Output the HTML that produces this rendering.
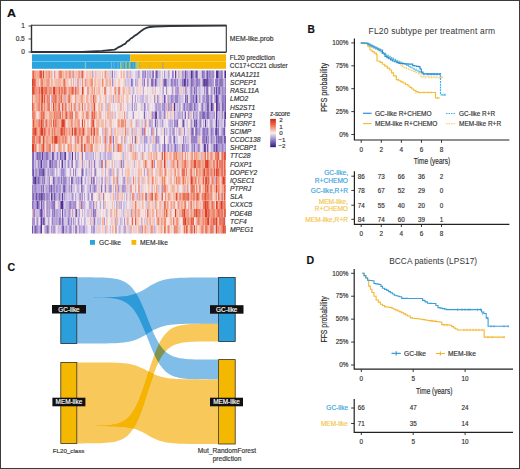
<!DOCTYPE html>
<html><head><meta charset="utf-8"><style>
html,body{margin:0;padding:0;background:#fff;}
#f{position:relative;width:520px;height:469px;overflow:hidden;background:#fff;}
svg text{font-family:"Liberation Sans", sans-serif;stroke:currentColor;stroke-width:0.16px;} svg text.n{stroke:none;}
#bd{position:absolute;left:0;top:0;width:520px;height:469px;box-sizing:border-box;border:1px solid #3a3a3a;}
</style></head><body><div id="f">
<svg width="520" height="469" viewBox="0 0 520 469" style="position:absolute;left:0;top:0">
<g><path fill="#523092" d="M156.16 70.40h1.11v8.15h-1.11zM190.53 70.40h2.22v8.15h-2.22zM201.61 70.40h1.11v8.15h-1.11zM207.15 70.40h1.11v8.15h-1.11zM209.37 70.40h1.11v8.15h-1.11zM216.02 70.40h2.22v8.15h-2.22zM221.57 70.40h1.11v8.15h-1.11zM224.89 70.40h1.11v8.15h-1.11zM183.87 78.56h1.11v8.15h-1.11zM187.20 78.56h1.11v8.15h-1.11zM190.53 78.56h1.11v8.15h-1.11zM203.83 78.56h1.11v8.15h-1.11zM207.15 78.56h1.11v8.15h-1.11zM219.35 78.56h1.11v8.15h-1.11zM221.57 78.56h1.11v8.15h-1.11zM190.53 86.71h1.11v8.15h-1.11zM219.35 86.71h1.11v8.15h-1.11zM187.20 94.87h1.11v8.15h-1.11zM196.07 94.87h1.11v8.15h-1.11zM199.39 94.87h1.11v8.15h-1.11zM210.48 94.87h1.11v8.15h-1.11zM216.02 94.87h1.11v8.15h-1.11zM168.35 103.02h1.11v8.15h-1.11zM173.90 103.02h1.11v8.15h-1.11zM179.44 103.02h1.11v8.15h-1.11zM201.61 103.02h1.11v8.15h-1.11zM207.15 103.02h1.11v8.15h-1.11zM210.48 103.02h2.22v8.15h-2.22zM216.02 103.02h1.11v8.15h-1.11zM221.57 103.02h1.11v8.15h-1.11zM199.39 111.18h1.11v8.15h-1.11zM216.02 111.18h1.11v8.15h-1.11zM221.57 111.18h1.11v8.15h-1.11zM224.89 111.18h1.11v8.15h-1.11zM182.77 119.33h1.11v8.15h-1.11zM216.02 119.33h1.11v8.15h-1.11zM210.48 127.48h1.11v8.15h-1.11zM223.78 127.48h1.11v8.15h-1.11zM210.48 135.64h1.11v8.15h-1.11zM218.24 135.64h1.11v8.15h-1.11zM220.46 135.64h1.11v8.15h-1.11zM203.83 143.80h1.11v8.15h-1.11zM207.15 143.80h1.11v8.15h-1.11zM59.71 151.95h1.11v8.15h-1.11zM71.91 151.95h1.11v8.15h-1.11zM75.23 151.95h1.11v8.15h-1.11zM40.87 160.11h1.11v8.15h-1.11zM49.74 160.11h1.11v8.15h-1.11zM88.54 160.11h1.11v8.15h-1.11zM43.09 168.26h1.11v8.15h-1.11zM34.22 176.41h2.22v8.15h-2.22zM48.63 176.41h1.11v8.15h-1.11zM80.78 176.41h1.11v8.15h-1.11zM56.39 184.57h1.11v8.15h-1.11zM38.65 192.72h1.11v8.15h-1.11zM46.41 192.72h1.11v8.15h-1.11zM50.85 192.72h1.11v8.15h-1.11zM54.17 192.72h1.11v8.15h-1.11zM46.41 200.88h1.11v8.15h-1.11zM60.82 200.88h2.22v8.15h-2.22zM46.41 209.03h1.11v8.15h-1.11zM36.43 217.19h1.11v8.15h-1.11zM40.87 217.19h1.11v8.15h-1.11zM40.87 225.34h1.11v8.15h-1.11zM47.52 225.34h1.11v8.15h-1.11z"/><path fill="#60409d" d="M168.35 70.40h1.11v8.15h-1.11zM175.01 70.40h1.11v8.15h-1.11zM196.07 70.40h1.11v8.15h-1.11zM147.29 78.56h1.11v8.15h-1.11zM151.73 78.56h1.11v8.15h-1.11zM202.72 78.56h1.11v8.15h-1.11zM206.05 78.56h1.11v8.15h-1.11zM216.02 86.71h1.11v8.15h-1.11zM218.24 86.71h1.11v8.15h-1.11zM157.27 94.87h1.11v8.15h-1.11zM170.57 94.87h1.11v8.15h-1.11zM217.13 94.87h1.11v8.15h-1.11zM221.57 94.87h1.11v8.15h-1.11zM170.57 103.02h1.11v8.15h-1.11zM189.42 103.02h1.11v8.15h-1.11zM208.26 103.02h1.11v8.15h-1.11zM217.13 103.02h1.11v8.15h-1.11zM155.05 111.18h2.22v8.15h-2.22zM188.31 111.18h1.11v8.15h-1.11zM207.15 111.18h1.11v8.15h-1.11zM177.22 119.33h1.11v8.15h-1.11zM190.53 119.33h1.11v8.15h-1.11zM196.07 119.33h1.11v8.15h-1.11zM204.94 119.33h1.11v8.15h-1.11zM223.78 119.33h1.11v8.15h-1.11zM169.46 127.48h1.11v8.15h-1.11zM216.02 127.48h1.11v8.15h-1.11zM223.78 135.64h1.11v8.15h-1.11zM181.66 143.80h1.11v8.15h-1.11zM216.02 143.80h1.11v8.15h-1.11zM221.57 143.80h1.11v8.15h-1.11zM41.98 151.95h1.11v8.15h-1.11zM64.15 151.95h2.22v8.15h-2.22zM77.45 151.95h1.11v8.15h-1.11zM37.54 160.11h1.11v8.15h-1.11zM61.93 160.11h1.11v8.15h-1.11zM120.69 160.11h1.11v8.15h-1.11zM33.11 168.26h1.11v8.15h-1.11zM38.65 168.26h1.11v8.15h-1.11zM47.52 168.26h1.11v8.15h-1.11zM75.23 168.26h1.11v8.15h-1.11zM33.11 176.41h1.11v8.15h-1.11zM35.33 184.57h1.11v8.15h-1.11zM48.63 184.57h1.11v8.15h-1.11zM64.15 184.57h1.11v8.15h-1.11zM89.65 184.57h1.11v8.15h-1.11zM100.73 184.57h1.11v8.15h-1.11zM40.87 192.72h1.11v8.15h-1.11zM58.61 192.72h1.11v8.15h-1.11zM61.93 192.72h1.11v8.15h-1.11zM36.43 200.88h2.22v8.15h-2.22zM40.87 209.03h1.11v8.15h-1.11zM78.56 209.03h1.11v8.15h-1.11zM43.09 217.19h1.11v8.15h-1.11zM46.41 225.34h1.11v8.15h-1.11zM75.23 225.34h1.11v8.15h-1.11z"/><path fill="#6f51a8" d="M138.42 70.40h1.11v8.15h-1.11zM149.51 70.40h1.11v8.15h-1.11zM184.98 70.40h1.11v8.15h-1.11zM150.62 78.56h1.11v8.15h-1.11zM155.05 78.56h1.11v8.15h-1.11zM165.03 78.56h1.11v8.15h-1.11zM170.57 78.56h1.11v8.15h-1.11zM184.98 78.56h1.11v8.15h-1.11zM191.63 78.56h1.11v8.15h-1.11zM204.94 78.56h1.11v8.15h-1.11zM210.48 78.56h1.11v8.15h-1.11zM220.46 78.56h1.11v8.15h-1.11zM207.15 86.71h1.11v8.15h-1.11zM213.81 86.71h1.11v8.15h-1.11zM221.57 86.71h1.11v8.15h-1.11zM163.92 94.87h1.11v8.15h-1.11zM190.53 94.87h1.11v8.15h-1.11zM192.74 94.87h1.11v8.15h-1.11zM208.26 94.87h1.11v8.15h-1.11zM159.49 103.02h1.11v8.15h-1.11zM190.53 103.02h1.11v8.15h-1.11zM219.35 103.02h1.11v8.15h-1.11zM222.67 103.02h1.11v8.15h-1.11zM159.49 111.18h1.11v8.15h-1.11zM201.61 111.18h1.11v8.15h-1.11zM208.26 111.18h1.11v8.15h-1.11zM155.05 119.33h1.11v8.15h-1.11zM193.85 119.33h1.11v8.15h-1.11zM199.39 119.33h1.11v8.15h-1.11zM190.53 127.48h1.11v8.15h-1.11zM199.39 127.48h1.11v8.15h-1.11zM135.10 135.64h1.11v8.15h-1.11zM206.05 135.64h1.11v8.15h-1.11zM221.57 135.64h1.11v8.15h-1.11zM198.29 143.80h1.11v8.15h-1.11zM204.94 143.80h1.11v8.15h-1.11zM213.81 143.80h1.11v8.15h-1.11zM33.11 151.95h1.11v8.15h-1.11zM38.65 151.95h1.11v8.15h-1.11zM51.95 151.95h1.11v8.15h-1.11zM58.61 160.11h1.11v8.15h-1.11zM67.47 160.11h1.11v8.15h-1.11zM35.33 168.26h1.11v8.15h-1.11zM44.19 176.41h1.11v8.15h-1.11zM53.06 176.41h1.11v8.15h-1.11zM68.58 176.41h1.11v8.15h-1.11zM70.80 176.41h1.11v8.15h-1.11zM90.75 176.41h1.11v8.15h-1.11zM117.36 176.41h1.11v8.15h-1.11zM43.09 184.57h1.11v8.15h-1.11zM50.85 184.57h1.11v8.15h-1.11zM105.17 184.57h1.11v8.15h-1.11zM33.11 192.72h1.11v8.15h-1.11zM35.33 192.72h2.22v8.15h-2.22zM48.63 192.72h1.11v8.15h-1.11zM40.87 200.88h1.11v8.15h-1.11zM54.17 200.88h1.11v8.15h-1.11zM69.69 200.88h1.11v8.15h-1.11zM39.76 209.03h1.11v8.15h-1.11zM54.17 209.03h1.11v8.15h-1.11zM61.93 209.03h1.11v8.15h-1.11zM75.23 209.03h2.22v8.15h-2.22zM58.61 217.19h1.11v8.15h-1.11zM32.00 225.34h1.11v8.15h-1.11zM36.43 225.34h1.11v8.15h-1.11zM63.04 225.34h1.11v8.15h-1.11z"/><path fill="#7d61b3" d="M111.82 70.40h1.11v8.15h-1.11zM147.29 70.40h1.11v8.15h-1.11zM152.83 70.40h1.11v8.15h-1.11zM197.18 70.40h1.11v8.15h-1.11zM212.70 70.40h1.11v8.15h-1.11zM218.24 70.40h1.11v8.15h-1.11zM220.46 70.40h1.11v8.15h-1.11zM163.92 78.56h1.11v8.15h-1.11zM171.68 78.56h1.11v8.15h-1.11zM177.22 78.56h1.11v8.15h-1.11zM197.18 78.56h1.11v8.15h-1.11zM199.39 78.56h1.11v8.15h-1.11zM208.26 78.56h1.11v8.15h-1.11zM217.13 78.56h1.11v8.15h-1.11zM193.85 86.71h1.11v8.15h-1.11zM210.48 86.71h1.11v8.15h-1.11zM184.98 94.87h1.11v8.15h-1.11zM207.15 94.87h1.11v8.15h-1.11zM224.89 94.87h1.11v8.15h-1.11zM193.85 103.02h1.11v8.15h-1.11zM212.70 103.02h1.11v8.15h-1.11zM224.89 103.02h1.11v8.15h-1.11zM143.97 111.18h1.11v8.15h-1.11zM181.66 111.18h1.11v8.15h-1.11zM184.98 111.18h1.11v8.15h-1.11zM192.74 111.18h1.11v8.15h-1.11zM202.72 111.18h2.22v8.15h-2.22zM223.78 111.18h1.11v8.15h-1.11zM200.50 119.33h1.11v8.15h-1.11zM218.24 119.33h1.11v8.15h-1.11zM156.16 127.48h1.11v8.15h-1.11zM191.63 127.48h2.22v8.15h-2.22zM196.07 127.48h1.11v8.15h-1.11zM207.15 127.48h1.11v8.15h-1.11zM214.91 127.48h1.11v8.15h-1.11zM222.67 127.48h1.11v8.15h-1.11zM156.16 135.64h1.11v8.15h-1.11zM163.92 135.64h1.11v8.15h-1.11zM169.46 135.64h1.11v8.15h-1.11zM173.90 135.64h1.11v8.15h-1.11zM182.77 135.64h1.11v8.15h-1.11zM202.72 135.64h1.11v8.15h-1.11zM208.26 135.64h1.11v8.15h-1.11zM216.02 135.64h1.11v8.15h-1.11zM219.35 135.64h1.11v8.15h-1.11zM224.89 135.64h1.11v8.15h-1.11zM163.92 143.80h1.11v8.15h-1.11zM170.57 143.80h1.11v8.15h-1.11zM191.63 143.80h1.11v8.15h-1.11zM193.85 143.80h1.11v8.15h-1.11zM217.13 143.80h1.11v8.15h-1.11zM36.43 151.95h2.22v8.15h-2.22zM39.76 151.95h1.11v8.15h-1.11zM53.06 151.95h1.11v8.15h-1.11zM46.41 160.11h1.11v8.15h-1.11zM48.63 160.11h1.11v8.15h-1.11zM56.39 160.11h1.11v8.15h-1.11zM94.08 160.11h1.11v8.15h-1.11zM105.17 160.11h1.11v8.15h-1.11zM39.76 168.26h1.11v8.15h-1.11zM41.98 168.26h1.11v8.15h-1.11zM56.39 168.26h1.11v8.15h-1.11zM81.89 168.26h1.11v8.15h-1.11zM95.19 168.26h1.11v8.15h-1.11zM37.54 176.41h2.22v8.15h-2.22zM58.61 176.41h1.11v8.15h-1.11zM60.82 176.41h1.11v8.15h-1.11zM65.26 176.41h1.11v8.15h-1.11zM63.04 184.57h1.11v8.15h-1.11zM68.58 184.57h1.11v8.15h-1.11zM70.80 184.57h1.11v8.15h-1.11zM80.78 184.57h1.11v8.15h-1.11zM39.76 192.72h1.11v8.15h-1.11zM41.98 192.72h1.11v8.15h-1.11zM44.19 192.72h1.11v8.15h-1.11zM79.67 192.72h1.11v8.15h-1.11zM98.51 192.72h1.11v8.15h-1.11zM38.65 200.88h1.11v8.15h-1.11zM59.71 200.88h1.11v8.15h-1.11zM75.23 200.88h1.11v8.15h-1.11zM80.78 200.88h1.11v8.15h-1.11zM48.63 209.03h1.11v8.15h-1.11zM56.39 209.03h1.11v8.15h-1.11zM44.19 217.19h1.11v8.15h-1.11zM59.71 217.19h1.11v8.15h-1.11zM61.93 217.19h1.11v8.15h-1.11zM94.08 217.19h1.11v8.15h-1.11zM34.22 225.34h2.22v8.15h-2.22zM39.76 225.34h1.11v8.15h-1.11zM69.69 225.34h1.11v8.15h-1.11zM76.34 225.34h1.11v8.15h-1.11z"/><path fill="#8b71bf" d="M145.07 70.40h1.11v8.15h-1.11zM151.73 70.40h1.11v8.15h-1.11zM157.27 70.40h1.11v8.15h-1.11zM178.33 70.40h1.11v8.15h-1.11zM192.74 70.40h1.11v8.15h-1.11zM211.59 70.40h1.11v8.15h-1.11zM223.78 70.40h1.11v8.15h-1.11zM130.66 78.56h2.22v8.15h-2.22zM143.97 78.56h1.11v8.15h-1.11zM166.14 78.56h1.11v8.15h-1.11zM181.66 78.56h2.22v8.15h-2.22zM192.74 78.56h1.11v8.15h-1.11zM196.07 78.56h1.11v8.15h-1.11zM198.29 78.56h1.11v8.15h-1.11zM209.37 78.56h1.11v8.15h-1.11zM212.70 78.56h1.11v8.15h-1.11zM216.02 78.56h1.11v8.15h-1.11zM166.14 86.71h1.11v8.15h-1.11zM171.68 86.71h1.11v8.15h-1.11zM177.22 86.71h1.11v8.15h-1.11zM196.07 86.71h1.11v8.15h-1.11zM206.05 86.71h1.11v8.15h-1.11zM131.77 94.87h1.11v8.15h-1.11zM206.05 94.87h1.11v8.15h-1.11zM211.59 94.87h1.11v8.15h-1.11zM218.24 94.87h1.11v8.15h-1.11zM131.77 103.02h1.11v8.15h-1.11zM183.87 103.02h1.11v8.15h-1.11zM191.63 103.02h1.11v8.15h-1.11zM218.24 103.02h1.11v8.15h-1.11zM151.73 111.18h1.11v8.15h-1.11zM179.44 111.18h1.11v8.15h-1.11zM157.27 119.33h1.11v8.15h-1.11zM161.70 119.33h1.11v8.15h-1.11zM210.48 119.33h1.11v8.15h-1.11zM141.75 127.48h1.11v8.15h-1.11zM202.72 127.48h2.22v8.15h-2.22zM211.59 127.48h1.11v8.15h-1.11zM217.13 127.48h2.22v8.15h-2.22zM112.93 135.64h1.11v8.15h-1.11zM131.77 135.64h1.11v8.15h-1.11zM201.61 135.64h1.11v8.15h-1.11zM203.83 135.64h1.11v8.15h-1.11zM175.01 143.80h1.11v8.15h-1.11zM219.35 143.80h1.11v8.15h-1.11zM32.00 151.95h1.11v8.15h-1.11zM45.30 151.95h3.33v8.15h-3.33zM68.58 151.95h1.11v8.15h-1.11zM81.89 151.95h1.11v8.15h-1.11zM99.62 151.95h1.11v8.15h-1.11zM32.00 160.11h2.22v8.15h-2.22zM35.33 160.11h1.11v8.15h-1.11zM39.76 160.11h1.11v8.15h-1.11zM51.95 160.11h1.11v8.15h-1.11zM55.28 160.11h1.11v8.15h-1.11zM71.91 160.11h1.11v8.15h-1.11zM76.34 160.11h1.11v8.15h-1.11zM100.73 160.11h1.11v8.15h-1.11zM32.00 168.26h1.11v8.15h-1.11zM36.43 168.26h1.11v8.15h-1.11zM40.87 168.26h1.11v8.15h-1.11zM44.19 168.26h1.11v8.15h-1.11zM117.36 168.26h1.11v8.15h-1.11zM36.43 176.41h1.11v8.15h-1.11zM54.17 176.41h1.11v8.15h-1.11zM57.50 176.41h1.11v8.15h-1.11zM71.91 176.41h1.11v8.15h-1.11zM92.97 176.41h1.11v8.15h-1.11zM40.87 184.57h1.11v8.15h-1.11zM46.41 184.57h1.11v8.15h-1.11zM54.17 184.57h1.11v8.15h-1.11zM59.71 184.57h1.11v8.15h-1.11zM94.08 184.57h1.11v8.15h-1.11zM109.60 184.57h1.11v8.15h-1.11zM37.54 192.72h1.11v8.15h-1.11zM43.09 192.72h1.11v8.15h-1.11zM75.23 192.72h1.11v8.15h-1.11zM90.75 192.72h1.11v8.15h-1.11zM129.55 192.72h1.11v8.15h-1.11zM146.18 192.72h1.11v8.15h-1.11zM32.00 200.88h1.11v8.15h-1.11zM48.63 200.88h1.11v8.15h-1.11zM53.06 200.88h1.11v8.15h-1.11zM68.58 200.88h1.11v8.15h-1.11zM99.62 200.88h1.11v8.15h-1.11zM116.25 200.88h1.11v8.15h-1.11zM59.71 209.03h1.11v8.15h-1.11zM92.97 209.03h1.11v8.15h-1.11zM130.66 209.03h1.11v8.15h-1.11zM56.39 217.19h1.11v8.15h-1.11zM67.47 217.19h2.22v8.15h-2.22zM70.80 217.19h1.11v8.15h-1.11zM61.93 225.34h1.11v8.15h-1.11z"/><path fill="#9982ca" d="M159.49 70.40h1.11v8.15h-1.11zM171.68 70.40h2.22v8.15h-2.22zM187.20 70.40h1.11v8.15h-1.11zM194.96 70.40h1.11v8.15h-1.11zM202.72 70.40h2.22v8.15h-2.22zM206.05 70.40h1.11v8.15h-1.11zM208.26 70.40h1.11v8.15h-1.11zM210.48 70.40h1.11v8.15h-1.11zM219.35 70.40h1.11v8.15h-1.11zM111.82 78.56h1.11v8.15h-1.11zM156.16 78.56h1.11v8.15h-1.11zM162.81 78.56h1.11v8.15h-1.11zM173.90 78.56h2.22v8.15h-2.22zM211.59 78.56h1.11v8.15h-1.11zM214.91 78.56h1.11v8.15h-1.11zM224.89 78.56h1.11v8.15h-1.11zM178.33 86.71h1.11v8.15h-1.11zM203.83 86.71h1.11v8.15h-1.11zM222.67 86.71h1.11v8.15h-1.11zM224.89 86.71h1.11v8.15h-1.11zM168.35 94.87h1.11v8.15h-1.11zM175.01 94.87h3.33v8.15h-3.33zM179.44 94.87h1.11v8.15h-1.11zM191.63 94.87h1.11v8.15h-1.11zM202.72 94.87h1.11v8.15h-1.11zM222.67 94.87h2.22v8.15h-2.22zM127.34 103.02h1.11v8.15h-1.11zM143.97 103.02h1.11v8.15h-1.11zM156.16 103.02h1.11v8.15h-1.11zM163.92 103.02h1.11v8.15h-1.11zM188.31 103.02h1.11v8.15h-1.11zM223.78 103.02h1.11v8.15h-1.11zM163.92 111.18h1.11v8.15h-1.11zM190.53 111.18h1.11v8.15h-1.11zM200.50 111.18h1.11v8.15h-1.11zM209.37 111.18h1.11v8.15h-1.11zM213.81 111.18h1.11v8.15h-1.11zM219.35 111.18h1.11v8.15h-1.11zM159.49 119.33h1.11v8.15h-1.11zM168.35 119.33h1.11v8.15h-1.11zM171.68 119.33h1.11v8.15h-1.11zM173.90 119.33h1.11v8.15h-1.11zM176.11 119.33h1.11v8.15h-1.11zM181.66 119.33h1.11v8.15h-1.11zM194.96 119.33h1.11v8.15h-1.11zM211.59 119.33h1.11v8.15h-1.11zM163.92 127.48h1.11v8.15h-1.11zM172.79 127.48h1.11v8.15h-1.11zM179.44 127.48h1.11v8.15h-1.11zM183.87 127.48h1.11v8.15h-1.11zM194.96 127.48h1.11v8.15h-1.11zM197.18 127.48h1.11v8.15h-1.11zM201.61 127.48h1.11v8.15h-1.11zM206.05 127.48h1.11v8.15h-1.11zM212.70 127.48h1.11v8.15h-1.11zM221.57 127.48h1.11v8.15h-1.11zM146.18 135.64h1.11v8.15h-1.11zM170.57 135.64h1.11v8.15h-1.11zM190.53 135.64h6.65v8.15h-6.65zM211.59 135.64h1.11v8.15h-1.11zM217.13 135.64h1.11v8.15h-1.11zM148.40 143.80h1.11v8.15h-1.11zM159.49 143.80h1.11v8.15h-1.11zM167.25 143.80h2.22v8.15h-2.22zM177.22 143.80h1.11v8.15h-1.11zM179.44 143.80h1.11v8.15h-1.11zM182.77 143.80h1.11v8.15h-1.11zM186.09 143.80h1.11v8.15h-1.11zM188.31 143.80h1.11v8.15h-1.11zM199.39 143.80h1.11v8.15h-1.11zM210.48 143.80h1.11v8.15h-1.11zM212.70 143.80h1.11v8.15h-1.11zM218.24 143.80h1.11v8.15h-1.11zM222.67 143.80h1.11v8.15h-1.11zM35.33 151.95h1.11v8.15h-1.11zM44.19 151.95h1.11v8.15h-1.11zM56.39 151.95h2.22v8.15h-2.22zM60.82 151.95h1.11v8.15h-1.11zM107.38 151.95h1.11v8.15h-1.11zM45.30 160.11h1.11v8.15h-1.11zM54.17 160.11h1.11v8.15h-1.11zM65.26 160.11h1.11v8.15h-1.11zM68.58 160.11h1.11v8.15h-1.11zM60.82 168.26h1.11v8.15h-1.11zM63.04 168.26h1.11v8.15h-1.11zM69.69 168.26h1.11v8.15h-1.11zM73.02 168.26h1.11v8.15h-1.11zM41.98 176.41h1.11v8.15h-1.11zM63.04 176.41h2.22v8.15h-2.22zM94.08 176.41h1.11v8.15h-1.11zM96.30 176.41h1.11v8.15h-1.11zM32.00 184.57h1.11v8.15h-1.11zM37.54 184.57h1.11v8.15h-1.11zM49.74 184.57h1.11v8.15h-1.11zM53.06 184.57h1.11v8.15h-1.11zM58.61 184.57h1.11v8.15h-1.11zM65.26 184.57h1.11v8.15h-1.11zM95.19 184.57h1.11v8.15h-1.11zM108.49 184.57h1.11v8.15h-1.11zM110.71 184.57h1.11v8.15h-1.11zM115.14 184.57h1.11v8.15h-1.11zM32.00 192.72h1.11v8.15h-1.11zM47.52 192.72h1.11v8.15h-1.11zM51.95 192.72h1.11v8.15h-1.11zM55.28 192.72h1.11v8.15h-1.11zM64.15 192.72h1.11v8.15h-1.11zM91.86 192.72h1.11v8.15h-1.11zM102.95 192.72h1.11v8.15h-1.11zM126.23 192.72h1.11v8.15h-1.11zM33.11 200.88h1.11v8.15h-1.11zM35.33 200.88h1.11v8.15h-1.11zM43.09 200.88h1.11v8.15h-1.11zM51.95 200.88h1.11v8.15h-1.11zM66.37 200.88h1.11v8.15h-1.11zM92.97 200.88h1.11v8.15h-1.11zM96.30 200.88h1.11v8.15h-1.11zM120.69 200.88h1.11v8.15h-1.11zM33.11 209.03h2.22v8.15h-2.22zM41.98 209.03h1.11v8.15h-1.11zM51.95 209.03h1.11v8.15h-1.11zM65.26 209.03h1.11v8.15h-1.11zM67.47 209.03h1.11v8.15h-1.11zM94.08 209.03h2.22v8.15h-2.22zM51.95 217.19h1.11v8.15h-1.11zM97.41 217.19h1.11v8.15h-1.11zM37.54 225.34h1.11v8.15h-1.11zM54.17 225.34h1.11v8.15h-1.11zM68.58 225.34h1.11v8.15h-1.11z"/><path fill="#a892d3" d="M127.34 70.40h1.11v8.15h-1.11zM129.55 70.40h1.11v8.15h-1.11zM141.75 70.40h2.22v8.15h-2.22zM155.05 70.40h1.11v8.15h-1.11zM163.92 70.40h1.11v8.15h-1.11zM181.66 70.40h2.22v8.15h-2.22zM186.09 70.40h1.11v8.15h-1.11zM135.10 78.56h1.11v8.15h-1.11zM137.31 78.56h1.11v8.15h-1.11zM141.75 78.56h1.11v8.15h-1.11zM152.83 78.56h1.11v8.15h-1.11zM188.31 78.56h1.11v8.15h-1.11zM201.61 78.56h1.11v8.15h-1.11zM218.24 78.56h1.11v8.15h-1.11zM222.67 78.56h1.11v8.15h-1.11zM162.81 86.71h1.11v8.15h-1.11zM176.11 86.71h1.11v8.15h-1.11zM184.98 86.71h1.11v8.15h-1.11zM191.63 86.71h1.11v8.15h-1.11zM199.39 86.71h1.11v8.15h-1.11zM211.59 86.71h1.11v8.15h-1.11zM217.13 86.71h1.11v8.15h-1.11zM223.78 86.71h1.11v8.15h-1.11zM135.10 94.87h1.11v8.15h-1.11zM137.31 94.87h1.11v8.15h-1.11zM153.94 94.87h1.11v8.15h-1.11zM165.03 94.87h1.11v8.15h-1.11zM167.25 94.87h1.11v8.15h-1.11zM171.68 94.87h2.22v8.15h-2.22zM186.09 94.87h1.11v8.15h-1.11zM189.42 94.87h1.11v8.15h-1.11zM194.96 94.87h1.11v8.15h-1.11zM201.61 94.87h1.11v8.15h-1.11zM203.83 94.87h1.11v8.15h-1.11zM214.91 94.87h1.11v8.15h-1.11zM107.38 103.02h1.11v8.15h-1.11zM119.58 103.02h1.11v8.15h-1.11zM136.21 103.02h1.11v8.15h-1.11zM147.29 103.02h1.11v8.15h-1.11zM161.70 103.02h2.22v8.15h-2.22zM177.22 103.02h1.11v8.15h-1.11zM182.77 103.02h1.11v8.15h-1.11zM186.09 103.02h2.22v8.15h-2.22zM194.96 103.02h1.11v8.15h-1.11zM200.50 103.02h1.11v8.15h-1.11zM132.88 111.18h1.11v8.15h-1.11zM158.38 111.18h1.11v8.15h-1.11zM160.59 111.18h1.11v8.15h-1.11zM173.90 111.18h1.11v8.15h-1.11zM196.07 111.18h1.11v8.15h-1.11zM204.94 111.18h2.22v8.15h-2.22zM210.48 111.18h1.11v8.15h-1.11zM217.13 111.18h1.11v8.15h-1.11zM136.21 119.33h1.11v8.15h-1.11zM145.07 119.33h1.11v8.15h-1.11zM151.73 119.33h1.11v8.15h-1.11zM175.01 119.33h1.11v8.15h-1.11zM202.72 119.33h1.11v8.15h-1.11zM209.37 119.33h1.11v8.15h-1.11zM221.57 119.33h1.11v8.15h-1.11zM127.34 127.48h1.11v8.15h-1.11zM150.62 127.48h2.22v8.15h-2.22zM171.68 127.48h1.11v8.15h-1.11zM178.33 127.48h1.11v8.15h-1.11zM198.29 127.48h1.11v8.15h-1.11zM204.94 127.48h1.11v8.15h-1.11zM220.46 127.48h1.11v8.15h-1.11zM143.97 135.64h1.11v8.15h-1.11zM149.51 135.64h1.11v8.15h-1.11zM157.27 135.64h2.22v8.15h-2.22zM172.79 135.64h1.11v8.15h-1.11zM204.94 135.64h1.11v8.15h-1.11zM207.15 135.64h1.11v8.15h-1.11zM112.93 143.80h1.11v8.15h-1.11zM129.55 143.80h1.11v8.15h-1.11zM165.03 143.80h1.11v8.15h-1.11zM173.90 143.80h1.11v8.15h-1.11zM183.87 143.80h1.11v8.15h-1.11zM197.18 143.80h1.11v8.15h-1.11zM214.91 143.80h1.11v8.15h-1.11zM220.46 143.80h1.11v8.15h-1.11zM224.89 143.80h1.11v8.15h-1.11zM43.09 151.95h1.11v8.15h-1.11zM48.63 151.95h1.11v8.15h-1.11zM61.93 151.95h1.11v8.15h-1.11zM69.69 151.95h1.11v8.15h-1.11zM85.21 151.95h1.11v8.15h-1.11zM87.43 151.95h1.11v8.15h-1.11zM105.17 151.95h1.11v8.15h-1.11zM109.60 151.95h1.11v8.15h-1.11zM200.50 151.95h1.11v8.15h-1.11zM38.65 160.11h1.11v8.15h-1.11zM43.09 160.11h2.22v8.15h-2.22zM50.85 160.11h1.11v8.15h-1.11zM60.82 160.11h1.11v8.15h-1.11zM70.80 160.11h1.11v8.15h-1.11zM75.23 160.11h1.11v8.15h-1.11zM81.89 160.11h1.11v8.15h-1.11zM90.75 160.11h1.11v8.15h-1.11zM98.51 160.11h1.11v8.15h-1.11zM122.90 160.11h1.11v8.15h-1.11zM153.94 160.11h1.11v8.15h-1.11zM49.74 168.26h1.11v8.15h-1.11zM51.95 168.26h1.11v8.15h-1.11zM61.93 168.26h1.11v8.15h-1.11zM64.15 168.26h1.11v8.15h-1.11zM80.78 168.26h1.11v8.15h-1.11zM88.54 168.26h1.11v8.15h-1.11zM90.75 168.26h1.11v8.15h-1.11zM94.08 168.26h1.11v8.15h-1.11zM105.17 168.26h1.11v8.15h-1.11zM108.49 168.26h1.11v8.15h-1.11zM39.76 176.41h1.11v8.15h-1.11zM43.09 176.41h1.11v8.15h-1.11zM56.39 176.41h1.11v8.15h-1.11zM66.37 176.41h1.11v8.15h-1.11zM77.45 176.41h2.22v8.15h-2.22zM85.21 176.41h1.11v8.15h-1.11zM98.51 176.41h1.11v8.15h-1.11zM101.84 176.41h1.11v8.15h-1.11zM105.17 176.41h1.11v8.15h-1.11zM124.01 176.41h1.11v8.15h-1.11zM33.11 184.57h2.22v8.15h-2.22zM36.43 184.57h1.11v8.15h-1.11zM45.30 184.57h1.11v8.15h-1.11zM57.50 184.57h1.11v8.15h-1.11zM77.45 184.57h1.11v8.15h-1.11zM81.89 184.57h1.11v8.15h-1.11zM87.43 184.57h1.11v8.15h-1.11zM117.36 184.57h2.22v8.15h-2.22zM121.79 184.57h2.22v8.15h-2.22zM129.55 184.57h1.11v8.15h-1.11zM158.38 184.57h1.11v8.15h-1.11zM34.22 192.72h1.11v8.15h-1.11zM56.39 192.72h1.11v8.15h-1.11zM59.71 192.72h1.11v8.15h-1.11zM71.91 192.72h1.11v8.15h-1.11zM78.56 192.72h1.11v8.15h-1.11zM81.89 192.72h1.11v8.15h-1.11zM84.10 192.72h1.11v8.15h-1.11zM87.43 192.72h2.22v8.15h-2.22zM34.22 200.88h1.11v8.15h-1.11zM47.52 200.88h1.11v8.15h-1.11zM50.85 200.88h1.11v8.15h-1.11zM63.04 200.88h1.11v8.15h-1.11zM70.80 200.88h1.11v8.15h-1.11zM73.02 200.88h2.22v8.15h-2.22zM78.56 200.88h1.11v8.15h-1.11zM36.43 209.03h1.11v8.15h-1.11zM38.65 209.03h1.11v8.15h-1.11zM44.19 209.03h1.11v8.15h-1.11zM53.06 209.03h1.11v8.15h-1.11zM57.50 209.03h1.11v8.15h-1.11zM64.15 209.03h1.11v8.15h-1.11zM68.58 209.03h2.22v8.15h-2.22zM87.43 209.03h1.11v8.15h-1.11zM90.75 209.03h1.11v8.15h-1.11zM106.27 209.03h1.11v8.15h-1.11zM32.00 217.19h3.33v8.15h-3.33zM37.54 217.19h1.11v8.15h-1.11zM39.76 217.19h1.11v8.15h-1.11zM41.98 217.19h1.11v8.15h-1.11zM55.28 217.19h1.11v8.15h-1.11zM63.04 217.19h1.11v8.15h-1.11zM73.02 217.19h1.11v8.15h-1.11zM75.23 217.19h1.11v8.15h-1.11zM77.45 217.19h2.22v8.15h-2.22zM99.62 217.19h1.11v8.15h-1.11zM104.06 217.19h1.11v8.15h-1.11zM115.14 217.19h1.11v8.15h-1.11zM119.58 217.19h1.11v8.15h-1.11zM124.01 217.19h1.11v8.15h-1.11zM140.64 217.19h1.11v8.15h-1.11zM50.85 225.34h1.11v8.15h-1.11zM53.06 225.34h1.11v8.15h-1.11zM57.50 225.34h1.11v8.15h-1.11zM65.26 225.34h2.22v8.15h-2.22zM70.80 225.34h1.11v8.15h-1.11zM78.56 225.34h2.22v8.15h-2.22zM82.99 225.34h2.22v8.15h-2.22zM90.75 225.34h1.11v8.15h-1.11zM92.97 225.34h2.22v8.15h-2.22zM109.60 225.34h1.11v8.15h-1.11zM118.47 225.34h1.11v8.15h-1.11z"/><path fill="#b6a2d8" d="M91.86 70.40h1.11v8.15h-1.11zM126.23 70.40h1.11v8.15h-1.11zM137.31 70.40h1.11v8.15h-1.11zM143.97 70.40h1.11v8.15h-1.11zM199.39 70.40h1.11v8.15h-1.11zM128.45 78.56h1.11v8.15h-1.11zM148.40 78.56h1.11v8.15h-1.11zM172.79 78.56h1.11v8.15h-1.11zM176.11 78.56h1.11v8.15h-1.11zM186.09 78.56h1.11v8.15h-1.11zM193.85 78.56h2.22v8.15h-2.22zM142.86 86.71h1.11v8.15h-1.11zM159.49 86.71h1.11v8.15h-1.11zM175.01 86.71h1.11v8.15h-1.11zM186.09 86.71h1.11v8.15h-1.11zM189.42 86.71h1.11v8.15h-1.11zM194.96 86.71h1.11v8.15h-1.11zM198.29 86.71h1.11v8.15h-1.11zM220.46 86.71h1.11v8.15h-1.11zM64.15 94.87h1.11v8.15h-1.11zM108.49 94.87h1.11v8.15h-1.11zM112.93 94.87h1.11v8.15h-1.11zM139.53 94.87h1.11v8.15h-1.11zM141.75 94.87h1.11v8.15h-1.11zM178.33 94.87h1.11v8.15h-1.11zM193.85 94.87h1.11v8.15h-1.11zM197.18 94.87h1.11v8.15h-1.11zM213.81 94.87h1.11v8.15h-1.11zM220.46 94.87h1.11v8.15h-1.11zM133.99 103.02h1.11v8.15h-1.11zM145.07 103.02h1.11v8.15h-1.11zM155.05 103.02h1.11v8.15h-1.11zM157.27 103.02h2.22v8.15h-2.22zM169.46 103.02h1.11v8.15h-1.11zM196.07 103.02h2.22v8.15h-2.22zM202.72 103.02h1.11v8.15h-1.11zM204.94 103.02h2.22v8.15h-2.22zM126.23 111.18h1.11v8.15h-1.11zM148.40 111.18h1.11v8.15h-1.11zM152.83 111.18h2.22v8.15h-2.22zM177.22 111.18h2.22v8.15h-2.22zM197.18 111.18h1.11v8.15h-1.11zM211.59 111.18h2.22v8.15h-2.22zM138.42 119.33h1.11v8.15h-1.11zM148.40 119.33h3.33v8.15h-3.33zM169.46 119.33h2.22v8.15h-2.22zM183.87 119.33h1.11v8.15h-1.11zM197.18 119.33h1.11v8.15h-1.11zM217.13 119.33h1.11v8.15h-1.11zM220.46 119.33h1.11v8.15h-1.11zM224.89 119.33h1.11v8.15h-1.11zM131.77 127.48h1.11v8.15h-1.11zM142.86 127.48h1.11v8.15h-1.11zM166.14 127.48h1.11v8.15h-1.11zM173.90 127.48h1.11v8.15h-1.11zM208.26 127.48h1.11v8.15h-1.11zM120.69 135.64h1.11v8.15h-1.11zM139.53 135.64h1.11v8.15h-1.11zM145.07 135.64h1.11v8.15h-1.11zM155.05 135.64h1.11v8.15h-1.11zM168.35 135.64h1.11v8.15h-1.11zM184.98 135.64h1.11v8.15h-1.11zM188.31 135.64h1.11v8.15h-1.11zM197.18 135.64h1.11v8.15h-1.11zM199.39 135.64h1.11v8.15h-1.11zM212.70 135.64h2.22v8.15h-2.22zM222.67 135.64h1.11v8.15h-1.11zM138.42 143.80h1.11v8.15h-1.11zM143.97 143.80h1.11v8.15h-1.11zM155.05 143.80h1.11v8.15h-1.11zM158.38 143.80h1.11v8.15h-1.11zM161.70 143.80h2.22v8.15h-2.22zM176.11 143.80h1.11v8.15h-1.11zM187.20 143.80h1.11v8.15h-1.11zM190.53 143.80h1.11v8.15h-1.11zM192.74 143.80h1.11v8.15h-1.11zM202.72 143.80h1.11v8.15h-1.11zM208.26 143.80h1.11v8.15h-1.11zM223.78 143.80h1.11v8.15h-1.11zM40.87 151.95h1.11v8.15h-1.11zM49.74 151.95h1.11v8.15h-1.11zM63.04 151.95h1.11v8.15h-1.11zM86.32 151.95h1.11v8.15h-1.11zM89.65 151.95h1.11v8.15h-1.11zM92.97 151.95h1.11v8.15h-1.11zM95.19 151.95h1.11v8.15h-1.11zM108.49 151.95h1.11v8.15h-1.11zM110.71 151.95h1.11v8.15h-1.11zM53.06 160.11h1.11v8.15h-1.11zM64.15 160.11h1.11v8.15h-1.11zM77.45 160.11h1.11v8.15h-1.11zM86.32 160.11h1.11v8.15h-1.11zM37.54 168.26h1.11v8.15h-1.11zM45.30 168.26h1.11v8.15h-1.11zM50.85 168.26h1.11v8.15h-1.11zM53.06 168.26h1.11v8.15h-1.11zM65.26 168.26h1.11v8.15h-1.11zM82.99 168.26h1.11v8.15h-1.11zM85.21 168.26h2.22v8.15h-2.22zM109.60 168.26h2.22v8.15h-2.22zM121.79 168.26h1.11v8.15h-1.11zM143.97 168.26h1.11v8.15h-1.11zM55.28 176.41h1.11v8.15h-1.11zM75.23 176.41h2.22v8.15h-2.22zM87.43 176.41h1.11v8.15h-1.11zM100.73 176.41h1.11v8.15h-1.11zM122.90 176.41h1.11v8.15h-1.11zM38.65 184.57h2.22v8.15h-2.22zM41.98 184.57h1.11v8.15h-1.11zM47.52 184.57h1.11v8.15h-1.11zM51.95 184.57h1.11v8.15h-1.11zM55.28 184.57h1.11v8.15h-1.11zM66.37 184.57h1.11v8.15h-1.11zM76.34 184.57h1.11v8.15h-1.11zM78.56 184.57h1.11v8.15h-1.11zM92.97 184.57h1.11v8.15h-1.11zM96.30 184.57h1.11v8.15h-1.11zM98.51 184.57h1.11v8.15h-1.11zM124.01 184.57h2.22v8.15h-2.22zM162.81 184.57h1.11v8.15h-1.11zM45.30 192.72h1.11v8.15h-1.11zM53.06 192.72h1.11v8.15h-1.11zM57.50 192.72h1.11v8.15h-1.11zM66.37 192.72h1.11v8.15h-1.11zM68.58 192.72h1.11v8.15h-1.11zM115.14 192.72h1.11v8.15h-1.11zM41.98 200.88h1.11v8.15h-1.11zM44.19 200.88h1.11v8.15h-1.11zM49.74 200.88h1.11v8.15h-1.11zM57.50 200.88h1.11v8.15h-1.11zM67.47 200.88h1.11v8.15h-1.11zM71.91 200.88h1.11v8.15h-1.11zM81.89 200.88h1.11v8.15h-1.11zM88.54 200.88h3.33v8.15h-3.33zM102.95 200.88h1.11v8.15h-1.11zM47.52 209.03h1.11v8.15h-1.11zM55.28 209.03h1.11v8.15h-1.11zM58.61 209.03h1.11v8.15h-1.11zM71.91 209.03h1.11v8.15h-1.11zM47.52 217.19h2.22v8.15h-2.22zM53.06 217.19h2.22v8.15h-2.22zM57.50 217.19h1.11v8.15h-1.11zM84.10 217.19h1.11v8.15h-1.11zM89.65 217.19h1.11v8.15h-1.11zM117.36 217.19h1.11v8.15h-1.11zM38.65 225.34h1.11v8.15h-1.11zM44.19 225.34h2.22v8.15h-2.22zM48.63 225.34h1.11v8.15h-1.11zM60.82 225.34h1.11v8.15h-1.11zM86.32 225.34h1.11v8.15h-1.11zM105.17 225.34h1.11v8.15h-1.11zM116.25 225.34h1.11v8.15h-1.11zM119.58 225.34h1.11v8.15h-1.11zM124.01 225.34h2.22v8.15h-2.22zM129.55 225.34h1.11v8.15h-1.11z"/><path fill="#c4b3dd" d="M71.91 70.40h1.11v8.15h-1.11zM107.38 70.40h1.11v8.15h-1.11zM109.60 70.40h1.11v8.15h-1.11zM114.03 70.40h1.11v8.15h-1.11zM148.40 70.40h1.11v8.15h-1.11zM158.38 70.40h1.11v8.15h-1.11zM161.70 70.40h1.11v8.15h-1.11zM176.11 70.40h1.11v8.15h-1.11zM183.87 70.40h1.11v8.15h-1.11zM188.31 70.40h2.22v8.15h-2.22zM193.85 70.40h1.11v8.15h-1.11zM75.23 78.56h1.11v8.15h-1.11zM79.67 78.56h1.11v8.15h-1.11zM125.12 78.56h1.11v8.15h-1.11zM127.34 78.56h1.11v8.15h-1.11zM136.21 78.56h1.11v8.15h-1.11zM142.86 78.56h1.11v8.15h-1.11zM153.94 78.56h1.11v8.15h-1.11zM157.27 78.56h1.11v8.15h-1.11zM167.25 78.56h2.22v8.15h-2.22zM179.44 78.56h2.22v8.15h-2.22zM189.42 78.56h1.11v8.15h-1.11zM223.78 78.56h1.11v8.15h-1.11zM119.58 86.71h1.11v8.15h-1.11zM129.55 86.71h1.11v8.15h-1.11zM132.88 86.71h1.11v8.15h-1.11zM161.70 86.71h1.11v8.15h-1.11zM182.77 86.71h1.11v8.15h-1.11zM192.74 86.71h1.11v8.15h-1.11zM208.26 86.71h1.11v8.15h-1.11zM212.70 86.71h1.11v8.15h-1.11zM214.91 86.71h1.11v8.15h-1.11zM50.85 94.87h1.11v8.15h-1.11zM140.64 94.87h1.11v8.15h-1.11zM142.86 94.87h1.11v8.15h-1.11zM158.38 94.87h1.11v8.15h-1.11zM161.70 94.87h1.11v8.15h-1.11zM169.46 94.87h1.11v8.15h-1.11zM173.90 94.87h1.11v8.15h-1.11zM204.94 94.87h1.11v8.15h-1.11zM209.37 94.87h1.11v8.15h-1.11zM219.35 94.87h1.11v8.15h-1.11zM85.21 103.02h1.11v8.15h-1.11zM90.75 103.02h1.11v8.15h-1.11zM106.27 103.02h1.11v8.15h-1.11zM140.64 103.02h1.11v8.15h-1.11zM148.40 103.02h1.11v8.15h-1.11zM165.03 103.02h2.22v8.15h-2.22zM175.01 103.02h1.11v8.15h-1.11zM181.66 103.02h1.11v8.15h-1.11zM184.98 103.02h1.11v8.15h-1.11zM192.74 103.02h1.11v8.15h-1.11zM115.14 111.18h1.11v8.15h-1.11zM127.34 111.18h1.11v8.15h-1.11zM162.81 111.18h1.11v8.15h-1.11zM165.03 111.18h1.11v8.15h-1.11zM180.55 111.18h1.11v8.15h-1.11zM183.87 111.18h1.11v8.15h-1.11zM193.85 111.18h2.22v8.15h-2.22zM218.24 111.18h1.11v8.15h-1.11zM141.75 119.33h1.11v8.15h-1.11zM156.16 119.33h1.11v8.15h-1.11zM191.63 119.33h1.11v8.15h-1.11zM198.29 119.33h1.11v8.15h-1.11zM207.15 119.33h1.11v8.15h-1.11zM214.91 119.33h1.11v8.15h-1.11zM219.35 119.33h1.11v8.15h-1.11zM101.84 127.48h1.11v8.15h-1.11zM107.38 127.48h1.11v8.15h-1.11zM130.66 127.48h1.11v8.15h-1.11zM145.07 127.48h1.11v8.15h-1.11zM160.59 127.48h1.11v8.15h-1.11zM176.11 127.48h1.11v8.15h-1.11zM188.31 127.48h1.11v8.15h-1.11zM125.12 135.64h1.11v8.15h-1.11zM147.29 135.64h1.11v8.15h-1.11zM150.62 135.64h1.11v8.15h-1.11zM180.55 135.64h1.11v8.15h-1.11zM57.50 143.80h1.11v8.15h-1.11zM116.25 143.80h1.11v8.15h-1.11zM127.34 143.80h1.11v8.15h-1.11zM156.16 143.80h1.11v8.15h-1.11zM171.68 143.80h1.11v8.15h-1.11zM196.07 143.80h1.11v8.15h-1.11zM211.59 143.80h1.11v8.15h-1.11zM54.17 151.95h1.11v8.15h-1.11zM67.47 151.95h1.11v8.15h-1.11zM88.54 151.95h1.11v8.15h-1.11zM90.75 151.95h1.11v8.15h-1.11zM104.06 151.95h1.11v8.15h-1.11zM122.90 151.95h1.11v8.15h-1.11zM137.31 151.95h1.11v8.15h-1.11zM34.22 160.11h1.11v8.15h-1.11zM41.98 160.11h1.11v8.15h-1.11zM99.62 160.11h1.11v8.15h-1.11zM133.99 160.11h1.11v8.15h-1.11zM167.25 160.11h1.11v8.15h-1.11zM169.46 160.11h1.11v8.15h-1.11zM34.22 168.26h1.11v8.15h-1.11zM48.63 168.26h1.11v8.15h-1.11zM54.17 168.26h1.11v8.15h-1.11zM59.71 168.26h1.11v8.15h-1.11zM32.00 176.41h1.11v8.15h-1.11zM40.87 176.41h1.11v8.15h-1.11zM46.41 176.41h2.22v8.15h-2.22zM59.71 176.41h1.11v8.15h-1.11zM61.93 176.41h1.11v8.15h-1.11zM73.02 176.41h1.11v8.15h-1.11zM79.67 176.41h1.11v8.15h-1.11zM81.89 176.41h1.11v8.15h-1.11zM88.54 176.41h1.11v8.15h-1.11zM91.86 176.41h1.11v8.15h-1.11zM108.49 176.41h2.22v8.15h-2.22zM137.31 176.41h1.11v8.15h-1.11zM214.91 176.41h1.11v8.15h-1.11zM61.93 184.57h1.11v8.15h-1.11zM67.47 184.57h1.11v8.15h-1.11zM69.69 184.57h1.11v8.15h-1.11zM82.99 184.57h1.11v8.15h-1.11zM88.54 184.57h1.11v8.15h-1.11zM91.86 184.57h1.11v8.15h-1.11zM140.64 184.57h1.11v8.15h-1.11zM183.87 184.57h1.11v8.15h-1.11zM60.82 192.72h1.11v8.15h-1.11zM63.04 192.72h1.11v8.15h-1.11zM65.26 192.72h1.11v8.15h-1.11zM70.80 192.72h1.11v8.15h-1.11zM73.02 192.72h1.11v8.15h-1.11zM80.78 192.72h1.11v8.15h-1.11zM109.60 192.72h1.11v8.15h-1.11zM136.21 192.72h2.22v8.15h-2.22zM58.61 200.88h1.11v8.15h-1.11zM65.26 200.88h1.11v8.15h-1.11zM82.99 200.88h2.22v8.15h-2.22zM105.17 200.88h1.11v8.15h-1.11zM118.47 200.88h2.22v8.15h-2.22zM126.23 200.88h1.11v8.15h-1.11zM146.18 200.88h1.11v8.15h-1.11zM35.33 209.03h1.11v8.15h-1.11zM37.54 209.03h1.11v8.15h-1.11zM43.09 209.03h1.11v8.15h-1.11zM66.37 209.03h1.11v8.15h-1.11zM81.89 209.03h1.11v8.15h-1.11zM84.10 209.03h1.11v8.15h-1.11zM88.54 209.03h1.11v8.15h-1.11zM109.60 209.03h1.11v8.15h-1.11zM122.90 209.03h1.11v8.15h-1.11zM60.82 217.19h1.11v8.15h-1.11zM66.37 217.19h1.11v8.15h-1.11zM69.69 217.19h1.11v8.15h-1.11zM80.78 217.19h1.11v8.15h-1.11zM85.21 217.19h1.11v8.15h-1.11zM92.97 217.19h1.11v8.15h-1.11zM120.69 217.19h1.11v8.15h-1.11zM33.11 225.34h1.11v8.15h-1.11zM51.95 225.34h1.11v8.15h-1.11zM55.28 225.34h1.11v8.15h-1.11zM64.15 225.34h1.11v8.15h-1.11zM67.47 225.34h1.11v8.15h-1.11zM73.02 225.34h1.11v8.15h-1.11zM80.78 225.34h2.22v8.15h-2.22zM91.86 225.34h1.11v8.15h-1.11zM96.30 225.34h1.11v8.15h-1.11zM128.45 225.34h1.11v8.15h-1.11zM139.53 225.34h2.22v8.15h-2.22zM149.51 225.34h1.11v8.15h-1.11zM153.94 225.34h1.11v8.15h-1.11z"/><path fill="#d2c3e2" d="M79.67 70.40h1.11v8.15h-1.11zM97.41 70.40h1.11v8.15h-1.11zM110.71 70.40h1.11v8.15h-1.11zM116.25 70.40h1.11v8.15h-1.11zM130.66 70.40h1.11v8.15h-1.11zM135.10 70.40h2.22v8.15h-2.22zM139.53 70.40h1.11v8.15h-1.11zM150.62 70.40h1.11v8.15h-1.11zM179.44 70.40h1.11v8.15h-1.11zM204.94 70.40h1.11v8.15h-1.11zM213.81 70.40h1.11v8.15h-1.11zM107.38 78.56h1.11v8.15h-1.11zM112.93 78.56h1.11v8.15h-1.11zM126.23 78.56h1.11v8.15h-1.11zM158.38 78.56h2.22v8.15h-2.22zM161.70 78.56h1.11v8.15h-1.11zM169.46 78.56h1.11v8.15h-1.11zM178.33 78.56h1.11v8.15h-1.11zM131.77 86.71h1.11v8.15h-1.11zM136.21 86.71h1.11v8.15h-1.11zM147.29 86.71h1.11v8.15h-1.11zM149.51 86.71h1.11v8.15h-1.11zM155.05 86.71h1.11v8.15h-1.11zM172.79 86.71h1.11v8.15h-1.11zM187.20 86.71h1.11v8.15h-1.11zM197.18 86.71h1.11v8.15h-1.11zM200.50 86.71h1.11v8.15h-1.11zM204.94 86.71h1.11v8.15h-1.11zM106.27 94.87h1.11v8.15h-1.11zM116.25 94.87h1.11v8.15h-1.11zM145.07 94.87h3.33v8.15h-3.33zM159.49 94.87h1.11v8.15h-1.11zM162.81 94.87h1.11v8.15h-1.11zM180.55 94.87h3.33v8.15h-3.33zM198.29 94.87h1.11v8.15h-1.11zM59.71 103.02h1.11v8.15h-1.11zM101.84 103.02h1.11v8.15h-1.11zM130.66 103.02h1.11v8.15h-1.11zM135.10 103.02h1.11v8.15h-1.11zM141.75 103.02h1.11v8.15h-1.11zM160.59 103.02h1.11v8.15h-1.11zM176.11 103.02h1.11v8.15h-1.11zM178.33 103.02h1.11v8.15h-1.11zM198.29 103.02h1.11v8.15h-1.11zM203.83 103.02h1.11v8.15h-1.11zM209.37 103.02h1.11v8.15h-1.11zM100.73 111.18h1.11v8.15h-1.11zM110.71 111.18h1.11v8.15h-1.11zM131.77 111.18h1.11v8.15h-1.11zM138.42 111.18h1.11v8.15h-1.11zM146.18 111.18h1.11v8.15h-1.11zM161.70 111.18h1.11v8.15h-1.11zM169.46 111.18h2.22v8.15h-2.22zM175.01 111.18h2.22v8.15h-2.22zM187.20 111.18h1.11v8.15h-1.11zM220.46 111.18h1.11v8.15h-1.11zM222.67 111.18h1.11v8.15h-1.11zM108.49 119.33h1.11v8.15h-1.11zM127.34 119.33h1.11v8.15h-1.11zM135.10 119.33h1.11v8.15h-1.11zM140.64 119.33h1.11v8.15h-1.11zM160.59 119.33h1.11v8.15h-1.11zM162.81 119.33h1.11v8.15h-1.11zM186.09 119.33h2.22v8.15h-2.22zM192.74 119.33h1.11v8.15h-1.11zM206.05 119.33h1.11v8.15h-1.11zM104.06 127.48h1.11v8.15h-1.11zM111.82 127.48h1.11v8.15h-1.11zM135.10 127.48h2.22v8.15h-2.22zM140.64 127.48h1.11v8.15h-1.11zM157.27 127.48h1.11v8.15h-1.11zM167.25 127.48h1.11v8.15h-1.11zM170.57 127.48h1.11v8.15h-1.11zM187.20 127.48h1.11v8.15h-1.11zM209.37 127.48h1.11v8.15h-1.11zM74.13 135.64h1.11v8.15h-1.11zM102.95 135.64h1.11v8.15h-1.11zM106.27 135.64h2.22v8.15h-2.22zM111.82 135.64h1.11v8.15h-1.11zM126.23 135.64h1.11v8.15h-1.11zM140.64 135.64h2.22v8.15h-2.22zM159.49 135.64h1.11v8.15h-1.11zM175.01 135.64h3.33v8.15h-3.33zM183.87 135.64h1.11v8.15h-1.11zM186.09 135.64h2.22v8.15h-2.22zM214.91 135.64h1.11v8.15h-1.11zM86.32 143.80h1.11v8.15h-1.11zM97.41 143.80h1.11v8.15h-1.11zM104.06 143.80h1.11v8.15h-1.11zM125.12 143.80h1.11v8.15h-1.11zM132.88 143.80h1.11v8.15h-1.11zM135.10 143.80h1.11v8.15h-1.11zM139.53 143.80h1.11v8.15h-1.11zM141.75 143.80h1.11v8.15h-1.11zM145.07 143.80h1.11v8.15h-1.11zM151.73 143.80h3.33v8.15h-3.33zM169.46 143.80h1.11v8.15h-1.11zM172.79 143.80h1.11v8.15h-1.11zM178.33 143.80h1.11v8.15h-1.11zM184.98 143.80h1.11v8.15h-1.11zM194.96 143.80h1.11v8.15h-1.11zM201.61 143.80h1.11v8.15h-1.11zM206.05 143.80h1.11v8.15h-1.11zM34.22 151.95h1.11v8.15h-1.11zM50.85 151.95h1.11v8.15h-1.11zM55.28 151.95h1.11v8.15h-1.11zM58.61 151.95h1.11v8.15h-1.11zM70.80 151.95h1.11v8.15h-1.11zM91.86 151.95h1.11v8.15h-1.11zM97.41 151.95h1.11v8.15h-1.11zM102.95 151.95h1.11v8.15h-1.11zM121.79 151.95h1.11v8.15h-1.11zM125.12 151.95h1.11v8.15h-1.11zM139.53 151.95h1.11v8.15h-1.11zM142.86 151.95h1.11v8.15h-1.11zM63.04 160.11h1.11v8.15h-1.11zM78.56 160.11h1.11v8.15h-1.11zM84.10 160.11h1.11v8.15h-1.11zM95.19 160.11h1.11v8.15h-1.11zM114.03 160.11h1.11v8.15h-1.11zM116.25 160.11h1.11v8.15h-1.11zM118.47 160.11h1.11v8.15h-1.11zM121.79 160.11h1.11v8.15h-1.11zM128.45 160.11h1.11v8.15h-1.11zM139.53 160.11h1.11v8.15h-1.11zM46.41 168.26h1.11v8.15h-1.11zM58.61 168.26h1.11v8.15h-1.11zM77.45 168.26h1.11v8.15h-1.11zM87.43 168.26h1.11v8.15h-1.11zM89.65 168.26h1.11v8.15h-1.11zM96.30 168.26h1.11v8.15h-1.11zM98.51 168.26h1.11v8.15h-1.11zM100.73 168.26h1.11v8.15h-1.11zM111.82 168.26h1.11v8.15h-1.11zM118.47 168.26h1.11v8.15h-1.11zM146.18 168.26h1.11v8.15h-1.11zM149.51 168.26h1.11v8.15h-1.11zM157.27 168.26h1.11v8.15h-1.11zM45.30 176.41h1.11v8.15h-1.11zM51.95 176.41h1.11v8.15h-1.11zM67.47 176.41h1.11v8.15h-1.11zM74.13 176.41h1.11v8.15h-1.11zM84.10 176.41h1.11v8.15h-1.11zM104.06 176.41h1.11v8.15h-1.11zM107.38 176.41h1.11v8.15h-1.11zM119.58 176.41h1.11v8.15h-1.11zM121.79 176.41h1.11v8.15h-1.11zM125.12 176.41h1.11v8.15h-1.11zM128.45 176.41h3.33v8.15h-3.33zM140.64 176.41h1.11v8.15h-1.11zM142.86 176.41h1.11v8.15h-1.11zM169.46 176.41h1.11v8.15h-1.11zM44.19 184.57h1.11v8.15h-1.11zM60.82 184.57h1.11v8.15h-1.11zM71.91 184.57h3.33v8.15h-3.33zM84.10 184.57h1.11v8.15h-1.11zM86.32 184.57h1.11v8.15h-1.11zM90.75 184.57h1.11v8.15h-1.11zM101.84 184.57h1.11v8.15h-1.11zM104.06 184.57h1.11v8.15h-1.11zM120.69 184.57h1.11v8.15h-1.11zM126.23 184.57h1.11v8.15h-1.11zM150.62 184.57h1.11v8.15h-1.11zM160.59 184.57h1.11v8.15h-1.11zM178.33 184.57h1.11v8.15h-1.11zM67.47 192.72h1.11v8.15h-1.11zM69.69 192.72h1.11v8.15h-1.11zM77.45 192.72h1.11v8.15h-1.11zM86.32 192.72h1.11v8.15h-1.11zM116.25 192.72h1.11v8.15h-1.11zM124.01 192.72h1.11v8.15h-1.11zM133.99 192.72h1.11v8.15h-1.11zM140.64 192.72h1.11v8.15h-1.11zM160.59 192.72h1.11v8.15h-1.11zM39.76 200.88h1.11v8.15h-1.11zM64.15 200.88h1.11v8.15h-1.11zM85.21 200.88h1.11v8.15h-1.11zM91.86 200.88h1.11v8.15h-1.11zM94.08 200.88h1.11v8.15h-1.11zM114.03 200.88h1.11v8.15h-1.11zM122.90 200.88h2.22v8.15h-2.22zM129.55 200.88h1.11v8.15h-1.11zM139.53 200.88h1.11v8.15h-1.11zM49.74 209.03h1.11v8.15h-1.11zM63.04 209.03h1.11v8.15h-1.11zM86.32 209.03h1.11v8.15h-1.11zM91.86 209.03h1.11v8.15h-1.11zM96.30 209.03h1.11v8.15h-1.11zM99.62 209.03h1.11v8.15h-1.11zM107.38 209.03h1.11v8.15h-1.11zM118.47 209.03h1.11v8.15h-1.11zM120.69 209.03h1.11v8.15h-1.11zM128.45 209.03h1.11v8.15h-1.11zM133.99 209.03h1.11v8.15h-1.11zM158.38 209.03h1.11v8.15h-1.11zM45.30 217.19h1.11v8.15h-1.11zM50.85 217.19h1.11v8.15h-1.11zM64.15 217.19h2.22v8.15h-2.22zM74.13 217.19h1.11v8.15h-1.11zM87.43 217.19h1.11v8.15h-1.11zM95.19 217.19h1.11v8.15h-1.11zM98.51 217.19h1.11v8.15h-1.11zM110.71 217.19h1.11v8.15h-1.11zM121.79 217.19h1.11v8.15h-1.11zM126.23 217.19h1.11v8.15h-1.11zM143.97 217.19h1.11v8.15h-1.11zM153.94 217.19h1.11v8.15h-1.11zM58.61 225.34h2.22v8.15h-2.22zM85.21 225.34h1.11v8.15h-1.11zM99.62 225.34h1.11v8.15h-1.11zM122.90 225.34h1.11v8.15h-1.11zM155.05 225.34h1.11v8.15h-1.11zM178.33 225.34h1.11v8.15h-1.11zM214.91 225.34h1.11v8.15h-1.11z"/><path fill="#e1d3e7" d="M51.95 70.40h1.11v8.15h-1.11zM57.50 70.40h1.11v8.15h-1.11zM94.08 70.40h1.11v8.15h-1.11zM115.14 70.40h1.11v8.15h-1.11zM131.77 70.40h1.11v8.15h-1.11zM146.18 70.40h1.11v8.15h-1.11zM165.03 70.40h3.33v8.15h-3.33zM169.46 70.40h1.11v8.15h-1.11zM200.50 70.40h1.11v8.15h-1.11zM69.69 78.56h1.11v8.15h-1.11zM76.34 78.56h1.11v8.15h-1.11zM129.55 78.56h1.11v8.15h-1.11zM132.88 78.56h1.11v8.15h-1.11zM200.50 78.56h1.11v8.15h-1.11zM86.32 86.71h1.11v8.15h-1.11zM116.25 86.71h1.11v8.15h-1.11zM127.34 86.71h1.11v8.15h-1.11zM130.66 86.71h1.11v8.15h-1.11zM133.99 86.71h1.11v8.15h-1.11zM141.75 86.71h1.11v8.15h-1.11zM152.83 86.71h1.11v8.15h-1.11zM157.27 86.71h1.11v8.15h-1.11zM168.35 86.71h1.11v8.15h-1.11zM170.57 86.71h1.11v8.15h-1.11zM179.44 86.71h1.11v8.15h-1.11zM181.66 86.71h1.11v8.15h-1.11zM188.31 86.71h1.11v8.15h-1.11zM201.61 86.71h2.22v8.15h-2.22zM91.86 94.87h1.11v8.15h-1.11zM98.51 94.87h1.11v8.15h-1.11zM121.79 94.87h1.11v8.15h-1.11zM129.55 94.87h1.11v8.15h-1.11zM138.42 94.87h1.11v8.15h-1.11zM149.51 94.87h2.22v8.15h-2.22zM67.47 103.02h1.11v8.15h-1.11zM76.34 103.02h2.22v8.15h-2.22zM111.82 103.02h1.11v8.15h-1.11zM114.03 103.02h1.11v8.15h-1.11zM128.45 103.02h2.22v8.15h-2.22zM142.86 103.02h1.11v8.15h-1.11zM151.73 103.02h1.11v8.15h-1.11zM153.94 103.02h1.11v8.15h-1.11zM171.68 103.02h1.11v8.15h-1.11zM220.46 103.02h1.11v8.15h-1.11zM112.93 111.18h1.11v8.15h-1.11zM129.55 111.18h1.11v8.15h-1.11zM142.86 111.18h1.11v8.15h-1.11zM145.07 111.18h1.11v8.15h-1.11zM157.27 111.18h1.11v8.15h-1.11zM182.77 111.18h1.11v8.15h-1.11zM198.29 111.18h1.11v8.15h-1.11zM44.19 119.33h1.11v8.15h-1.11zM99.62 119.33h1.11v8.15h-1.11zM107.38 119.33h1.11v8.15h-1.11zM128.45 119.33h1.11v8.15h-1.11zM131.77 119.33h1.11v8.15h-1.11zM139.53 119.33h1.11v8.15h-1.11zM153.94 119.33h1.11v8.15h-1.11zM165.03 119.33h1.11v8.15h-1.11zM172.79 119.33h1.11v8.15h-1.11zM203.83 119.33h1.11v8.15h-1.11zM212.70 119.33h2.22v8.15h-2.22zM222.67 119.33h1.11v8.15h-1.11zM112.93 127.48h1.11v8.15h-1.11zM120.69 127.48h1.11v8.15h-1.11zM122.90 127.48h1.11v8.15h-1.11zM137.31 127.48h1.11v8.15h-1.11zM147.29 127.48h2.22v8.15h-2.22zM153.94 127.48h1.11v8.15h-1.11zM161.70 127.48h1.11v8.15h-1.11zM165.03 127.48h1.11v8.15h-1.11zM168.35 127.48h1.11v8.15h-1.11zM181.66 127.48h2.22v8.15h-2.22zM186.09 127.48h1.11v8.15h-1.11zM200.50 127.48h1.11v8.15h-1.11zM213.81 127.48h1.11v8.15h-1.11zM219.35 127.48h1.11v8.15h-1.11zM224.89 127.48h1.11v8.15h-1.11zM101.84 135.64h1.11v8.15h-1.11zM127.34 135.64h1.11v8.15h-1.11zM148.40 135.64h1.11v8.15h-1.11zM151.73 135.64h1.11v8.15h-1.11zM167.25 135.64h1.11v8.15h-1.11zM209.37 135.64h1.11v8.15h-1.11zM107.38 143.80h1.11v8.15h-1.11zM124.01 143.80h1.11v8.15h-1.11zM136.21 143.80h1.11v8.15h-1.11zM147.29 143.80h1.11v8.15h-1.11zM166.14 143.80h1.11v8.15h-1.11zM74.13 151.95h1.11v8.15h-1.11zM78.56 151.95h1.11v8.15h-1.11zM98.51 151.95h1.11v8.15h-1.11zM100.73 151.95h2.22v8.15h-2.22zM106.27 151.95h1.11v8.15h-1.11zM111.82 151.95h1.11v8.15h-1.11zM126.23 151.95h1.11v8.15h-1.11zM129.55 151.95h1.11v8.15h-1.11zM146.18 151.95h1.11v8.15h-1.11zM180.55 151.95h1.11v8.15h-1.11zM36.43 160.11h1.11v8.15h-1.11zM47.52 160.11h1.11v8.15h-1.11zM69.69 160.11h1.11v8.15h-1.11zM82.99 160.11h1.11v8.15h-1.11zM91.86 160.11h2.22v8.15h-2.22zM96.30 160.11h1.11v8.15h-1.11zM104.06 160.11h1.11v8.15h-1.11zM110.71 160.11h1.11v8.15h-1.11zM115.14 160.11h1.11v8.15h-1.11zM117.36 160.11h1.11v8.15h-1.11zM124.01 160.11h1.11v8.15h-1.11zM131.77 160.11h1.11v8.15h-1.11zM149.51 160.11h1.11v8.15h-1.11zM168.35 160.11h1.11v8.15h-1.11zM178.33 160.11h1.11v8.15h-1.11zM66.37 168.26h1.11v8.15h-1.11zM68.58 168.26h1.11v8.15h-1.11zM70.80 168.26h1.11v8.15h-1.11zM76.34 168.26h1.11v8.15h-1.11zM114.03 168.26h1.11v8.15h-1.11zM130.66 168.26h1.11v8.15h-1.11zM132.88 168.26h1.11v8.15h-1.11zM135.10 168.26h1.11v8.15h-1.11zM139.53 168.26h1.11v8.15h-1.11zM172.79 168.26h1.11v8.15h-1.11zM86.32 176.41h1.11v8.15h-1.11zM97.41 176.41h1.11v8.15h-1.11zM110.71 176.41h1.11v8.15h-1.11zM115.14 176.41h1.11v8.15h-1.11zM145.07 176.41h1.11v8.15h-1.11zM106.27 184.57h1.11v8.15h-1.11zM128.45 184.57h1.11v8.15h-1.11zM139.53 184.57h1.11v8.15h-1.11zM142.86 184.57h1.11v8.15h-1.11zM159.49 184.57h1.11v8.15h-1.11zM188.31 184.57h1.11v8.15h-1.11zM49.74 192.72h1.11v8.15h-1.11zM76.34 192.72h1.11v8.15h-1.11zM114.03 192.72h1.11v8.15h-1.11zM118.47 192.72h1.11v8.15h-1.11zM222.67 192.72h1.11v8.15h-1.11zM76.34 200.88h1.11v8.15h-1.11zM109.60 200.88h1.11v8.15h-1.11zM125.12 200.88h1.11v8.15h-1.11zM128.45 200.88h1.11v8.15h-1.11zM145.07 200.88h1.11v8.15h-1.11zM150.62 200.88h1.11v8.15h-1.11zM153.94 200.88h1.11v8.15h-1.11zM162.81 200.88h1.11v8.15h-1.11zM50.85 209.03h1.11v8.15h-1.11zM74.13 209.03h1.11v8.15h-1.11zM77.45 209.03h1.11v8.15h-1.11zM85.21 209.03h1.11v8.15h-1.11zM98.51 209.03h1.11v8.15h-1.11zM105.17 209.03h1.11v8.15h-1.11zM121.79 209.03h1.11v8.15h-1.11zM124.01 209.03h1.11v8.15h-1.11zM126.23 209.03h1.11v8.15h-1.11zM148.40 209.03h1.11v8.15h-1.11zM160.59 209.03h1.11v8.15h-1.11zM171.68 209.03h1.11v8.15h-1.11zM189.42 209.03h1.11v8.15h-1.11zM46.41 217.19h1.11v8.15h-1.11zM71.91 217.19h1.11v8.15h-1.11zM96.30 217.19h1.11v8.15h-1.11zM128.45 217.19h1.11v8.15h-1.11zM145.07 217.19h1.11v8.15h-1.11zM74.13 225.34h1.11v8.15h-1.11zM87.43 225.34h1.11v8.15h-1.11zM95.19 225.34h1.11v8.15h-1.11zM104.06 225.34h1.11v8.15h-1.11zM120.69 225.34h1.11v8.15h-1.11zM126.23 225.34h1.11v8.15h-1.11zM133.99 225.34h1.11v8.15h-1.11zM148.40 225.34h1.11v8.15h-1.11zM172.79 225.34h1.11v8.15h-1.11z"/><path fill="#efe4ec" d="M53.06 70.40h1.11v8.15h-1.11zM85.21 70.40h1.11v8.15h-1.11zM102.95 70.40h1.11v8.15h-1.11zM112.93 70.40h1.11v8.15h-1.11zM118.47 70.40h1.11v8.15h-1.11zM125.12 70.40h1.11v8.15h-1.11zM132.88 70.40h2.22v8.15h-2.22zM162.81 70.40h1.11v8.15h-1.11zM170.57 70.40h1.11v8.15h-1.11zM214.91 70.40h1.11v8.15h-1.11zM222.67 70.40h1.11v8.15h-1.11zM71.91 78.56h1.11v8.15h-1.11zM74.13 78.56h1.11v8.15h-1.11zM104.06 78.56h1.11v8.15h-1.11zM145.07 78.56h1.11v8.15h-1.11zM80.78 86.71h1.11v8.15h-1.11zM85.21 86.71h1.11v8.15h-1.11zM106.27 86.71h2.22v8.15h-2.22zM135.10 86.71h1.11v8.15h-1.11zM146.18 86.71h1.11v8.15h-1.11zM160.59 86.71h1.11v8.15h-1.11zM165.03 86.71h1.11v8.15h-1.11zM169.46 86.71h1.11v8.15h-1.11zM49.74 94.87h1.11v8.15h-1.11zM85.21 94.87h1.11v8.15h-1.11zM88.54 94.87h1.11v8.15h-1.11zM97.41 94.87h1.11v8.15h-1.11zM101.84 94.87h1.11v8.15h-1.11zM107.38 94.87h1.11v8.15h-1.11zM128.45 94.87h1.11v8.15h-1.11zM132.88 94.87h1.11v8.15h-1.11zM136.21 94.87h1.11v8.15h-1.11zM151.73 94.87h2.22v8.15h-2.22zM183.87 94.87h1.11v8.15h-1.11zM200.50 94.87h1.11v8.15h-1.11zM212.70 94.87h1.11v8.15h-1.11zM69.69 103.02h1.11v8.15h-1.11zM99.62 103.02h1.11v8.15h-1.11zM104.06 103.02h1.11v8.15h-1.11zM115.14 103.02h1.11v8.15h-1.11zM126.23 103.02h1.11v8.15h-1.11zM132.88 103.02h1.11v8.15h-1.11zM146.18 103.02h1.11v8.15h-1.11zM150.62 103.02h1.11v8.15h-1.11zM199.39 103.02h1.11v8.15h-1.11zM36.43 111.18h2.22v8.15h-2.22zM73.02 111.18h1.11v8.15h-1.11zM89.65 111.18h1.11v8.15h-1.11zM104.06 111.18h1.11v8.15h-1.11zM116.25 111.18h2.22v8.15h-2.22zM125.12 111.18h1.11v8.15h-1.11zM128.45 111.18h1.11v8.15h-1.11zM130.66 111.18h1.11v8.15h-1.11zM137.31 111.18h1.11v8.15h-1.11zM140.64 111.18h1.11v8.15h-1.11zM147.29 111.18h1.11v8.15h-1.11zM149.51 111.18h1.11v8.15h-1.11zM191.63 111.18h1.11v8.15h-1.11zM66.37 119.33h1.11v8.15h-1.11zM85.21 119.33h1.11v8.15h-1.11zM88.54 119.33h1.11v8.15h-1.11zM95.19 119.33h1.11v8.15h-1.11zM111.82 119.33h1.11v8.15h-1.11zM116.25 119.33h1.11v8.15h-1.11zM163.92 119.33h1.11v8.15h-1.11zM166.14 119.33h2.22v8.15h-2.22zM178.33 119.33h1.11v8.15h-1.11zM180.55 119.33h1.11v8.15h-1.11zM184.98 119.33h1.11v8.15h-1.11zM201.61 119.33h1.11v8.15h-1.11zM208.26 119.33h1.11v8.15h-1.11zM99.62 127.48h1.11v8.15h-1.11zM109.60 127.48h1.11v8.15h-1.11zM116.25 127.48h1.11v8.15h-1.11zM129.55 127.48h1.11v8.15h-1.11zM149.51 127.48h1.11v8.15h-1.11zM158.38 127.48h1.11v8.15h-1.11zM184.98 127.48h1.11v8.15h-1.11zM68.58 135.64h1.11v8.15h-1.11zM73.02 135.64h1.11v8.15h-1.11zM119.58 135.64h1.11v8.15h-1.11zM122.90 135.64h1.11v8.15h-1.11zM128.45 135.64h1.11v8.15h-1.11zM138.42 135.64h1.11v8.15h-1.11zM160.59 135.64h1.11v8.15h-1.11zM162.81 135.64h1.11v8.15h-1.11zM171.68 135.64h1.11v8.15h-1.11zM178.33 135.64h1.11v8.15h-1.11zM181.66 135.64h1.11v8.15h-1.11zM50.85 143.80h1.11v8.15h-1.11zM65.26 143.80h1.11v8.15h-1.11zM79.67 143.80h1.11v8.15h-1.11zM99.62 143.80h1.11v8.15h-1.11zM102.95 143.80h1.11v8.15h-1.11zM111.82 143.80h1.11v8.15h-1.11zM137.31 143.80h1.11v8.15h-1.11zM140.64 143.80h1.11v8.15h-1.11zM142.86 143.80h1.11v8.15h-1.11zM146.18 143.80h1.11v8.15h-1.11zM160.59 143.80h1.11v8.15h-1.11zM189.42 143.80h1.11v8.15h-1.11zM76.34 151.95h1.11v8.15h-1.11zM79.67 151.95h1.11v8.15h-1.11zM82.99 151.95h1.11v8.15h-1.11zM115.14 151.95h2.22v8.15h-2.22zM128.45 151.95h1.11v8.15h-1.11zM138.42 151.95h1.11v8.15h-1.11zM145.07 151.95h1.11v8.15h-1.11zM158.38 151.95h1.11v8.15h-1.11zM160.59 151.95h1.11v8.15h-1.11zM171.68 151.95h1.11v8.15h-1.11zM188.31 151.95h1.11v8.15h-1.11zM57.50 160.11h1.11v8.15h-1.11zM66.37 160.11h1.11v8.15h-1.11zM73.02 160.11h1.11v8.15h-1.11zM102.95 160.11h1.11v8.15h-1.11zM107.38 160.11h1.11v8.15h-1.11zM109.60 160.11h1.11v8.15h-1.11zM112.93 160.11h1.11v8.15h-1.11zM141.75 160.11h1.11v8.15h-1.11zM162.81 160.11h1.11v8.15h-1.11zM55.28 168.26h1.11v8.15h-1.11zM57.50 168.26h1.11v8.15h-1.11zM67.47 168.26h1.11v8.15h-1.11zM78.56 168.26h2.22v8.15h-2.22zM84.10 168.26h1.11v8.15h-1.11zM97.41 168.26h1.11v8.15h-1.11zM104.06 168.26h1.11v8.15h-1.11zM106.27 168.26h1.11v8.15h-1.11zM119.58 168.26h1.11v8.15h-1.11zM122.90 168.26h2.22v8.15h-2.22zM129.55 168.26h1.11v8.15h-1.11zM133.99 168.26h1.11v8.15h-1.11zM145.07 168.26h1.11v8.15h-1.11zM162.81 168.26h1.11v8.15h-1.11zM180.55 168.26h1.11v8.15h-1.11zM194.96 168.26h1.11v8.15h-1.11zM49.74 176.41h1.11v8.15h-1.11zM82.99 176.41h1.11v8.15h-1.11zM111.82 176.41h1.11v8.15h-1.11zM120.69 176.41h1.11v8.15h-1.11zM136.21 176.41h1.11v8.15h-1.11zM146.18 176.41h1.11v8.15h-1.11zM150.62 176.41h1.11v8.15h-1.11zM158.38 176.41h1.11v8.15h-1.11zM171.68 176.41h1.11v8.15h-1.11zM75.23 184.57h1.11v8.15h-1.11zM85.21 184.57h1.11v8.15h-1.11zM102.95 184.57h1.11v8.15h-1.11zM111.82 184.57h1.11v8.15h-1.11zM114.03 184.57h1.11v8.15h-1.11zM133.99 184.57h1.11v8.15h-1.11zM136.21 184.57h1.11v8.15h-1.11zM143.97 184.57h1.11v8.15h-1.11zM149.51 184.57h1.11v8.15h-1.11zM152.83 184.57h1.11v8.15h-1.11zM179.44 184.57h2.22v8.15h-2.22zM200.50 184.57h1.11v8.15h-1.11zM74.13 192.72h1.11v8.15h-1.11zM82.99 192.72h1.11v8.15h-1.11zM94.08 192.72h1.11v8.15h-1.11zM106.27 192.72h1.11v8.15h-1.11zM122.90 192.72h1.11v8.15h-1.11zM125.12 192.72h1.11v8.15h-1.11zM143.97 192.72h1.11v8.15h-1.11zM163.92 192.72h1.11v8.15h-1.11zM217.13 192.72h1.11v8.15h-1.11zM45.30 200.88h1.11v8.15h-1.11zM56.39 200.88h1.11v8.15h-1.11zM86.32 200.88h2.22v8.15h-2.22zM98.51 200.88h1.11v8.15h-1.11zM100.73 200.88h2.22v8.15h-2.22zM110.71 200.88h1.11v8.15h-1.11zM112.93 200.88h1.11v8.15h-1.11zM121.79 200.88h1.11v8.15h-1.11zM187.20 200.88h1.11v8.15h-1.11zM189.42 200.88h1.11v8.15h-1.11zM60.82 209.03h1.11v8.15h-1.11zM80.78 209.03h1.11v8.15h-1.11zM82.99 209.03h1.11v8.15h-1.11zM101.84 209.03h1.11v8.15h-1.11zM117.36 209.03h1.11v8.15h-1.11zM141.75 209.03h1.11v8.15h-1.11zM146.18 209.03h1.11v8.15h-1.11zM172.79 209.03h1.11v8.15h-1.11zM38.65 217.19h1.11v8.15h-1.11zM79.67 217.19h1.11v8.15h-1.11zM81.89 217.19h2.22v8.15h-2.22zM86.32 217.19h1.11v8.15h-1.11zM88.54 217.19h1.11v8.15h-1.11zM107.38 217.19h1.11v8.15h-1.11zM148.40 217.19h1.11v8.15h-1.11zM155.05 217.19h1.11v8.15h-1.11zM159.49 217.19h1.11v8.15h-1.11zM180.55 217.19h1.11v8.15h-1.11zM224.89 217.19h1.11v8.15h-1.11zM43.09 225.34h1.11v8.15h-1.11zM100.73 225.34h1.11v8.15h-1.11zM108.49 225.34h1.11v8.15h-1.11zM117.36 225.34h1.11v8.15h-1.11zM137.31 225.34h1.11v8.15h-1.11zM188.31 225.34h1.11v8.15h-1.11zM197.18 225.34h1.11v8.15h-1.11z"/><path fill="#f6e5e4" d="M67.47 70.40h1.11v8.15h-1.11zM100.73 70.40h1.11v8.15h-1.11zM119.58 70.40h1.11v8.15h-1.11zM121.79 70.40h1.11v8.15h-1.11zM140.64 70.40h1.11v8.15h-1.11zM153.94 70.40h1.11v8.15h-1.11zM160.59 70.40h1.11v8.15h-1.11zM173.90 70.40h1.11v8.15h-1.11zM38.65 78.56h1.11v8.15h-1.11zM68.58 78.56h1.11v8.15h-1.11zM80.78 78.56h1.11v8.15h-1.11zM92.97 78.56h1.11v8.15h-1.11zM100.73 78.56h1.11v8.15h-1.11zM116.25 78.56h1.11v8.15h-1.11zM120.69 78.56h2.22v8.15h-2.22zM133.99 78.56h1.11v8.15h-1.11zM149.51 78.56h1.11v8.15h-1.11zM213.81 78.56h1.11v8.15h-1.11zM84.10 86.71h1.11v8.15h-1.11zM95.19 86.71h1.11v8.15h-1.11zM100.73 86.71h1.11v8.15h-1.11zM102.95 86.71h1.11v8.15h-1.11zM111.82 86.71h2.22v8.15h-2.22zM120.69 86.71h1.11v8.15h-1.11zM138.42 86.71h1.11v8.15h-1.11zM143.97 86.71h2.22v8.15h-2.22zM148.40 86.71h1.11v8.15h-1.11zM150.62 86.71h1.11v8.15h-1.11zM156.16 86.71h1.11v8.15h-1.11zM158.38 86.71h1.11v8.15h-1.11zM163.92 86.71h1.11v8.15h-1.11zM209.37 86.71h1.11v8.15h-1.11zM73.02 94.87h1.11v8.15h-1.11zM119.58 94.87h1.11v8.15h-1.11zM124.01 94.87h2.22v8.15h-2.22zM166.14 94.87h1.11v8.15h-1.11zM188.31 94.87h1.11v8.15h-1.11zM49.74 103.02h1.11v8.15h-1.11zM95.19 103.02h1.11v8.15h-1.11zM97.41 103.02h1.11v8.15h-1.11zM110.71 103.02h1.11v8.15h-1.11zM112.93 103.02h1.11v8.15h-1.11zM116.25 103.02h1.11v8.15h-1.11zM124.01 103.02h1.11v8.15h-1.11zM137.31 103.02h2.22v8.15h-2.22zM152.83 103.02h1.11v8.15h-1.11zM180.55 103.02h1.11v8.15h-1.11zM214.91 103.02h1.11v8.15h-1.11zM47.52 111.18h1.11v8.15h-1.11zM79.67 111.18h1.11v8.15h-1.11zM97.41 111.18h1.11v8.15h-1.11zM101.84 111.18h1.11v8.15h-1.11zM122.90 111.18h1.11v8.15h-1.11zM133.99 111.18h3.33v8.15h-3.33zM139.53 111.18h1.11v8.15h-1.11zM141.75 111.18h1.11v8.15h-1.11zM168.35 111.18h1.11v8.15h-1.11zM186.09 111.18h1.11v8.15h-1.11zM214.91 111.18h1.11v8.15h-1.11zM79.67 119.33h2.22v8.15h-2.22zM89.65 119.33h1.11v8.15h-1.11zM104.06 119.33h1.11v8.15h-1.11zM114.03 119.33h2.22v8.15h-2.22zM119.58 119.33h1.11v8.15h-1.11zM126.23 119.33h1.11v8.15h-1.11zM132.88 119.33h2.22v8.15h-2.22zM147.29 119.33h1.11v8.15h-1.11zM152.83 119.33h1.11v8.15h-1.11zM158.38 119.33h1.11v8.15h-1.11zM188.31 119.33h1.11v8.15h-1.11zM98.51 127.48h1.11v8.15h-1.11zM100.73 127.48h1.11v8.15h-1.11zM146.18 127.48h1.11v8.15h-1.11zM155.05 127.48h1.11v8.15h-1.11zM175.01 127.48h1.11v8.15h-1.11zM193.85 127.48h1.11v8.15h-1.11zM71.91 135.64h1.11v8.15h-1.11zM89.65 135.64h1.11v8.15h-1.11zM100.73 135.64h1.11v8.15h-1.11zM114.03 135.64h1.11v8.15h-1.11zM118.47 135.64h1.11v8.15h-1.11zM130.66 135.64h1.11v8.15h-1.11zM132.88 135.64h1.11v8.15h-1.11zM161.70 135.64h1.11v8.15h-1.11zM165.03 135.64h2.22v8.15h-2.22zM200.50 135.64h1.11v8.15h-1.11zM36.43 143.80h2.22v8.15h-2.22zM55.28 143.80h2.22v8.15h-2.22zM61.93 143.80h1.11v8.15h-1.11zM66.37 143.80h1.11v8.15h-1.11zM92.97 143.80h1.11v8.15h-1.11zM126.23 143.80h1.11v8.15h-1.11zM149.51 143.80h2.22v8.15h-2.22zM200.50 143.80h1.11v8.15h-1.11zM209.37 143.80h1.11v8.15h-1.11zM66.37 151.95h1.11v8.15h-1.11zM73.02 151.95h1.11v8.15h-1.11zM84.10 151.95h1.11v8.15h-1.11zM94.08 151.95h1.11v8.15h-1.11zM114.03 151.95h1.11v8.15h-1.11zM118.47 151.95h1.11v8.15h-1.11zM151.73 151.95h1.11v8.15h-1.11zM162.81 151.95h1.11v8.15h-1.11zM168.35 151.95h1.11v8.15h-1.11zM186.09 151.95h1.11v8.15h-1.11zM192.74 151.95h1.11v8.15h-1.11zM206.05 151.95h1.11v8.15h-1.11zM219.35 151.95h1.11v8.15h-1.11zM59.71 160.11h1.11v8.15h-1.11zM74.13 160.11h1.11v8.15h-1.11zM87.43 160.11h1.11v8.15h-1.11zM137.31 160.11h1.11v8.15h-1.11zM155.05 160.11h1.11v8.15h-1.11zM189.42 160.11h1.11v8.15h-1.11zM71.91 168.26h1.11v8.15h-1.11zM92.97 168.26h1.11v8.15h-1.11zM99.62 168.26h1.11v8.15h-1.11zM115.14 168.26h1.11v8.15h-1.11zM141.75 168.26h1.11v8.15h-1.11zM152.83 168.26h2.22v8.15h-2.22zM167.25 168.26h1.11v8.15h-1.11zM176.11 168.26h1.11v8.15h-1.11zM187.20 168.26h1.11v8.15h-1.11zM69.69 176.41h1.11v8.15h-1.11zM95.19 176.41h1.11v8.15h-1.11zM102.95 176.41h1.11v8.15h-1.11zM131.77 176.41h1.11v8.15h-1.11zM153.94 176.41h1.11v8.15h-1.11zM167.25 176.41h1.11v8.15h-1.11zM180.55 176.41h1.11v8.15h-1.11zM220.46 176.41h1.11v8.15h-1.11zM79.67 184.57h1.11v8.15h-1.11zM131.77 184.57h1.11v8.15h-1.11zM137.31 184.57h1.11v8.15h-1.11zM146.18 184.57h1.11v8.15h-1.11zM155.05 184.57h1.11v8.15h-1.11zM168.35 184.57h1.11v8.15h-1.11zM189.42 184.57h1.11v8.15h-1.11zM85.21 192.72h1.11v8.15h-1.11zM89.65 192.72h1.11v8.15h-1.11zM95.19 192.72h1.11v8.15h-1.11zM105.17 192.72h1.11v8.15h-1.11zM108.49 192.72h1.11v8.15h-1.11zM130.66 192.72h1.11v8.15h-1.11zM162.81 192.72h1.11v8.15h-1.11zM77.45 200.88h1.11v8.15h-1.11zM97.41 200.88h1.11v8.15h-1.11zM106.27 200.88h1.11v8.15h-1.11zM108.49 200.88h1.11v8.15h-1.11zM115.14 200.88h1.11v8.15h-1.11zM127.34 200.88h1.11v8.15h-1.11zM137.31 200.88h1.11v8.15h-1.11zM140.64 200.88h1.11v8.15h-1.11zM143.97 200.88h1.11v8.15h-1.11zM158.38 200.88h1.11v8.15h-1.11zM169.46 200.88h1.11v8.15h-1.11zM176.11 200.88h1.11v8.15h-1.11zM201.61 200.88h1.11v8.15h-1.11zM45.30 209.03h1.11v8.15h-1.11zM100.73 209.03h1.11v8.15h-1.11zM104.06 209.03h1.11v8.15h-1.11zM108.49 209.03h1.11v8.15h-1.11zM143.97 209.03h1.11v8.15h-1.11zM155.05 209.03h1.11v8.15h-1.11zM35.33 217.19h1.11v8.15h-1.11zM49.74 217.19h1.11v8.15h-1.11zM76.34 217.19h1.11v8.15h-1.11zM100.73 217.19h1.11v8.15h-1.11zM105.17 217.19h1.11v8.15h-1.11zM108.49 217.19h1.11v8.15h-1.11zM118.47 217.19h1.11v8.15h-1.11zM122.90 217.19h1.11v8.15h-1.11zM130.66 217.19h1.11v8.15h-1.11zM133.99 217.19h1.11v8.15h-1.11zM139.53 217.19h1.11v8.15h-1.11zM142.86 217.19h1.11v8.15h-1.11zM166.14 217.19h2.22v8.15h-2.22zM171.68 217.19h1.11v8.15h-1.11zM181.66 217.19h1.11v8.15h-1.11zM193.85 217.19h1.11v8.15h-1.11zM209.37 217.19h1.11v8.15h-1.11zM41.98 225.34h1.11v8.15h-1.11zM56.39 225.34h1.11v8.15h-1.11zM88.54 225.34h2.22v8.15h-2.22zM110.71 225.34h1.11v8.15h-1.11zM114.03 225.34h1.11v8.15h-1.11zM157.27 225.34h1.11v8.15h-1.11zM162.81 225.34h1.11v8.15h-1.11zM166.14 225.34h1.11v8.15h-1.11zM169.46 225.34h1.11v8.15h-1.11zM180.55 225.34h1.11v8.15h-1.11z"/><path fill="#f5d8d1" d="M44.19 70.40h1.11v8.15h-1.11zM55.28 70.40h1.11v8.15h-1.11zM84.10 70.40h1.11v8.15h-1.11zM117.36 70.40h1.11v8.15h-1.11zM177.22 70.40h1.11v8.15h-1.11zM198.29 70.40h1.11v8.15h-1.11zM36.43 78.56h1.11v8.15h-1.11zM49.74 78.56h1.11v8.15h-1.11zM53.06 78.56h1.11v8.15h-1.11zM82.99 78.56h1.11v8.15h-1.11zM96.30 78.56h1.11v8.15h-1.11zM110.71 78.56h1.11v8.15h-1.11zM114.03 78.56h1.11v8.15h-1.11zM117.36 78.56h1.11v8.15h-1.11zM119.58 78.56h1.11v8.15h-1.11zM122.90 78.56h1.11v8.15h-1.11zM138.42 78.56h3.33v8.15h-3.33zM146.18 78.56h1.11v8.15h-1.11zM108.49 86.71h1.11v8.15h-1.11zM125.12 86.71h1.11v8.15h-1.11zM140.64 86.71h1.11v8.15h-1.11zM153.94 86.71h1.11v8.15h-1.11zM167.25 86.71h1.11v8.15h-1.11zM173.90 86.71h1.11v8.15h-1.11zM45.30 94.87h1.11v8.15h-1.11zM71.91 94.87h1.11v8.15h-1.11zM74.13 94.87h1.11v8.15h-1.11zM100.73 94.87h1.11v8.15h-1.11zM102.95 94.87h2.22v8.15h-2.22zM114.03 94.87h1.11v8.15h-1.11zM130.66 94.87h1.11v8.15h-1.11zM133.99 94.87h1.11v8.15h-1.11zM143.97 94.87h1.11v8.15h-1.11zM148.40 94.87h1.11v8.15h-1.11zM156.16 94.87h1.11v8.15h-1.11zM160.59 94.87h1.11v8.15h-1.11zM51.95 103.02h1.11v8.15h-1.11zM71.91 103.02h1.11v8.15h-1.11zM80.78 103.02h1.11v8.15h-1.11zM82.99 103.02h1.11v8.15h-1.11zM86.32 103.02h1.11v8.15h-1.11zM96.30 103.02h1.11v8.15h-1.11zM102.95 103.02h1.11v8.15h-1.11zM118.47 103.02h1.11v8.15h-1.11zM121.79 103.02h1.11v8.15h-1.11zM125.12 103.02h1.11v8.15h-1.11zM139.53 103.02h1.11v8.15h-1.11zM149.51 103.02h1.11v8.15h-1.11zM213.81 103.02h1.11v8.15h-1.11zM45.30 111.18h1.11v8.15h-1.11zM74.13 111.18h1.11v8.15h-1.11zM84.10 111.18h1.11v8.15h-1.11zM102.95 111.18h1.11v8.15h-1.11zM106.27 111.18h1.11v8.15h-1.11zM120.69 111.18h1.11v8.15h-1.11zM166.14 111.18h1.11v8.15h-1.11zM172.79 111.18h1.11v8.15h-1.11zM51.95 119.33h1.11v8.15h-1.11zM82.99 119.33h1.11v8.15h-1.11zM86.32 119.33h1.11v8.15h-1.11zM112.93 119.33h1.11v8.15h-1.11zM142.86 119.33h1.11v8.15h-1.11zM179.44 119.33h1.11v8.15h-1.11zM189.42 119.33h1.11v8.15h-1.11zM67.47 127.48h1.11v8.15h-1.11zM86.32 127.48h1.11v8.15h-1.11zM95.19 127.48h1.11v8.15h-1.11zM124.01 127.48h1.11v8.15h-1.11zM159.49 127.48h1.11v8.15h-1.11zM162.81 127.48h1.11v8.15h-1.11zM177.22 127.48h1.11v8.15h-1.11zM79.67 135.64h1.11v8.15h-1.11zM82.99 135.64h1.11v8.15h-1.11zM91.86 135.64h1.11v8.15h-1.11zM94.08 135.64h1.11v8.15h-1.11zM98.51 135.64h1.11v8.15h-1.11zM108.49 135.64h1.11v8.15h-1.11zM179.44 135.64h1.11v8.15h-1.11zM189.42 135.64h1.11v8.15h-1.11zM71.91 143.80h1.11v8.15h-1.11zM82.99 143.80h1.11v8.15h-1.11zM100.73 143.80h2.22v8.15h-2.22zM122.90 143.80h1.11v8.15h-1.11zM133.99 143.80h1.11v8.15h-1.11zM157.27 143.80h1.11v8.15h-1.11zM180.55 143.80h1.11v8.15h-1.11zM96.30 151.95h1.11v8.15h-1.11zM112.93 151.95h1.11v8.15h-1.11zM117.36 151.95h1.11v8.15h-1.11zM119.58 151.95h1.11v8.15h-1.11zM143.97 151.95h1.11v8.15h-1.11zM149.51 151.95h1.11v8.15h-1.11zM157.27 151.95h1.11v8.15h-1.11zM182.77 151.95h2.22v8.15h-2.22zM209.37 151.95h1.11v8.15h-1.11zM79.67 160.11h1.11v8.15h-1.11zM85.21 160.11h1.11v8.15h-1.11zM97.41 160.11h1.11v8.15h-1.11zM125.12 160.11h2.22v8.15h-2.22zM129.55 160.11h2.22v8.15h-2.22zM132.88 160.11h1.11v8.15h-1.11zM135.10 160.11h1.11v8.15h-1.11zM140.64 160.11h1.11v8.15h-1.11zM147.29 160.11h1.11v8.15h-1.11zM156.16 160.11h1.11v8.15h-1.11zM166.14 160.11h1.11v8.15h-1.11zM74.13 168.26h1.11v8.15h-1.11zM91.86 168.26h1.11v8.15h-1.11zM102.95 168.26h1.11v8.15h-1.11zM120.69 168.26h1.11v8.15h-1.11zM136.21 168.26h2.22v8.15h-2.22zM142.86 168.26h1.11v8.15h-1.11zM50.85 176.41h1.11v8.15h-1.11zM99.62 176.41h1.11v8.15h-1.11zM118.47 176.41h1.11v8.15h-1.11zM133.99 176.41h1.11v8.15h-1.11zM139.53 176.41h1.11v8.15h-1.11zM160.59 176.41h1.11v8.15h-1.11zM166.14 176.41h1.11v8.15h-1.11zM172.79 176.41h1.11v8.15h-1.11zM186.09 176.41h1.11v8.15h-1.11zM197.18 176.41h1.11v8.15h-1.11zM99.62 184.57h1.11v8.15h-1.11zM132.88 184.57h1.11v8.15h-1.11zM145.07 184.57h1.11v8.15h-1.11zM147.29 184.57h1.11v8.15h-1.11zM175.01 184.57h2.22v8.15h-2.22zM194.96 184.57h1.11v8.15h-1.11zM220.46 184.57h1.11v8.15h-1.11zM92.97 192.72h1.11v8.15h-1.11zM96.30 192.72h2.22v8.15h-2.22zM101.84 192.72h1.11v8.15h-1.11zM107.38 192.72h1.11v8.15h-1.11zM110.71 192.72h2.22v8.15h-2.22zM128.45 192.72h1.11v8.15h-1.11zM152.83 192.72h1.11v8.15h-1.11zM171.68 192.72h1.11v8.15h-1.11zM178.33 192.72h1.11v8.15h-1.11zM189.42 192.72h1.11v8.15h-1.11zM212.70 192.72h1.11v8.15h-1.11zM133.99 200.88h1.11v8.15h-1.11zM157.27 200.88h1.11v8.15h-1.11zM175.01 200.88h1.11v8.15h-1.11zM179.44 200.88h1.11v8.15h-1.11zM186.09 200.88h1.11v8.15h-1.11zM191.63 200.88h1.11v8.15h-1.11zM194.96 200.88h1.11v8.15h-1.11zM214.91 200.88h1.11v8.15h-1.11zM70.80 209.03h1.11v8.15h-1.11zM79.67 209.03h1.11v8.15h-1.11zM102.95 209.03h1.11v8.15h-1.11zM111.82 209.03h2.22v8.15h-2.22zM119.58 209.03h1.11v8.15h-1.11zM139.53 209.03h2.22v8.15h-2.22zM142.86 209.03h1.11v8.15h-1.11zM150.62 209.03h1.11v8.15h-1.11zM153.94 209.03h1.11v8.15h-1.11zM168.35 209.03h1.11v8.15h-1.11zM173.90 209.03h1.11v8.15h-1.11zM200.50 209.03h1.11v8.15h-1.11zM109.60 217.19h1.11v8.15h-1.11zM112.93 217.19h1.11v8.15h-1.11zM125.12 217.19h1.11v8.15h-1.11zM129.55 217.19h1.11v8.15h-1.11zM132.88 217.19h1.11v8.15h-1.11zM150.62 217.19h1.11v8.15h-1.11zM168.35 217.19h1.11v8.15h-1.11zM179.44 217.19h1.11v8.15h-1.11zM194.96 217.19h1.11v8.15h-1.11zM49.74 225.34h1.11v8.15h-1.11zM71.91 225.34h1.11v8.15h-1.11zM77.45 225.34h1.11v8.15h-1.11zM102.95 225.34h1.11v8.15h-1.11zM121.79 225.34h1.11v8.15h-1.11zM131.77 225.34h1.11v8.15h-1.11zM142.86 225.34h1.11v8.15h-1.11zM159.49 225.34h1.11v8.15h-1.11zM171.68 225.34h1.11v8.15h-1.11zM181.66 225.34h1.11v8.15h-1.11z"/><path fill="#f5cabe" d="M56.39 70.40h1.11v8.15h-1.11zM64.15 70.40h1.11v8.15h-1.11zM74.13 70.40h1.11v8.15h-1.11zM88.54 70.40h1.11v8.15h-1.11zM90.75 70.40h1.11v8.15h-1.11zM92.97 70.40h1.11v8.15h-1.11zM96.30 70.40h1.11v8.15h-1.11zM98.51 70.40h1.11v8.15h-1.11zM106.27 70.40h1.11v8.15h-1.11zM60.82 78.56h2.22v8.15h-2.22zM66.37 78.56h1.11v8.15h-1.11zM78.56 78.56h1.11v8.15h-1.11zM84.10 78.56h1.11v8.15h-1.11zM115.14 78.56h1.11v8.15h-1.11zM124.01 78.56h1.11v8.15h-1.11zM160.59 78.56h1.11v8.15h-1.11zM79.67 86.71h1.11v8.15h-1.11zM89.65 86.71h1.11v8.15h-1.11zM92.97 86.71h1.11v8.15h-1.11zM97.41 86.71h1.11v8.15h-1.11zM99.62 86.71h1.11v8.15h-1.11zM101.84 86.71h1.11v8.15h-1.11zM109.60 86.71h2.22v8.15h-2.22zM121.79 86.71h1.11v8.15h-1.11zM183.87 86.71h1.11v8.15h-1.11zM33.11 94.87h1.11v8.15h-1.11zM66.37 94.87h1.11v8.15h-1.11zM76.34 94.87h1.11v8.15h-1.11zM82.99 94.87h2.22v8.15h-2.22zM109.60 94.87h1.11v8.15h-1.11zM111.82 94.87h1.11v8.15h-1.11zM45.30 103.02h1.11v8.15h-1.11zM60.82 103.02h1.11v8.15h-1.11zM122.90 103.02h1.11v8.15h-1.11zM60.82 111.18h1.11v8.15h-1.11zM78.56 111.18h1.11v8.15h-1.11zM80.78 111.18h1.11v8.15h-1.11zM114.03 111.18h1.11v8.15h-1.11zM119.58 111.18h1.11v8.15h-1.11zM121.79 111.18h1.11v8.15h-1.11zM171.68 111.18h1.11v8.15h-1.11zM47.52 119.33h1.11v8.15h-1.11zM73.02 119.33h1.11v8.15h-1.11zM106.27 119.33h1.11v8.15h-1.11zM73.02 127.48h1.11v8.15h-1.11zM108.49 127.48h1.11v8.15h-1.11zM118.47 127.48h1.11v8.15h-1.11zM126.23 127.48h1.11v8.15h-1.11zM132.88 127.48h1.11v8.15h-1.11zM138.42 127.48h1.11v8.15h-1.11zM189.42 127.48h1.11v8.15h-1.11zM40.87 135.64h1.11v8.15h-1.11zM84.10 135.64h2.22v8.15h-2.22zM117.36 135.64h1.11v8.15h-1.11zM137.31 135.64h1.11v8.15h-1.11zM142.86 135.64h1.11v8.15h-1.11zM153.94 135.64h1.11v8.15h-1.11zM73.02 143.80h1.11v8.15h-1.11zM76.34 143.80h1.11v8.15h-1.11zM94.08 143.80h1.11v8.15h-1.11zM98.51 143.80h1.11v8.15h-1.11zM115.14 143.80h1.11v8.15h-1.11zM131.77 143.80h1.11v8.15h-1.11zM120.69 151.95h1.11v8.15h-1.11zM124.01 151.95h1.11v8.15h-1.11zM130.66 151.95h1.11v8.15h-1.11zM140.64 151.95h1.11v8.15h-1.11zM147.29 151.95h1.11v8.15h-1.11zM159.49 151.95h1.11v8.15h-1.11zM189.42 151.95h1.11v8.15h-1.11zM199.39 151.95h1.11v8.15h-1.11zM212.70 151.95h2.22v8.15h-2.22zM220.46 151.95h1.11v8.15h-1.11zM80.78 160.11h1.11v8.15h-1.11zM89.65 160.11h1.11v8.15h-1.11zM136.21 160.11h1.11v8.15h-1.11zM148.40 160.11h1.11v8.15h-1.11zM175.01 160.11h2.22v8.15h-2.22zM180.55 160.11h1.11v8.15h-1.11zM211.59 160.11h1.11v8.15h-1.11zM218.24 160.11h1.11v8.15h-1.11zM101.84 168.26h1.11v8.15h-1.11zM107.38 168.26h1.11v8.15h-1.11zM126.23 168.26h1.11v8.15h-1.11zM131.77 168.26h1.11v8.15h-1.11zM155.05 168.26h1.11v8.15h-1.11zM169.46 168.26h1.11v8.15h-1.11zM171.68 168.26h1.11v8.15h-1.11zM179.44 168.26h1.11v8.15h-1.11zM184.98 168.26h1.11v8.15h-1.11zM89.65 176.41h1.11v8.15h-1.11zM126.23 176.41h1.11v8.15h-1.11zM143.97 176.41h1.11v8.15h-1.11zM156.16 176.41h2.22v8.15h-2.22zM175.01 176.41h1.11v8.15h-1.11zM189.42 176.41h1.11v8.15h-1.11zM201.61 176.41h1.11v8.15h-1.11zM209.37 176.41h1.11v8.15h-1.11zM97.41 184.57h1.11v8.15h-1.11zM141.75 184.57h1.11v8.15h-1.11zM169.46 184.57h1.11v8.15h-1.11zM181.66 184.57h1.11v8.15h-1.11zM186.09 184.57h1.11v8.15h-1.11zM198.29 184.57h1.11v8.15h-1.11zM201.61 184.57h1.11v8.15h-1.11zM209.37 184.57h1.11v8.15h-1.11zM99.62 192.72h2.22v8.15h-2.22zM104.06 192.72h1.11v8.15h-1.11zM120.69 192.72h1.11v8.15h-1.11zM127.34 192.72h1.11v8.15h-1.11zM135.10 192.72h1.11v8.15h-1.11zM159.49 192.72h1.11v8.15h-1.11zM166.14 192.72h2.22v8.15h-2.22zM200.50 192.72h1.11v8.15h-1.11zM213.81 192.72h1.11v8.15h-1.11zM55.28 200.88h1.11v8.15h-1.11zM95.19 200.88h1.11v8.15h-1.11zM107.38 200.88h1.11v8.15h-1.11zM130.66 200.88h1.11v8.15h-1.11zM132.88 200.88h1.11v8.15h-1.11zM142.86 200.88h1.11v8.15h-1.11zM149.51 200.88h1.11v8.15h-1.11zM152.83 200.88h1.11v8.15h-1.11zM160.59 200.88h2.22v8.15h-2.22zM166.14 200.88h1.11v8.15h-1.11zM168.35 200.88h1.11v8.15h-1.11zM182.77 200.88h1.11v8.15h-1.11zM73.02 209.03h1.11v8.15h-1.11zM97.41 209.03h1.11v8.15h-1.11zM115.14 209.03h1.11v8.15h-1.11zM125.12 209.03h1.11v8.15h-1.11zM129.55 209.03h1.11v8.15h-1.11zM178.33 209.03h1.11v8.15h-1.11zM180.55 209.03h1.11v8.15h-1.11zM91.86 217.19h1.11v8.15h-1.11zM111.82 217.19h1.11v8.15h-1.11zM114.03 217.19h1.11v8.15h-1.11zM136.21 217.19h3.33v8.15h-3.33zM152.83 217.19h1.11v8.15h-1.11zM175.01 217.19h1.11v8.15h-1.11zM97.41 225.34h1.11v8.15h-1.11zM101.84 225.34h1.11v8.15h-1.11zM107.38 225.34h1.11v8.15h-1.11zM112.93 225.34h1.11v8.15h-1.11zM132.88 225.34h1.11v8.15h-1.11zM135.10 225.34h2.22v8.15h-2.22zM146.18 225.34h1.11v8.15h-1.11zM156.16 225.34h1.11v8.15h-1.11zM182.77 225.34h1.11v8.15h-1.11zM192.74 225.34h1.11v8.15h-1.11zM194.96 225.34h1.11v8.15h-1.11zM198.29 225.34h2.22v8.15h-2.22zM203.83 225.34h1.11v8.15h-1.11zM213.81 225.34h1.11v8.15h-1.11z"/><path fill="#f4bdab" d="M49.74 70.40h1.11v8.15h-1.11zM61.93 70.40h1.11v8.15h-1.11zM70.80 70.40h1.11v8.15h-1.11zM75.23 70.40h2.22v8.15h-2.22zM87.43 70.40h1.11v8.15h-1.11zM99.62 70.40h1.11v8.15h-1.11zM101.84 70.40h1.11v8.15h-1.11zM104.06 70.40h1.11v8.15h-1.11zM108.49 70.40h1.11v8.15h-1.11zM122.90 70.40h2.22v8.15h-2.22zM128.45 70.40h1.11v8.15h-1.11zM180.55 70.40h1.11v8.15h-1.11zM43.09 78.56h1.11v8.15h-1.11zM51.95 78.56h1.11v8.15h-1.11zM54.17 78.56h1.11v8.15h-1.11zM86.32 78.56h2.22v8.15h-2.22zM94.08 78.56h1.11v8.15h-1.11zM97.41 78.56h1.11v8.15h-1.11zM99.62 78.56h1.11v8.15h-1.11zM102.95 78.56h1.11v8.15h-1.11zM105.17 78.56h1.11v8.15h-1.11zM108.49 78.56h1.11v8.15h-1.11zM51.95 86.71h1.11v8.15h-1.11zM67.47 86.71h1.11v8.15h-1.11zM74.13 86.71h1.11v8.15h-1.11zM78.56 86.71h1.11v8.15h-1.11zM88.54 86.71h1.11v8.15h-1.11zM117.36 86.71h1.11v8.15h-1.11zM124.01 86.71h1.11v8.15h-1.11zM126.23 86.71h1.11v8.15h-1.11zM137.31 86.71h1.11v8.15h-1.11zM139.53 86.71h1.11v8.15h-1.11zM151.73 86.71h1.11v8.15h-1.11zM61.93 94.87h1.11v8.15h-1.11zM70.80 94.87h1.11v8.15h-1.11zM78.56 94.87h1.11v8.15h-1.11zM96.30 94.87h1.11v8.15h-1.11zM122.90 94.87h1.11v8.15h-1.11zM126.23 94.87h1.11v8.15h-1.11zM155.05 94.87h1.11v8.15h-1.11zM39.76 103.02h1.11v8.15h-1.11zM43.09 103.02h1.11v8.15h-1.11zM66.37 103.02h1.11v8.15h-1.11zM73.02 103.02h1.11v8.15h-1.11zM79.67 103.02h1.11v8.15h-1.11zM89.65 103.02h1.11v8.15h-1.11zM117.36 103.02h1.11v8.15h-1.11zM63.04 111.18h1.11v8.15h-1.11zM81.89 111.18h1.11v8.15h-1.11zM85.21 111.18h1.11v8.15h-1.11zM105.17 111.18h1.11v8.15h-1.11zM118.47 111.18h1.11v8.15h-1.11zM189.42 111.18h1.11v8.15h-1.11zM59.71 119.33h1.11v8.15h-1.11zM65.26 119.33h1.11v8.15h-1.11zM67.47 119.33h3.33v8.15h-3.33zM94.08 119.33h1.11v8.15h-1.11zM101.84 119.33h2.22v8.15h-2.22zM124.01 119.33h1.11v8.15h-1.11zM129.55 119.33h1.11v8.15h-1.11zM143.97 119.33h1.11v8.15h-1.11zM146.18 119.33h1.11v8.15h-1.11zM49.74 127.48h1.11v8.15h-1.11zM77.45 127.48h1.11v8.15h-1.11zM85.21 127.48h1.11v8.15h-1.11zM89.65 127.48h1.11v8.15h-1.11zM102.95 127.48h1.11v8.15h-1.11zM114.03 127.48h2.22v8.15h-2.22zM119.58 127.48h1.11v8.15h-1.11zM121.79 127.48h1.11v8.15h-1.11zM128.45 127.48h1.11v8.15h-1.11zM133.99 127.48h1.11v8.15h-1.11zM139.53 127.48h1.11v8.15h-1.11zM35.33 135.64h1.11v8.15h-1.11zM41.98 135.64h1.11v8.15h-1.11zM45.30 135.64h1.11v8.15h-1.11zM67.47 135.64h1.11v8.15h-1.11zM76.34 135.64h1.11v8.15h-1.11zM129.55 135.64h1.11v8.15h-1.11zM133.99 135.64h1.11v8.15h-1.11zM45.30 143.80h1.11v8.15h-1.11zM53.06 143.80h1.11v8.15h-1.11zM74.13 143.80h1.11v8.15h-1.11zM77.45 143.80h1.11v8.15h-1.11zM95.19 143.80h1.11v8.15h-1.11zM106.27 143.80h1.11v8.15h-1.11zM114.03 143.80h1.11v8.15h-1.11zM121.79 143.80h1.11v8.15h-1.11zM128.45 143.80h1.11v8.15h-1.11zM80.78 151.95h1.11v8.15h-1.11zM127.34 151.95h1.11v8.15h-1.11zM131.77 151.95h1.11v8.15h-1.11zM133.99 151.95h1.11v8.15h-1.11zM136.21 151.95h1.11v8.15h-1.11zM153.94 151.95h2.22v8.15h-2.22zM166.14 151.95h1.11v8.15h-1.11zM177.22 151.95h1.11v8.15h-1.11zM108.49 160.11h1.11v8.15h-1.11zM127.34 160.11h1.11v8.15h-1.11zM142.86 160.11h2.22v8.15h-2.22zM161.70 160.11h1.11v8.15h-1.11zM200.50 160.11h1.11v8.15h-1.11zM214.91 160.11h1.11v8.15h-1.11zM116.25 168.26h1.11v8.15h-1.11zM125.12 168.26h1.11v8.15h-1.11zM156.16 168.26h1.11v8.15h-1.11zM158.38 168.26h1.11v8.15h-1.11zM166.14 168.26h1.11v8.15h-1.11zM168.35 168.26h1.11v8.15h-1.11zM188.31 168.26h1.11v8.15h-1.11zM192.74 168.26h1.11v8.15h-1.11zM209.37 168.26h1.11v8.15h-1.11zM149.51 176.41h1.11v8.15h-1.11zM159.49 176.41h1.11v8.15h-1.11zM165.03 176.41h1.11v8.15h-1.11zM168.35 176.41h1.11v8.15h-1.11zM188.31 176.41h1.11v8.15h-1.11zM199.39 176.41h1.11v8.15h-1.11zM203.83 176.41h1.11v8.15h-1.11zM210.48 176.41h1.11v8.15h-1.11zM107.38 184.57h1.11v8.15h-1.11zM112.93 184.57h1.11v8.15h-1.11zM119.58 184.57h1.11v8.15h-1.11zM153.94 184.57h1.11v8.15h-1.11zM157.27 184.57h1.11v8.15h-1.11zM166.14 184.57h2.22v8.15h-2.22zM170.57 184.57h1.11v8.15h-1.11zM173.90 184.57h1.11v8.15h-1.11zM184.98 184.57h1.11v8.15h-1.11zM197.18 184.57h1.11v8.15h-1.11zM203.83 184.57h1.11v8.15h-1.11zM212.70 184.57h1.11v8.15h-1.11zM119.58 192.72h1.11v8.15h-1.11zM142.86 192.72h1.11v8.15h-1.11zM147.29 192.72h2.22v8.15h-2.22zM153.94 192.72h1.11v8.15h-1.11zM158.38 192.72h1.11v8.15h-1.11zM169.46 192.72h2.22v8.15h-2.22zM172.79 192.72h2.22v8.15h-2.22zM199.39 192.72h1.11v8.15h-1.11zM214.91 192.72h1.11v8.15h-1.11zM219.35 192.72h2.22v8.15h-2.22zM104.06 200.88h1.11v8.15h-1.11zM111.82 200.88h1.11v8.15h-1.11zM131.77 200.88h1.11v8.15h-1.11zM136.21 200.88h1.11v8.15h-1.11zM138.42 200.88h1.11v8.15h-1.11zM151.73 200.88h1.11v8.15h-1.11zM171.68 200.88h1.11v8.15h-1.11zM193.85 200.88h1.11v8.15h-1.11zM199.39 200.88h2.22v8.15h-2.22zM32.00 209.03h1.11v8.15h-1.11zM89.65 209.03h1.11v8.15h-1.11zM114.03 209.03h1.11v8.15h-1.11zM132.88 209.03h1.11v8.15h-1.11zM136.21 209.03h1.11v8.15h-1.11zM145.07 209.03h1.11v8.15h-1.11zM157.27 209.03h1.11v8.15h-1.11zM161.70 209.03h2.22v8.15h-2.22zM176.11 209.03h1.11v8.15h-1.11zM222.67 209.03h1.11v8.15h-1.11zM90.75 217.19h1.11v8.15h-1.11zM102.95 217.19h1.11v8.15h-1.11zM141.75 217.19h1.11v8.15h-1.11zM151.73 217.19h1.11v8.15h-1.11zM156.16 217.19h1.11v8.15h-1.11zM162.81 217.19h1.11v8.15h-1.11zM169.46 217.19h1.11v8.15h-1.11zM173.90 217.19h1.11v8.15h-1.11zM178.33 217.19h1.11v8.15h-1.11zM218.24 217.19h1.11v8.15h-1.11zM127.34 225.34h1.11v8.15h-1.11zM143.97 225.34h1.11v8.15h-1.11zM152.83 225.34h1.11v8.15h-1.11zM161.70 225.34h1.11v8.15h-1.11zM170.57 225.34h1.11v8.15h-1.11z"/><path fill="#f4af98" d="M41.98 70.40h1.11v8.15h-1.11zM50.85 70.40h1.11v8.15h-1.11zM63.04 70.40h1.11v8.15h-1.11zM77.45 70.40h1.11v8.15h-1.11zM82.99 70.40h1.11v8.15h-1.11zM86.32 70.40h1.11v8.15h-1.11zM89.65 70.40h1.11v8.15h-1.11zM95.19 70.40h1.11v8.15h-1.11zM39.76 78.56h1.11v8.15h-1.11zM45.30 78.56h1.11v8.15h-1.11zM50.85 78.56h1.11v8.15h-1.11zM55.28 78.56h1.11v8.15h-1.11zM57.50 78.56h2.22v8.15h-2.22zM65.26 78.56h1.11v8.15h-1.11zM67.47 78.56h1.11v8.15h-1.11zM70.80 78.56h1.11v8.15h-1.11zM73.02 78.56h1.11v8.15h-1.11zM88.54 78.56h1.11v8.15h-1.11zM95.19 78.56h1.11v8.15h-1.11zM98.51 78.56h1.11v8.15h-1.11zM118.47 78.56h1.11v8.15h-1.11zM37.54 86.71h1.11v8.15h-1.11zM57.50 86.71h1.11v8.15h-1.11zM76.34 86.71h1.11v8.15h-1.11zM90.75 86.71h1.11v8.15h-1.11zM96.30 86.71h1.11v8.15h-1.11zM114.03 86.71h1.11v8.15h-1.11zM122.90 86.71h1.11v8.15h-1.11zM180.55 86.71h1.11v8.15h-1.11zM34.22 94.87h1.11v8.15h-1.11zM39.76 94.87h1.11v8.15h-1.11zM43.09 94.87h1.11v8.15h-1.11zM63.04 94.87h1.11v8.15h-1.11zM77.45 94.87h1.11v8.15h-1.11zM79.67 94.87h1.11v8.15h-1.11zM89.65 94.87h1.11v8.15h-1.11zM99.62 94.87h1.11v8.15h-1.11zM110.71 94.87h1.11v8.15h-1.11zM115.14 94.87h1.11v8.15h-1.11zM117.36 94.87h1.11v8.15h-1.11zM120.69 94.87h1.11v8.15h-1.11zM127.34 94.87h1.11v8.15h-1.11zM35.33 103.02h2.22v8.15h-2.22zM50.85 103.02h1.11v8.15h-1.11zM54.17 103.02h1.11v8.15h-1.11zM56.39 103.02h1.11v8.15h-1.11zM64.15 103.02h1.11v8.15h-1.11zM84.10 103.02h1.11v8.15h-1.11zM91.86 103.02h1.11v8.15h-1.11zM105.17 103.02h1.11v8.15h-1.11zM109.60 103.02h1.11v8.15h-1.11zM120.69 103.02h1.11v8.15h-1.11zM167.25 103.02h1.11v8.15h-1.11zM172.79 103.02h1.11v8.15h-1.11zM35.33 111.18h1.11v8.15h-1.11zM38.65 111.18h1.11v8.15h-1.11zM51.95 111.18h2.22v8.15h-2.22zM64.15 111.18h1.11v8.15h-1.11zM67.47 111.18h1.11v8.15h-1.11zM88.54 111.18h1.11v8.15h-1.11zM95.19 111.18h2.22v8.15h-2.22zM108.49 111.18h1.11v8.15h-1.11zM111.82 111.18h1.11v8.15h-1.11zM150.62 111.18h1.11v8.15h-1.11zM167.25 111.18h1.11v8.15h-1.11zM32.00 119.33h1.11v8.15h-1.11zM74.13 119.33h1.11v8.15h-1.11zM76.34 119.33h1.11v8.15h-1.11zM97.41 119.33h2.22v8.15h-2.22zM100.73 119.33h1.11v8.15h-1.11zM110.71 119.33h1.11v8.15h-1.11zM137.31 119.33h1.11v8.15h-1.11zM37.54 127.48h1.11v8.15h-1.11zM46.41 127.48h1.11v8.15h-1.11zM50.85 127.48h1.11v8.15h-1.11zM53.06 127.48h1.11v8.15h-1.11zM65.26 127.48h1.11v8.15h-1.11zM70.80 127.48h1.11v8.15h-1.11zM91.86 127.48h1.11v8.15h-1.11zM117.36 127.48h1.11v8.15h-1.11zM180.55 127.48h1.11v8.15h-1.11zM49.74 135.64h2.22v8.15h-2.22zM60.82 135.64h1.11v8.15h-1.11zM70.80 135.64h1.11v8.15h-1.11zM115.14 135.64h1.11v8.15h-1.11zM121.79 135.64h1.11v8.15h-1.11zM136.21 135.64h1.11v8.15h-1.11zM152.83 135.64h1.11v8.15h-1.11zM198.29 135.64h1.11v8.15h-1.11zM39.76 143.80h1.11v8.15h-1.11zM44.19 143.80h1.11v8.15h-1.11zM51.95 143.80h1.11v8.15h-1.11zM60.82 143.80h1.11v8.15h-1.11zM63.04 143.80h2.22v8.15h-2.22zM78.56 143.80h1.11v8.15h-1.11zM96.30 143.80h1.11v8.15h-1.11zM110.71 143.80h1.11v8.15h-1.11zM132.88 151.95h1.11v8.15h-1.11zM152.83 151.95h1.11v8.15h-1.11zM167.25 151.95h1.11v8.15h-1.11zM194.96 151.95h1.11v8.15h-1.11zM197.18 151.95h1.11v8.15h-1.11zM202.72 151.95h1.11v8.15h-1.11zM106.27 160.11h1.11v8.15h-1.11zM111.82 160.11h1.11v8.15h-1.11zM119.58 160.11h1.11v8.15h-1.11zM138.42 160.11h1.11v8.15h-1.11zM150.62 160.11h1.11v8.15h-1.11zM152.83 160.11h1.11v8.15h-1.11zM158.38 160.11h1.11v8.15h-1.11zM170.57 160.11h2.22v8.15h-2.22zM173.90 160.11h1.11v8.15h-1.11zM186.09 160.11h1.11v8.15h-1.11zM188.31 160.11h1.11v8.15h-1.11zM203.83 160.11h1.11v8.15h-1.11zM222.67 160.11h1.11v8.15h-1.11zM112.93 168.26h1.11v8.15h-1.11zM127.34 168.26h1.11v8.15h-1.11zM148.40 168.26h1.11v8.15h-1.11zM150.62 168.26h1.11v8.15h-1.11zM161.70 168.26h1.11v8.15h-1.11zM163.92 168.26h1.11v8.15h-1.11zM173.90 168.26h1.11v8.15h-1.11zM177.22 168.26h1.11v8.15h-1.11zM189.42 168.26h1.11v8.15h-1.11zM191.63 168.26h1.11v8.15h-1.11zM198.29 168.26h1.11v8.15h-1.11zM200.50 168.26h1.11v8.15h-1.11zM214.91 168.26h1.11v8.15h-1.11zM222.67 168.26h1.11v8.15h-1.11zM106.27 176.41h1.11v8.15h-1.11zM114.03 176.41h1.11v8.15h-1.11zM135.10 176.41h1.11v8.15h-1.11zM141.75 176.41h1.11v8.15h-1.11zM147.29 176.41h2.22v8.15h-2.22zM155.05 176.41h1.11v8.15h-1.11zM162.81 176.41h1.11v8.15h-1.11zM173.90 176.41h1.11v8.15h-1.11zM177.22 176.41h1.11v8.15h-1.11zM183.87 176.41h1.11v8.15h-1.11zM213.81 176.41h1.11v8.15h-1.11zM116.25 184.57h1.11v8.15h-1.11zM127.34 184.57h1.11v8.15h-1.11zM148.40 184.57h1.11v8.15h-1.11zM171.68 184.57h2.22v8.15h-2.22zM182.77 184.57h1.11v8.15h-1.11zM211.59 184.57h1.11v8.15h-1.11zM213.81 184.57h2.22v8.15h-2.22zM222.67 184.57h1.11v8.15h-1.11zM112.93 192.72h1.11v8.15h-1.11zM121.79 192.72h1.11v8.15h-1.11zM157.27 192.72h1.11v8.15h-1.11zM175.01 192.72h1.11v8.15h-1.11zM180.55 192.72h1.11v8.15h-1.11zM194.96 192.72h1.11v8.15h-1.11zM224.89 192.72h1.11v8.15h-1.11zM117.36 200.88h1.11v8.15h-1.11zM141.75 200.88h1.11v8.15h-1.11zM147.29 200.88h1.11v8.15h-1.11zM156.16 200.88h1.11v8.15h-1.11zM172.79 200.88h1.11v8.15h-1.11zM177.22 200.88h1.11v8.15h-1.11zM198.29 200.88h1.11v8.15h-1.11zM210.48 200.88h1.11v8.15h-1.11zM218.24 200.88h1.11v8.15h-1.11zM127.34 209.03h1.11v8.15h-1.11zM131.77 209.03h1.11v8.15h-1.11zM137.31 209.03h1.11v8.15h-1.11zM151.73 209.03h2.22v8.15h-2.22zM165.03 209.03h1.11v8.15h-1.11zM167.25 209.03h1.11v8.15h-1.11zM169.46 209.03h2.22v8.15h-2.22zM177.22 209.03h1.11v8.15h-1.11zM192.74 209.03h1.11v8.15h-1.11zM214.91 209.03h1.11v8.15h-1.11zM101.84 217.19h1.11v8.15h-1.11zM106.27 217.19h1.11v8.15h-1.11zM146.18 217.19h1.11v8.15h-1.11zM196.07 217.19h1.11v8.15h-1.11zM98.51 225.34h1.11v8.15h-1.11zM106.27 225.34h1.11v8.15h-1.11zM111.82 225.34h1.11v8.15h-1.11zM147.29 225.34h1.11v8.15h-1.11zM158.38 225.34h1.11v8.15h-1.11zM179.44 225.34h1.11v8.15h-1.11zM184.98 225.34h1.11v8.15h-1.11zM208.26 225.34h1.11v8.15h-1.11z"/><path fill="#f3a185" d="M34.22 70.40h2.22v8.15h-2.22zM37.54 70.40h1.11v8.15h-1.11zM45.30 70.40h2.22v8.15h-2.22zM65.26 70.40h1.11v8.15h-1.11zM120.69 70.40h1.11v8.15h-1.11zM44.19 78.56h1.11v8.15h-1.11zM56.39 78.56h1.11v8.15h-1.11zM59.71 78.56h1.11v8.15h-1.11zM89.65 78.56h1.11v8.15h-1.11zM39.76 86.71h1.11v8.15h-1.11zM47.52 86.71h1.11v8.15h-1.11zM59.71 86.71h1.11v8.15h-1.11zM63.04 86.71h1.11v8.15h-1.11zM66.37 86.71h1.11v8.15h-1.11zM91.86 86.71h1.11v8.15h-1.11zM128.45 86.71h1.11v8.15h-1.11zM37.54 94.87h1.11v8.15h-1.11zM57.50 94.87h1.11v8.15h-1.11zM69.69 94.87h1.11v8.15h-1.11zM80.78 94.87h2.22v8.15h-2.22zM87.43 94.87h1.11v8.15h-1.11zM90.75 94.87h1.11v8.15h-1.11zM94.08 94.87h2.22v8.15h-2.22zM105.17 94.87h1.11v8.15h-1.11zM34.22 103.02h1.11v8.15h-1.11zM63.04 103.02h1.11v8.15h-1.11zM88.54 103.02h1.11v8.15h-1.11zM92.97 103.02h1.11v8.15h-1.11zM100.73 103.02h1.11v8.15h-1.11zM108.49 103.02h1.11v8.15h-1.11zM39.76 111.18h1.11v8.15h-1.11zM46.41 111.18h1.11v8.15h-1.11zM49.74 111.18h2.22v8.15h-2.22zM77.45 111.18h1.11v8.15h-1.11zM82.99 111.18h1.11v8.15h-1.11zM98.51 111.18h1.11v8.15h-1.11zM109.60 111.18h1.11v8.15h-1.11zM34.22 119.33h1.11v8.15h-1.11zM49.74 119.33h1.11v8.15h-1.11zM58.61 119.33h1.11v8.15h-1.11zM71.91 119.33h1.11v8.15h-1.11zM87.43 119.33h1.11v8.15h-1.11zM96.30 119.33h1.11v8.15h-1.11zM105.17 119.33h1.11v8.15h-1.11zM109.60 119.33h1.11v8.15h-1.11zM117.36 119.33h1.11v8.15h-1.11zM130.66 119.33h1.11v8.15h-1.11zM55.28 127.48h1.11v8.15h-1.11zM58.61 127.48h1.11v8.15h-1.11zM69.69 127.48h1.11v8.15h-1.11zM80.78 127.48h1.11v8.15h-1.11zM84.10 127.48h1.11v8.15h-1.11zM106.27 127.48h1.11v8.15h-1.11zM152.83 127.48h1.11v8.15h-1.11zM37.54 135.64h1.11v8.15h-1.11zM48.63 135.64h1.11v8.15h-1.11zM53.06 135.64h1.11v8.15h-1.11zM64.15 135.64h1.11v8.15h-1.11zM78.56 135.64h1.11v8.15h-1.11zM90.75 135.64h1.11v8.15h-1.11zM95.19 135.64h1.11v8.15h-1.11zM97.41 135.64h1.11v8.15h-1.11zM99.62 135.64h1.11v8.15h-1.11zM104.06 135.64h1.11v8.15h-1.11zM116.25 135.64h1.11v8.15h-1.11zM124.01 135.64h1.11v8.15h-1.11zM69.69 143.80h1.11v8.15h-1.11zM88.54 143.80h1.11v8.15h-1.11zM108.49 143.80h2.22v8.15h-2.22zM148.40 151.95h1.11v8.15h-1.11zM165.03 151.95h1.11v8.15h-1.11zM170.57 151.95h1.11v8.15h-1.11zM172.79 151.95h1.11v8.15h-1.11zM175.01 151.95h1.11v8.15h-1.11zM178.33 151.95h1.11v8.15h-1.11zM187.20 151.95h1.11v8.15h-1.11zM190.53 151.95h1.11v8.15h-1.11zM198.29 151.95h1.11v8.15h-1.11zM201.61 151.95h1.11v8.15h-1.11zM203.83 151.95h1.11v8.15h-1.11zM208.26 151.95h1.11v8.15h-1.11zM146.18 160.11h1.11v8.15h-1.11zM157.27 160.11h1.11v8.15h-1.11zM159.49 160.11h1.11v8.15h-1.11zM179.44 160.11h1.11v8.15h-1.11zM182.77 160.11h1.11v8.15h-1.11zM187.20 160.11h1.11v8.15h-1.11zM196.07 160.11h1.11v8.15h-1.11zM224.89 160.11h1.11v8.15h-1.11zM128.45 168.26h1.11v8.15h-1.11zM140.64 168.26h1.11v8.15h-1.11zM151.73 168.26h1.11v8.15h-1.11zM160.59 168.26h1.11v8.15h-1.11zM170.57 168.26h1.11v8.15h-1.11zM193.85 168.26h1.11v8.15h-1.11zM204.94 168.26h1.11v8.15h-1.11zM212.70 168.26h1.11v8.15h-1.11zM219.35 168.26h1.11v8.15h-1.11zM112.93 176.41h1.11v8.15h-1.11zM152.83 176.41h1.11v8.15h-1.11zM181.66 176.41h1.11v8.15h-1.11zM184.98 176.41h1.11v8.15h-1.11zM187.20 176.41h1.11v8.15h-1.11zM192.74 176.41h2.22v8.15h-2.22zM196.07 176.41h1.11v8.15h-1.11zM200.50 176.41h1.11v8.15h-1.11zM219.35 176.41h1.11v8.15h-1.11zM224.89 176.41h1.11v8.15h-1.11zM135.10 184.57h1.11v8.15h-1.11zM151.73 184.57h1.11v8.15h-1.11zM177.22 184.57h1.11v8.15h-1.11zM202.72 184.57h1.11v8.15h-1.11zM217.13 184.57h1.11v8.15h-1.11zM219.35 184.57h1.11v8.15h-1.11zM138.42 192.72h2.22v8.15h-2.22zM191.63 192.72h1.11v8.15h-1.11zM209.37 192.72h1.11v8.15h-1.11zM211.59 192.72h1.11v8.15h-1.11zM79.67 200.88h1.11v8.15h-1.11zM155.05 200.88h1.11v8.15h-1.11zM173.90 200.88h1.11v8.15h-1.11zM181.66 200.88h1.11v8.15h-1.11zM192.74 200.88h1.11v8.15h-1.11zM197.18 200.88h1.11v8.15h-1.11zM209.37 200.88h1.11v8.15h-1.11zM213.81 200.88h1.11v8.15h-1.11zM224.89 200.88h1.11v8.15h-1.11zM110.71 209.03h1.11v8.15h-1.11zM149.51 209.03h1.11v8.15h-1.11zM159.49 209.03h1.11v8.15h-1.11zM184.98 209.03h4.43v8.15h-4.43zM191.63 209.03h1.11v8.15h-1.11zM203.83 209.03h1.11v8.15h-1.11zM116.25 217.19h1.11v8.15h-1.11zM147.29 217.19h1.11v8.15h-1.11zM160.59 217.19h2.22v8.15h-2.22zM186.09 217.19h1.11v8.15h-1.11zM200.50 217.19h1.11v8.15h-1.11zM203.83 217.19h1.11v8.15h-1.11zM217.13 217.19h1.11v8.15h-1.11zM130.66 225.34h1.11v8.15h-1.11zM167.25 225.34h1.11v8.15h-1.11zM189.42 225.34h1.11v8.15h-1.11zM209.37 225.34h1.11v8.15h-1.11zM217.13 225.34h1.11v8.15h-1.11zM219.35 225.34h1.11v8.15h-1.11z"/><path fill="#f09175" d="M32.00 70.40h1.11v8.15h-1.11zM36.43 70.40h1.11v8.15h-1.11zM47.52 70.40h1.11v8.15h-1.11zM73.02 70.40h1.11v8.15h-1.11zM80.78 70.40h1.11v8.15h-1.11zM37.54 78.56h1.11v8.15h-1.11zM48.63 78.56h1.11v8.15h-1.11zM63.04 78.56h1.11v8.15h-1.11zM81.89 78.56h1.11v8.15h-1.11zM90.75 78.56h2.22v8.15h-2.22zM106.27 78.56h1.11v8.15h-1.11zM109.60 78.56h1.11v8.15h-1.11zM49.74 86.71h2.22v8.15h-2.22zM55.28 86.71h1.11v8.15h-1.11zM69.69 86.71h1.11v8.15h-1.11zM82.99 86.71h1.11v8.15h-1.11zM94.08 86.71h1.11v8.15h-1.11zM98.51 86.71h1.11v8.15h-1.11zM35.33 94.87h1.11v8.15h-1.11zM51.95 94.87h1.11v8.15h-1.11zM56.39 94.87h1.11v8.15h-1.11zM59.71 94.87h1.11v8.15h-1.11zM65.26 94.87h1.11v8.15h-1.11zM67.47 94.87h1.11v8.15h-1.11zM86.32 94.87h1.11v8.15h-1.11zM46.41 103.02h1.11v8.15h-1.11zM57.50 103.02h1.11v8.15h-1.11zM75.23 103.02h1.11v8.15h-1.11zM87.43 103.02h1.11v8.15h-1.11zM98.51 103.02h1.11v8.15h-1.11zM48.63 111.18h1.11v8.15h-1.11zM55.28 111.18h1.11v8.15h-1.11zM57.50 111.18h2.22v8.15h-2.22zM68.58 111.18h1.11v8.15h-1.11zM90.75 111.18h1.11v8.15h-1.11zM92.97 111.18h1.11v8.15h-1.11zM99.62 111.18h1.11v8.15h-1.11zM107.38 111.18h1.11v8.15h-1.11zM124.01 111.18h1.11v8.15h-1.11zM35.33 119.33h1.11v8.15h-1.11zM37.54 119.33h1.11v8.15h-1.11zM39.76 119.33h1.11v8.15h-1.11zM54.17 119.33h1.11v8.15h-1.11zM56.39 119.33h1.11v8.15h-1.11zM75.23 119.33h1.11v8.15h-1.11zM121.79 119.33h2.22v8.15h-2.22zM32.00 127.48h1.11v8.15h-1.11zM38.65 127.48h1.11v8.15h-1.11zM43.09 127.48h1.11v8.15h-1.11zM47.52 127.48h1.11v8.15h-1.11zM56.39 127.48h1.11v8.15h-1.11zM88.54 127.48h1.11v8.15h-1.11zM110.71 127.48h1.11v8.15h-1.11zM44.19 135.64h1.11v8.15h-1.11zM47.52 135.64h1.11v8.15h-1.11zM58.61 135.64h2.22v8.15h-2.22zM61.93 135.64h2.22v8.15h-2.22zM66.37 135.64h1.11v8.15h-1.11zM69.69 135.64h1.11v8.15h-1.11zM81.89 135.64h1.11v8.15h-1.11zM96.30 135.64h1.11v8.15h-1.11zM110.71 135.64h1.11v8.15h-1.11zM34.22 143.80h1.11v8.15h-1.11zM38.65 143.80h1.11v8.15h-1.11zM40.87 143.80h1.11v8.15h-1.11zM47.52 143.80h1.11v8.15h-1.11zM59.71 143.80h1.11v8.15h-1.11zM67.47 143.80h2.22v8.15h-2.22zM70.80 143.80h1.11v8.15h-1.11zM87.43 143.80h1.11v8.15h-1.11zM89.65 143.80h1.11v8.15h-1.11zM91.86 143.80h1.11v8.15h-1.11zM119.58 143.80h2.22v8.15h-2.22zM135.10 151.95h1.11v8.15h-1.11zM141.75 151.95h1.11v8.15h-1.11zM150.62 151.95h1.11v8.15h-1.11zM156.16 151.95h1.11v8.15h-1.11zM169.46 151.95h1.11v8.15h-1.11zM173.90 151.95h1.11v8.15h-1.11zM179.44 151.95h1.11v8.15h-1.11zM184.98 151.95h1.11v8.15h-1.11zM193.85 151.95h1.11v8.15h-1.11zM196.07 151.95h1.11v8.15h-1.11zM211.59 151.95h1.11v8.15h-1.11zM222.67 151.95h1.11v8.15h-1.11zM165.03 160.11h1.11v8.15h-1.11zM192.74 160.11h1.11v8.15h-1.11zM202.72 160.11h1.11v8.15h-1.11zM209.37 160.11h1.11v8.15h-1.11zM138.42 168.26h1.11v8.15h-1.11zM175.01 168.26h1.11v8.15h-1.11zM178.33 168.26h1.11v8.15h-1.11zM197.18 168.26h1.11v8.15h-1.11zM201.61 168.26h1.11v8.15h-1.11zM224.89 168.26h1.11v8.15h-1.11zM116.25 176.41h1.11v8.15h-1.11zM127.34 176.41h1.11v8.15h-1.11zM170.57 176.41h1.11v8.15h-1.11zM217.13 176.41h2.22v8.15h-2.22zM156.16 184.57h1.11v8.15h-1.11zM224.89 184.57h1.11v8.15h-1.11zM131.77 192.72h2.22v8.15h-2.22zM141.75 192.72h1.11v8.15h-1.11zM165.03 192.72h1.11v8.15h-1.11zM177.22 192.72h1.11v8.15h-1.11zM216.02 192.72h1.11v8.15h-1.11zM148.40 200.88h1.11v8.15h-1.11zM159.49 200.88h1.11v8.15h-1.11zM180.55 200.88h1.11v8.15h-1.11zM183.87 200.88h1.11v8.15h-1.11zM188.31 200.88h1.11v8.15h-1.11zM196.07 200.88h1.11v8.15h-1.11zM202.72 209.03h1.11v8.15h-1.11zM210.48 209.03h1.11v8.15h-1.11zM216.02 209.03h1.11v8.15h-1.11zM163.92 217.19h2.22v8.15h-2.22zM170.57 217.19h1.11v8.15h-1.11zM176.11 217.19h2.22v8.15h-2.22zM189.42 217.19h1.11v8.15h-1.11zM199.39 217.19h1.11v8.15h-1.11zM201.61 217.19h1.11v8.15h-1.11zM138.42 225.34h1.11v8.15h-1.11zM145.07 225.34h1.11v8.15h-1.11zM150.62 225.34h2.22v8.15h-2.22zM160.59 225.34h1.11v8.15h-1.11zM165.03 225.34h1.11v8.15h-1.11zM175.01 225.34h1.11v8.15h-1.11zM177.22 225.34h1.11v8.15h-1.11zM196.07 225.34h1.11v8.15h-1.11zM200.50 225.34h1.11v8.15h-1.11zM202.72 225.34h1.11v8.15h-1.11zM207.15 225.34h1.11v8.15h-1.11z"/><path fill="#ed8165" d="M38.65 70.40h1.11v8.15h-1.11zM54.17 70.40h1.11v8.15h-1.11zM59.71 70.40h2.22v8.15h-2.22zM66.37 70.40h1.11v8.15h-1.11zM69.69 70.40h1.11v8.15h-1.11zM105.17 70.40h1.11v8.15h-1.11zM40.87 78.56h2.22v8.15h-2.22zM46.41 78.56h1.11v8.15h-1.11zM85.21 78.56h1.11v8.15h-1.11zM101.84 78.56h1.11v8.15h-1.11zM35.33 86.71h1.11v8.15h-1.11zM43.09 86.71h1.11v8.15h-1.11zM60.82 86.71h2.22v8.15h-2.22zM70.80 86.71h1.11v8.15h-1.11zM73.02 86.71h1.11v8.15h-1.11zM104.06 86.71h2.22v8.15h-2.22zM115.14 86.71h1.11v8.15h-1.11zM32.00 94.87h1.11v8.15h-1.11zM36.43 94.87h1.11v8.15h-1.11zM46.41 94.87h2.22v8.15h-2.22zM53.06 94.87h2.22v8.15h-2.22zM75.23 94.87h1.11v8.15h-1.11zM118.47 94.87h1.11v8.15h-1.11zM33.11 103.02h1.11v8.15h-1.11zM41.98 103.02h1.11v8.15h-1.11zM68.58 103.02h1.11v8.15h-1.11zM74.13 103.02h1.11v8.15h-1.11zM32.00 111.18h2.22v8.15h-2.22zM41.98 111.18h1.11v8.15h-1.11zM44.19 111.18h1.11v8.15h-1.11zM61.93 111.18h1.11v8.15h-1.11zM70.80 111.18h1.11v8.15h-1.11zM76.34 111.18h1.11v8.15h-1.11zM36.43 119.33h1.11v8.15h-1.11zM41.98 119.33h1.11v8.15h-1.11zM48.63 119.33h1.11v8.15h-1.11zM50.85 119.33h1.11v8.15h-1.11zM57.50 119.33h1.11v8.15h-1.11zM70.80 119.33h1.11v8.15h-1.11zM77.45 119.33h1.11v8.15h-1.11zM84.10 119.33h1.11v8.15h-1.11zM90.75 119.33h1.11v8.15h-1.11zM125.12 119.33h1.11v8.15h-1.11zM45.30 127.48h1.11v8.15h-1.11zM51.95 127.48h1.11v8.15h-1.11zM57.50 127.48h1.11v8.15h-1.11zM63.04 127.48h1.11v8.15h-1.11zM81.89 127.48h1.11v8.15h-1.11zM87.43 127.48h1.11v8.15h-1.11zM92.97 127.48h1.11v8.15h-1.11zM96.30 127.48h1.11v8.15h-1.11zM105.17 127.48h1.11v8.15h-1.11zM86.32 135.64h2.22v8.15h-2.22zM41.98 143.80h1.11v8.15h-1.11zM54.17 143.80h1.11v8.15h-1.11zM58.61 143.80h1.11v8.15h-1.11zM75.23 143.80h1.11v8.15h-1.11zM81.89 143.80h1.11v8.15h-1.11zM85.21 143.80h1.11v8.15h-1.11zM105.17 143.80h1.11v8.15h-1.11zM130.66 143.80h1.11v8.15h-1.11zM214.91 151.95h2.22v8.15h-2.22zM160.59 160.11h1.11v8.15h-1.11zM172.79 160.11h1.11v8.15h-1.11zM181.66 160.11h1.11v8.15h-1.11zM183.87 160.11h1.11v8.15h-1.11zM191.63 160.11h1.11v8.15h-1.11zM197.18 160.11h2.22v8.15h-2.22zM201.61 160.11h1.11v8.15h-1.11zM210.48 160.11h1.11v8.15h-1.11zM213.81 160.11h1.11v8.15h-1.11zM216.02 160.11h1.11v8.15h-1.11zM147.29 168.26h1.11v8.15h-1.11zM159.49 168.26h1.11v8.15h-1.11zM165.03 168.26h1.11v8.15h-1.11zM206.05 168.26h1.11v8.15h-1.11zM211.59 168.26h1.11v8.15h-1.11zM132.88 176.41h1.11v8.15h-1.11zM138.42 176.41h1.11v8.15h-1.11zM163.92 176.41h1.11v8.15h-1.11zM179.44 176.41h1.11v8.15h-1.11zM194.96 176.41h1.11v8.15h-1.11zM207.15 176.41h1.11v8.15h-1.11zM212.70 176.41h1.11v8.15h-1.11zM130.66 184.57h1.11v8.15h-1.11zM163.92 184.57h2.22v8.15h-2.22zM187.20 184.57h1.11v8.15h-1.11zM193.85 184.57h1.11v8.15h-1.11zM196.07 184.57h1.11v8.15h-1.11zM206.05 184.57h1.11v8.15h-1.11zM208.26 184.57h1.11v8.15h-1.11zM221.57 184.57h1.11v8.15h-1.11zM117.36 192.72h1.11v8.15h-1.11zM149.51 192.72h1.11v8.15h-1.11zM156.16 192.72h1.11v8.15h-1.11zM181.66 192.72h1.11v8.15h-1.11zM184.98 192.72h1.11v8.15h-1.11zM193.85 192.72h1.11v8.15h-1.11zM201.61 192.72h2.22v8.15h-2.22zM206.05 192.72h2.22v8.15h-2.22zM165.03 200.88h1.11v8.15h-1.11zM167.25 200.88h1.11v8.15h-1.11zM170.57 200.88h1.11v8.15h-1.11zM184.98 200.88h1.11v8.15h-1.11zM212.70 200.88h1.11v8.15h-1.11zM222.67 200.88h1.11v8.15h-1.11zM116.25 209.03h1.11v8.15h-1.11zM135.10 209.03h1.11v8.15h-1.11zM138.42 209.03h1.11v8.15h-1.11zM156.16 209.03h1.11v8.15h-1.11zM163.92 209.03h1.11v8.15h-1.11zM179.44 209.03h1.11v8.15h-1.11zM194.96 209.03h1.11v8.15h-1.11zM212.70 209.03h2.22v8.15h-2.22zM127.34 217.19h1.11v8.15h-1.11zM149.51 217.19h1.11v8.15h-1.11zM157.27 217.19h2.22v8.15h-2.22zM187.20 217.19h2.22v8.15h-2.22zM197.18 217.19h1.11v8.15h-1.11zM204.94 217.19h2.22v8.15h-2.22zM211.59 217.19h1.11v8.15h-1.11zM214.91 217.19h1.11v8.15h-1.11zM115.14 225.34h1.11v8.15h-1.11zM173.90 225.34h1.11v8.15h-1.11zM176.11 225.34h1.11v8.15h-1.11zM187.20 225.34h1.11v8.15h-1.11zM204.94 225.34h1.11v8.15h-1.11zM211.59 225.34h2.22v8.15h-2.22zM220.46 225.34h1.11v8.15h-1.11z"/><path fill="#e97056" d="M48.63 70.40h1.11v8.15h-1.11zM58.61 70.40h1.11v8.15h-1.11zM68.58 70.40h1.11v8.15h-1.11zM78.56 70.40h1.11v8.15h-1.11zM35.33 78.56h1.11v8.15h-1.11zM47.52 78.56h1.11v8.15h-1.11zM77.45 78.56h1.11v8.15h-1.11zM36.43 86.71h1.11v8.15h-1.11zM44.19 86.71h3.33v8.15h-3.33zM48.63 86.71h1.11v8.15h-1.11zM56.39 86.71h1.11v8.15h-1.11zM68.58 86.71h1.11v8.15h-1.11zM77.45 86.71h1.11v8.15h-1.11zM40.87 94.87h1.11v8.15h-1.11zM58.61 94.87h1.11v8.15h-1.11zM37.54 103.02h1.11v8.15h-1.11zM44.19 103.02h1.11v8.15h-1.11zM70.80 103.02h1.11v8.15h-1.11zM78.56 103.02h1.11v8.15h-1.11zM81.89 103.02h1.11v8.15h-1.11zM34.22 111.18h1.11v8.15h-1.11zM40.87 111.18h1.11v8.15h-1.11zM71.91 111.18h1.11v8.15h-1.11zM75.23 111.18h1.11v8.15h-1.11zM87.43 111.18h1.11v8.15h-1.11zM43.09 119.33h1.11v8.15h-1.11zM45.30 119.33h2.22v8.15h-2.22zM60.82 119.33h1.11v8.15h-1.11zM78.56 119.33h1.11v8.15h-1.11zM91.86 119.33h1.11v8.15h-1.11zM118.47 119.33h1.11v8.15h-1.11zM120.69 119.33h1.11v8.15h-1.11zM36.43 127.48h1.11v8.15h-1.11zM59.71 127.48h1.11v8.15h-1.11zM66.37 127.48h1.11v8.15h-1.11zM68.58 127.48h1.11v8.15h-1.11zM79.67 127.48h1.11v8.15h-1.11zM97.41 127.48h1.11v8.15h-1.11zM125.12 127.48h1.11v8.15h-1.11zM143.97 127.48h1.11v8.15h-1.11zM32.00 135.64h3.33v8.15h-3.33zM39.76 135.64h1.11v8.15h-1.11zM46.41 135.64h1.11v8.15h-1.11zM57.50 135.64h1.11v8.15h-1.11zM75.23 135.64h1.11v8.15h-1.11zM92.97 135.64h1.11v8.15h-1.11zM46.41 143.80h1.11v8.15h-1.11zM49.74 143.80h1.11v8.15h-1.11zM90.75 143.80h1.11v8.15h-1.11zM117.36 143.80h2.22v8.15h-2.22zM176.11 151.95h1.11v8.15h-1.11zM181.66 151.95h1.11v8.15h-1.11zM191.63 151.95h1.11v8.15h-1.11zM204.94 151.95h1.11v8.15h-1.11zM207.15 151.95h1.11v8.15h-1.11zM101.84 160.11h1.11v8.15h-1.11zM145.07 160.11h1.11v8.15h-1.11zM184.98 160.11h1.11v8.15h-1.11zM212.70 160.11h1.11v8.15h-1.11zM220.46 160.11h1.11v8.15h-1.11zM182.77 168.26h2.22v8.15h-2.22zM186.09 168.26h1.11v8.15h-1.11zM196.07 168.26h1.11v8.15h-1.11zM199.39 168.26h1.11v8.15h-1.11zM202.72 168.26h1.11v8.15h-1.11zM220.46 168.26h1.11v8.15h-1.11zM151.73 176.41h1.11v8.15h-1.11zM161.70 176.41h1.11v8.15h-1.11zM176.11 176.41h1.11v8.15h-1.11zM178.33 176.41h1.11v8.15h-1.11zM198.29 176.41h1.11v8.15h-1.11zM161.70 184.57h1.11v8.15h-1.11zM191.63 184.57h2.22v8.15h-2.22zM218.24 184.57h1.11v8.15h-1.11zM145.07 192.72h1.11v8.15h-1.11zM150.62 192.72h1.11v8.15h-1.11zM155.05 192.72h1.11v8.15h-1.11zM168.35 192.72h1.11v8.15h-1.11zM182.77 192.72h2.22v8.15h-2.22zM186.09 192.72h1.11v8.15h-1.11zM192.74 192.72h1.11v8.15h-1.11zM196.07 192.72h1.11v8.15h-1.11zM203.83 192.72h1.11v8.15h-1.11zM135.10 200.88h1.11v8.15h-1.11zM163.92 200.88h1.11v8.15h-1.11zM178.33 200.88h1.11v8.15h-1.11zM203.83 200.88h1.11v8.15h-1.11zM208.26 200.88h1.11v8.15h-1.11zM219.35 200.88h1.11v8.15h-1.11zM182.77 209.03h1.11v8.15h-1.11zM190.53 209.03h1.11v8.15h-1.11zM197.18 209.03h1.11v8.15h-1.11zM201.61 209.03h1.11v8.15h-1.11zM207.15 209.03h1.11v8.15h-1.11zM209.37 209.03h1.11v8.15h-1.11zM211.59 209.03h1.11v8.15h-1.11zM217.13 209.03h1.11v8.15h-1.11zM220.46 209.03h1.11v8.15h-1.11zM224.89 209.03h1.11v8.15h-1.11zM172.79 217.19h1.11v8.15h-1.11zM202.72 217.19h1.11v8.15h-1.11zM141.75 225.34h1.11v8.15h-1.11zM163.92 225.34h1.11v8.15h-1.11zM183.87 225.34h1.11v8.15h-1.11zM191.63 225.34h1.11v8.15h-1.11zM206.05 225.34h1.11v8.15h-1.11zM218.24 225.34h1.11v8.15h-1.11zM224.89 225.34h1.11v8.15h-1.11z"/><path fill="#e55f47" d="M81.89 70.40h1.11v8.15h-1.11zM64.15 78.56h1.11v8.15h-1.11zM34.22 86.71h1.11v8.15h-1.11zM65.26 86.71h1.11v8.15h-1.11zM71.91 86.71h1.11v8.15h-1.11zM87.43 86.71h1.11v8.15h-1.11zM38.65 94.87h1.11v8.15h-1.11zM48.63 94.87h1.11v8.15h-1.11zM60.82 94.87h1.11v8.15h-1.11zM92.97 94.87h1.11v8.15h-1.11zM32.00 103.02h1.11v8.15h-1.11zM38.65 103.02h1.11v8.15h-1.11zM40.87 103.02h1.11v8.15h-1.11zM47.52 103.02h1.11v8.15h-1.11zM55.28 103.02h1.11v8.15h-1.11zM61.93 103.02h1.11v8.15h-1.11zM43.09 111.18h1.11v8.15h-1.11zM54.17 111.18h1.11v8.15h-1.11zM56.39 111.18h1.11v8.15h-1.11zM65.26 111.18h2.22v8.15h-2.22zM69.69 111.18h1.11v8.15h-1.11zM86.32 111.18h1.11v8.15h-1.11zM91.86 111.18h1.11v8.15h-1.11zM94.08 111.18h1.11v8.15h-1.11zM39.76 127.48h1.11v8.15h-1.11zM48.63 127.48h1.11v8.15h-1.11zM54.17 127.48h1.11v8.15h-1.11zM61.93 127.48h1.11v8.15h-1.11zM76.34 127.48h1.11v8.15h-1.11zM36.43 135.64h1.11v8.15h-1.11zM51.95 135.64h1.11v8.15h-1.11zM65.26 135.64h1.11v8.15h-1.11zM80.78 135.64h1.11v8.15h-1.11zM88.54 135.64h1.11v8.15h-1.11zM105.17 135.64h1.11v8.15h-1.11zM48.63 143.80h1.11v8.15h-1.11zM210.48 151.95h1.11v8.15h-1.11zM217.13 151.95h2.22v8.15h-2.22zM224.89 151.95h1.11v8.15h-1.11zM190.53 160.11h1.11v8.15h-1.11zM208.26 160.11h1.11v8.15h-1.11zM207.15 168.26h1.11v8.15h-1.11zM182.77 176.41h1.11v8.15h-1.11zM204.94 176.41h1.11v8.15h-1.11zM211.59 176.41h1.11v8.15h-1.11zM216.02 176.41h1.11v8.15h-1.11zM221.57 176.41h1.11v8.15h-1.11zM138.42 184.57h1.11v8.15h-1.11zM204.94 184.57h1.11v8.15h-1.11zM187.20 192.72h2.22v8.15h-2.22zM190.53 192.72h1.11v8.15h-1.11zM198.29 192.72h1.11v8.15h-1.11zM208.26 192.72h1.11v8.15h-1.11zM210.48 192.72h1.11v8.15h-1.11zM202.72 200.88h1.11v8.15h-1.11zM206.05 200.88h1.11v8.15h-1.11zM217.13 200.88h1.11v8.15h-1.11zM223.78 200.88h1.11v8.15h-1.11zM193.85 209.03h1.11v8.15h-1.11zM198.29 209.03h1.11v8.15h-1.11zM219.35 209.03h1.11v8.15h-1.11zM182.77 217.19h2.22v8.15h-2.22zM190.53 217.19h2.22v8.15h-2.22zM198.29 217.19h1.11v8.15h-1.11zM212.70 217.19h2.22v8.15h-2.22zM221.57 217.19h1.11v8.15h-1.11zM168.35 225.34h1.11v8.15h-1.11zM201.61 225.34h1.11v8.15h-1.11zM221.57 225.34h1.11v8.15h-1.11z"/><path fill="#e24f37" d="M33.11 70.40h1.11v8.15h-1.11zM40.87 70.40h1.11v8.15h-1.11zM33.11 78.56h1.11v8.15h-1.11zM32.00 86.71h1.11v8.15h-1.11zM40.87 86.71h1.11v8.15h-1.11zM64.15 86.71h1.11v8.15h-1.11zM48.63 103.02h1.11v8.15h-1.11zM65.26 103.02h1.11v8.15h-1.11zM59.71 111.18h1.11v8.15h-1.11zM38.65 119.33h1.11v8.15h-1.11zM53.06 119.33h1.11v8.15h-1.11zM64.15 119.33h1.11v8.15h-1.11zM92.97 119.33h1.11v8.15h-1.11zM33.11 127.48h1.11v8.15h-1.11zM64.15 127.48h1.11v8.15h-1.11zM74.13 127.48h2.22v8.15h-2.22zM78.56 127.48h1.11v8.15h-1.11zM82.99 127.48h1.11v8.15h-1.11zM35.33 143.80h1.11v8.15h-1.11zM80.78 143.80h1.11v8.15h-1.11zM84.10 143.80h1.11v8.15h-1.11zM163.92 151.95h1.11v8.15h-1.11zM193.85 160.11h2.22v8.15h-2.22zM199.39 160.11h1.11v8.15h-1.11zM204.94 160.11h1.11v8.15h-1.11zM223.78 160.11h1.11v8.15h-1.11zM181.66 168.26h1.11v8.15h-1.11zM208.26 168.26h1.11v8.15h-1.11zM210.48 168.26h1.11v8.15h-1.11zM213.81 168.26h1.11v8.15h-1.11zM217.13 168.26h1.11v8.15h-1.11zM223.78 168.26h1.11v8.15h-1.11zM190.53 184.57h1.11v8.15h-1.11zM199.39 184.57h1.11v8.15h-1.11zM223.78 184.57h1.11v8.15h-1.11zM179.44 192.72h1.11v8.15h-1.11zM204.94 192.72h1.11v8.15h-1.11zM166.14 209.03h1.11v8.15h-1.11zM181.66 209.03h1.11v8.15h-1.11zM199.39 209.03h1.11v8.15h-1.11zM223.78 209.03h1.11v8.15h-1.11zM131.77 217.19h1.11v8.15h-1.11zM135.10 217.19h1.11v8.15h-1.11zM210.48 217.19h1.11v8.15h-1.11zM220.46 217.19h1.11v8.15h-1.11zM222.67 217.19h1.11v8.15h-1.11zM186.09 225.34h1.11v8.15h-1.11zM222.67 225.34h2.22v8.15h-2.22z"/><path fill="#de3e28" d="M39.76 70.40h1.11v8.15h-1.11zM43.09 70.40h1.11v8.15h-1.11zM32.00 78.56h1.11v8.15h-1.11zM34.22 78.56h1.11v8.15h-1.11zM33.11 86.71h1.11v8.15h-1.11zM38.65 86.71h1.11v8.15h-1.11zM41.98 86.71h1.11v8.15h-1.11zM53.06 86.71h2.22v8.15h-2.22zM58.61 86.71h1.11v8.15h-1.11zM75.23 86.71h1.11v8.15h-1.11zM81.89 86.71h1.11v8.15h-1.11zM118.47 86.71h1.11v8.15h-1.11zM41.98 94.87h1.11v8.15h-1.11zM44.19 94.87h1.11v8.15h-1.11zM55.28 94.87h1.11v8.15h-1.11zM68.58 94.87h1.11v8.15h-1.11zM53.06 103.02h1.11v8.15h-1.11zM58.61 103.02h1.11v8.15h-1.11zM94.08 103.02h1.11v8.15h-1.11zM33.11 119.33h1.11v8.15h-1.11zM40.87 119.33h1.11v8.15h-1.11zM55.28 119.33h1.11v8.15h-1.11zM61.93 119.33h2.22v8.15h-2.22zM81.89 119.33h1.11v8.15h-1.11zM34.22 127.48h2.22v8.15h-2.22zM40.87 127.48h2.22v8.15h-2.22zM44.19 127.48h1.11v8.15h-1.11zM60.82 127.48h1.11v8.15h-1.11zM71.91 127.48h1.11v8.15h-1.11zM90.75 127.48h1.11v8.15h-1.11zM94.08 127.48h1.11v8.15h-1.11zM38.65 135.64h1.11v8.15h-1.11zM43.09 135.64h1.11v8.15h-1.11zM54.17 135.64h3.33v8.15h-3.33zM77.45 135.64h1.11v8.15h-1.11zM109.60 135.64h1.11v8.15h-1.11zM32.00 143.80h2.22v8.15h-2.22zM43.09 143.80h1.11v8.15h-1.11zM161.70 151.95h1.11v8.15h-1.11zM221.57 151.95h1.11v8.15h-1.11zM223.78 151.95h1.11v8.15h-1.11zM151.73 160.11h1.11v8.15h-1.11zM163.92 160.11h1.11v8.15h-1.11zM177.22 160.11h1.11v8.15h-1.11zM206.05 160.11h2.22v8.15h-2.22zM217.13 160.11h1.11v8.15h-1.11zM219.35 160.11h1.11v8.15h-1.11zM221.57 160.11h1.11v8.15h-1.11zM190.53 168.26h1.11v8.15h-1.11zM203.83 168.26h1.11v8.15h-1.11zM216.02 168.26h1.11v8.15h-1.11zM218.24 168.26h1.11v8.15h-1.11zM221.57 168.26h1.11v8.15h-1.11zM190.53 176.41h2.22v8.15h-2.22zM202.72 176.41h1.11v8.15h-1.11zM206.05 176.41h1.11v8.15h-1.11zM208.26 176.41h1.11v8.15h-1.11zM222.67 176.41h2.22v8.15h-2.22zM207.15 184.57h1.11v8.15h-1.11zM210.48 184.57h1.11v8.15h-1.11zM216.02 184.57h1.11v8.15h-1.11zM151.73 192.72h1.11v8.15h-1.11zM161.70 192.72h1.11v8.15h-1.11zM176.11 192.72h1.11v8.15h-1.11zM197.18 192.72h1.11v8.15h-1.11zM218.24 192.72h1.11v8.15h-1.11zM221.57 192.72h1.11v8.15h-1.11zM223.78 192.72h1.11v8.15h-1.11zM190.53 200.88h1.11v8.15h-1.11zM204.94 200.88h1.11v8.15h-1.11zM207.15 200.88h1.11v8.15h-1.11zM211.59 200.88h1.11v8.15h-1.11zM216.02 200.88h1.11v8.15h-1.11zM220.46 200.88h2.22v8.15h-2.22zM147.29 209.03h1.11v8.15h-1.11zM175.01 209.03h1.11v8.15h-1.11zM183.87 209.03h1.11v8.15h-1.11zM196.07 209.03h1.11v8.15h-1.11zM204.94 209.03h2.22v8.15h-2.22zM208.26 209.03h1.11v8.15h-1.11zM218.24 209.03h1.11v8.15h-1.11zM221.57 209.03h1.11v8.15h-1.11zM184.98 217.19h1.11v8.15h-1.11zM192.74 217.19h1.11v8.15h-1.11zM207.15 217.19h2.22v8.15h-2.22zM216.02 217.19h1.11v8.15h-1.11zM219.35 217.19h1.11v8.15h-1.11zM223.78 217.19h1.11v8.15h-1.11zM190.53 225.34h1.11v8.15h-1.11zM193.85 225.34h1.11v8.15h-1.11zM210.48 225.34h1.11v8.15h-1.11zM216.02 225.34h1.11v8.15h-1.11z"/></g><rect x="32" y="54.3" width="98.30000000000001" height="6.7" fill="#2ba3dd"/><rect x="130.3" y="54.3" width="95.69999999999999" height="6.7" fill="#f6b800"/><rect x="32" y="61.0" width="98.30000000000001" height="1.0" fill="#6cc6f0"/><rect x="130.3" y="61.0" width="95.69999999999999" height="1.0" fill="#fbd040"/><rect x="32" y="62.0" width="105.5" height="6.8" fill="#2ba3dd"/><rect x="137.5" y="62.0" width="88.5" height="6.8" fill="#f6b800"/><rect x="84.80" y="62.0" width="1.2" height="6.8" fill="#80c8c8"/><rect x="110.90" y="62.0" width="1.2" height="6.8" fill="#62bce0"/><rect x="113.50" y="62.0" width="1" height="6.8" fill="#58b8e4"/><rect x="117.50" y="62.0" width="1" height="6.8" fill="#5cbce4"/><rect x="120.00" y="62.0" width="1.6" height="6.8" fill="#9cc890"/><rect x="122.50" y="62.0" width="1" height="6.8" fill="#88c4a8"/><rect x="125.30" y="62.0" width="1.4" height="6.8" fill="#c0c458"/><rect x="128.70" y="62.0" width="1.8" height="6.8" fill="#a8c470"/><rect x="132.90" y="62.0" width="1.2" height="6.8" fill="#48b0d8"/><rect x="135.40" y="62.0" width="1.6" height="6.8" fill="#c4c058"/><rect x="138.90" y="62.0" width="1.4" height="6.8" fill="#a8b878"/><rect x="149.00" y="62.0" width="1.2" height="6.8" fill="#d0b848"/><rect x="162.00" y="62.0" width="1.4" height="6.8" fill="#b8a880"/><polyline fill="none" stroke="#2f3640" stroke-width="1.8" stroke-linejoin="round" points="32,52.0 82,51.8 102,50.8 114.6,49.6 116.5,48.6 117.7,47.6 121,46.2 123,44.8 125.5,43.6 127,41.5 129,40.4 130.8,38.5 132.5,37.6 134.6,35.8 137,34.4 140.8,31.2 144,29.0 147,27.6 150,27.0 155,26.6 170,26.0 226,25.6"/><path fill="none" stroke="#333" stroke-width="1.1" d="M31.5 25.2H226.3V52.2"/><path fill="none" stroke="#333" stroke-width="1.4" d="M31.5 24.7V52.2H226.3"/><path stroke="#333" stroke-width="0.9" d="M28.5 26.0H31.5"/><path stroke="#333" stroke-width="0.9" d="M28.5 39.0H31.5"/><path stroke="#333" stroke-width="0.9" d="M28.5 52.0H31.5"/><defs><linearGradient id="zg" x1="0" y1="0" x2="0" y2="1"><stop offset="0" stop-color="#c8281e"/><stop offset="0.22" stop-color="#f06c48"/><stop offset="0.5" stop-color="#f6f0f0"/><stop offset="0.75" stop-color="#8e7cc8"/><stop offset="1" stop-color="#2e1a7a"/></linearGradient></defs><rect x="270.2" y="118.9" width="5.7" height="28.3" fill="url(#zg)"/><rect x="90" y="240" width="5" height="4.8" fill="#2ba3dd"/><rect x="131.5" y="240" width="4.8" height="4.8" fill="#f6b800"/><path fill="none" stroke="#222" stroke-width="1.2" d="M354.4 38.5V140H509.4"/><path stroke="#222" stroke-width="0.9" d="M351.3 42.90H354.4"/><path stroke="#222" stroke-width="0.9" d="M351.3 65.80H354.4"/><path stroke="#222" stroke-width="0.9" d="M351.3 88.70H354.4"/><path stroke="#222" stroke-width="0.9" d="M351.3 111.60H354.4"/><path stroke="#222" stroke-width="0.9" d="M351.3 134.50H354.4"/><path stroke="#222" stroke-width="0.9" d="M361.20 140V142.8"/><path stroke="#222" stroke-width="0.9" d="M381.28 140V142.8"/><path stroke="#222" stroke-width="0.9" d="M401.36 140V142.8"/><path stroke="#222" stroke-width="0.9" d="M421.44 140V142.8"/><path stroke="#222" stroke-width="0.9" d="M441.52 140V142.8"/><path fill="none" stroke="#f7d27a" stroke-width="1.2" stroke-dasharray="2 0.8" d="M360.80 43.00H362.53V43.33H364.27V43.67H366.00V44.00H368.00V45.14H370.00V46.29H372.00V47.43H374.00V48.57H376.00V49.71H378.00V50.86H380.00V52.00H382.00V53.20H384.00V54.40H386.00V55.60H388.00V56.80H390.00V58.00H391.82V58.83H393.65V59.65H395.48V60.47H397.30V61.30H400.20V65.20H402.10V66.40H404.00V67.60H406.40V68.80H408.80V70.00H411.25V70.70H413.70V71.40H416.10V72.60H418.50V73.80H421.00V76.70H422.92V76.77H424.83V76.83H426.75V76.90H428.67V76.97H430.58V77.03H432.50V77.10H434.42V77.17H436.33V77.23H438.25V77.30H440.17V77.37H442.08V77.43H444.00V77.50"/><path fill="none" stroke="#f3bf3a" stroke-width="1.2" d="M360.80 43.00H362.53V43.17H364.27V43.33H366.00V43.50H368.00V46.75H370.00V50.00H372.10V51.53H374.20V53.07H376.30V54.60H377.00V61.00H380.00V62.30H382.40V64.25H384.80V66.20H387.20V68.10H389.60V70.00H391.55V72.90H393.50V75.80H396.30V79.60H398.53V80.73H400.77V81.87H403.00V83.00H405.50V84.50H408.00V86.00H409.93V87.50H411.87V89.00H413.80V90.50H415.90V91.50H418.00V92.50H434.00V92.50H435.50V98.00H440.00V98.00"/><path fill="none" stroke="#3cb4ea" stroke-width="1.2" stroke-dasharray="2 0.8" d="M360.80 43.00H362.53V43.17H364.27V43.33H366.00V43.50H368.00V44.64H370.00V45.79H372.00V46.93H374.00V48.07H376.00V49.21H378.00V50.36H380.00V51.50H382.00V52.70H384.00V53.90H386.00V55.10H388.00V56.30H390.00V57.50H391.75V58.45H393.50V59.40H395.25V60.35H397.00V61.30H399.00V62.10H401.00V62.90H403.00V63.70H405.00V64.50H406.75V65.38H408.50V66.25H410.25V67.12H412.00V68.00H414.00V69.17H416.00V70.33H418.00V71.50H420.00V72.50H422.00V73.50H424.06V73.56H426.11V73.61H428.17V73.67H430.22V73.72H432.28V73.78H434.33V73.83H436.39V73.89H438.44V73.94H440.50V74.00H440.50V94.80H446.00V94.80"/><path fill="none" stroke="#2a8ed6" stroke-width="1.2" d="M360.80 43.00H366.00V43.00H368.00V44.00H370.00V45.00H372.00V46.00H374.00V47.00H376.00V48.00H378.00V49.00H380.00V50.00H382.50V53.25H385.00V56.50H386.88V57.62H388.75V58.75H390.62V59.88H392.50V61.00H394.67V61.77H396.83V62.53H399.00V63.30H400.83V63.45H402.67V63.60H404.50V63.75H406.33V63.90H408.17V64.05H410.00V64.20H412.70V65.70H414.63V66.00H416.57V66.30H418.50V66.60H420.00V69.00H421.30V72.00H423.00V74.00H424.94V74.02H426.89V74.04H428.83V74.07H430.78V74.09H432.72V74.11H434.67V74.13H436.61V74.16H438.56V74.18H440.50V74.20"/><path stroke="#2a8ed6" stroke-width="0.7" d="M424 73V75.5"/><path stroke="#2a8ed6" stroke-width="0.7" d="M428 73V75.5"/><path stroke="#2a8ed6" stroke-width="0.7" d="M431 73V75.5"/><path stroke="#2a8ed6" stroke-width="0.7" d="M434 73V75.5"/><path stroke="#2a8ed6" stroke-width="0.7" d="M437 73V75.5"/><path stroke="#2a8ed6" stroke-width="0.7" d="M440 73V75.5"/><path stroke="#f7d27a" stroke-width="0.7" d="M422 76.3V78.8"/><path stroke="#f7d27a" stroke-width="0.7" d="M425 76.3V78.8"/><path stroke="#f7d27a" stroke-width="0.7" d="M429 76.3V78.8"/><path stroke="#f7d27a" stroke-width="0.7" d="M432 76.3V78.8"/><path stroke="#f7d27a" stroke-width="0.7" d="M436 76.3V78.8"/><path stroke="#f7d27a" stroke-width="0.7" d="M439 76.3V78.8"/><path stroke="#f7d27a" stroke-width="0.7" d="M442 76.3V78.8"/><path stroke="#f3bf3a" stroke-width="0.7" d="M416 91.3V93.7"/><path stroke="#f3bf3a" stroke-width="0.7" d="M420 91.3V93.7"/><path stroke="#f3bf3a" stroke-width="0.7" d="M424 91.3V93.7"/><path stroke="#f3bf3a" stroke-width="0.7" d="M428 91.3V93.7"/><path stroke="#f3bf3a" stroke-width="0.7" d="M431 91.3V93.7"/><path stroke="#f3bf3a" stroke-width="0.7" d="M437.5 96.8V99.2"/><path stroke="#3cb4ea" stroke-width="0.7" d="M443 93.6V96"/><path stroke="#3cb4ea" stroke-width="0.7" d="M445 93.6V96"/><path stroke="#2a8ed6" stroke-width="1.2" d="M363 113.3H371.6"/><path stroke="#f3bf3a" stroke-width="1.2" d="M363 123.6H371.6"/><path stroke="#3cb4ea" stroke-width="1.2" stroke-dasharray="1.5 1" d="M446 113.5H455.6"/><path stroke="#f7d27a" stroke-width="1.2" stroke-dasharray="1.5 1" d="M446 123.6H455.6"/><path fill="none" stroke="#222" stroke-width="1.2" d="M354.4 171.2V224.3H509.4"/><path stroke="#222" stroke-width="0.9" d="M351.3 176.2H354.4"/><path stroke="#222" stroke-width="0.9" d="M351.3 190.4H354.4"/><path stroke="#222" stroke-width="0.9" d="M351.3 205.2H354.4"/><path stroke="#222" stroke-width="0.9" d="M351.3 219.3H354.4"/><path stroke="#222" stroke-width="0.9" d="M361.20 224.3V227"/><path stroke="#222" stroke-width="0.9" d="M381.28 224.3V227"/><path stroke="#222" stroke-width="0.9" d="M401.36 224.3V227"/><path stroke="#222" stroke-width="0.9" d="M421.44 224.3V227"/><path stroke="#222" stroke-width="0.9" d="M441.52 224.3V227"/><defs><clipPath id="cGG"><path d="M76.80,297.30 L79.75,297.30 L82.70,297.30 L85.65,297.29 L88.60,297.29 L91.55,297.28 L94.50,297.28 L97.45,297.26 L100.40,297.25 L103.35,297.22 L106.30,297.19 L109.25,297.14 L112.20,297.06 L115.15,296.96 L118.10,296.81 L121.05,296.60 L124.00,296.30 L126.95,295.89 L129.90,295.33 L132.85,294.57 L135.80,293.59 L138.75,292.36 L141.70,290.88 L144.65,289.20 L147.60,287.40 L150.55,285.60 L153.50,283.92 L156.45,282.44 L159.40,281.21 L162.35,280.23 L165.30,279.47 L168.25,278.91 L171.20,278.50 L174.15,278.20 L177.10,277.99 L180.05,277.84 L183.00,277.74 L185.95,277.66 L188.90,277.61 L191.85,277.58 L194.80,277.55 L197.75,277.54 L200.70,277.52 L203.65,277.52 L206.60,277.51 L209.55,277.51 L212.50,277.50 L215.45,277.50 L218.40,277.50 L218.40,323.70 L215.45,323.70 L212.50,323.70 L209.55,323.71 L206.60,323.71 L203.65,323.72 L200.70,323.72 L197.75,323.74 L194.80,323.75 L191.85,323.78 L188.90,323.81 L185.95,323.86 L183.00,323.94 L180.05,324.04 L177.10,324.19 L174.15,324.40 L171.20,324.70 L168.25,325.11 L165.30,325.67 L162.35,326.43 L159.40,327.41 L156.45,328.64 L153.50,330.12 L150.55,331.80 L147.60,333.60 L144.65,335.40 L141.70,337.08 L138.75,338.56 L135.80,339.79 L132.85,340.77 L129.90,341.53 L126.95,342.09 L124.00,342.50 L121.05,342.80 L118.10,343.01 L115.15,343.16 L112.20,343.26 L109.25,343.34 L106.30,343.39 L103.35,343.42 L100.40,343.45 L97.45,343.46 L94.50,343.48 L91.55,343.48 L88.60,343.49 L85.65,343.49 L82.70,343.50 L79.75,343.50 L76.80,343.50Z"/></clipPath><clipPath id="cMM"><path d="M76.80,362.40 L79.75,362.40 L82.70,362.40 L85.65,362.41 L88.60,362.41 L91.55,362.41 L94.50,362.42 L97.45,362.43 L100.40,362.45 L103.35,362.47 L106.30,362.50 L109.25,362.54 L112.20,362.60 L115.15,362.69 L118.10,362.82 L121.05,363.00 L124.00,363.26 L126.95,363.61 L129.90,364.09 L132.85,364.74 L135.80,365.59 L138.75,366.64 L141.70,367.91 L144.65,369.36 L147.60,370.90 L150.55,372.44 L153.50,373.89 L156.45,375.16 L159.40,376.21 L162.35,377.06 L165.30,377.71 L168.25,378.19 L171.20,378.54 L174.15,378.80 L177.10,378.98 L180.05,379.11 L183.00,379.20 L185.95,379.26 L188.90,379.30 L191.85,379.33 L194.80,379.35 L197.75,379.37 L200.70,379.38 L203.65,379.39 L206.60,379.39 L209.55,379.39 L212.50,379.40 L215.45,379.40 L218.40,379.40 L218.40,444.00 L215.45,444.00 L212.50,444.00 L209.55,443.99 L206.60,443.99 L203.65,443.99 L200.70,443.98 L197.75,443.97 L194.80,443.95 L191.85,443.93 L188.90,443.90 L185.95,443.85 L183.00,443.78 L180.05,443.69 L177.10,443.55 L174.15,443.36 L171.20,443.09 L168.25,442.72 L165.30,442.21 L162.35,441.52 L159.40,440.63 L156.45,439.51 L153.50,438.16 L150.55,436.63 L147.60,435.00 L144.65,433.37 L141.70,431.84 L138.75,430.49 L135.80,429.37 L132.85,428.48 L129.90,427.79 L126.95,427.28 L124.00,426.91 L121.05,426.64 L118.10,426.45 L115.15,426.31 L112.20,426.22 L109.25,426.15 L106.30,426.10 L103.35,426.07 L100.40,426.05 L97.45,426.03 L94.50,426.02 L91.55,426.01 L88.60,426.01 L85.65,426.01 L82.70,426.00 L79.75,426.00 L76.80,426.00Z"/></clipPath></defs><g style="isolation:isolate"><path d="M76.80,297.30 L79.75,297.30 L82.70,297.30 L85.65,297.29 L88.60,297.29 L91.55,297.28 L94.50,297.28 L97.45,297.26 L100.40,297.25 L103.35,297.22 L106.30,297.19 L109.25,297.14 L112.20,297.06 L115.15,296.96 L118.10,296.81 L121.05,296.60 L124.00,296.30 L126.95,295.89 L129.90,295.33 L132.85,294.57 L135.80,293.59 L138.75,292.36 L141.70,290.88 L144.65,289.20 L147.60,287.40 L150.55,285.60 L153.50,283.92 L156.45,282.44 L159.40,281.21 L162.35,280.23 L165.30,279.47 L168.25,278.91 L171.20,278.50 L174.15,278.20 L177.10,277.99 L180.05,277.84 L183.00,277.74 L185.95,277.66 L188.90,277.61 L191.85,277.58 L194.80,277.55 L197.75,277.54 L200.70,277.52 L203.65,277.52 L206.60,277.51 L209.55,277.51 L212.50,277.50 L215.45,277.50 L218.40,277.50 L218.40,323.70 L215.45,323.70 L212.50,323.70 L209.55,323.71 L206.60,323.71 L203.65,323.72 L200.70,323.72 L197.75,323.74 L194.80,323.75 L191.85,323.78 L188.90,323.81 L185.95,323.86 L183.00,323.94 L180.05,324.04 L177.10,324.19 L174.15,324.40 L171.20,324.70 L168.25,325.11 L165.30,325.67 L162.35,326.43 L159.40,327.41 L156.45,328.64 L153.50,330.12 L150.55,331.80 L147.60,333.60 L144.65,335.40 L141.70,337.08 L138.75,338.56 L135.80,339.79 L132.85,340.77 L129.90,341.53 L126.95,342.09 L124.00,342.50 L121.05,342.80 L118.10,343.01 L115.15,343.16 L112.20,343.26 L109.25,343.34 L106.30,343.39 L103.35,343.42 L100.40,343.45 L97.45,343.46 L94.50,343.48 L91.55,343.48 L88.60,343.49 L85.65,343.49 L82.70,343.50 L79.75,343.50 L76.80,343.50Z" fill="#80bde8"/><path d="M76.80,277.30 L79.75,277.31 L82.70,277.31 L85.65,277.32 L88.60,277.34 L91.55,277.37 L94.50,277.40 L97.45,277.45 L100.40,277.52 L103.35,277.62 L106.30,277.77 L109.25,277.98 L112.20,278.29 L115.15,278.72 L118.10,279.34 L121.05,280.22 L124.00,281.45 L126.95,283.16 L129.90,285.50 L132.85,288.64 L135.80,292.72 L138.75,297.85 L141.70,304.00 L144.65,310.99 L147.60,318.45 L150.55,325.91 L153.50,332.90 L156.45,339.05 L159.40,344.18 L162.35,348.26 L165.30,351.40 L168.25,353.74 L171.20,355.45 L174.15,356.68 L177.10,357.56 L180.05,358.18 L183.00,358.61 L185.95,358.92 L188.90,359.13 L191.85,359.28 L194.80,359.38 L197.75,359.45 L200.70,359.50 L203.65,359.53 L206.60,359.56 L209.55,359.58 L212.50,359.59 L215.45,359.59 L218.40,359.60 L218.40,379.40 L215.45,379.39 L212.50,379.39 L209.55,379.38 L206.60,379.36 L203.65,379.34 L200.70,379.30 L197.75,379.25 L194.80,379.18 L191.85,379.08 L188.90,378.93 L185.95,378.72 L183.00,378.42 L180.05,377.98 L177.10,377.37 L174.15,376.49 L171.20,375.26 L168.25,373.56 L165.30,371.22 L162.35,368.09 L159.40,364.02 L156.45,358.90 L153.50,352.77 L150.55,345.79 L147.60,338.35 L144.65,330.91 L141.70,323.93 L138.75,317.80 L135.80,312.68 L132.85,308.61 L129.90,305.48 L126.95,303.14 L124.00,301.44 L121.05,300.21 L118.10,299.33 L115.15,298.72 L112.20,298.28 L109.25,297.98 L106.30,297.77 L103.35,297.62 L100.40,297.52 L97.45,297.45 L94.50,297.40 L91.55,297.36 L88.60,297.34 L85.65,297.32 L82.70,297.31 L79.75,297.31 L76.80,297.30Z" fill="#80bde8"/><path d="M76.80,277.30 L79.75,277.31 L82.70,277.31 L85.65,277.32 L88.60,277.34 L91.55,277.37 L94.50,277.40 L97.45,277.45 L100.40,277.52 L103.35,277.62 L106.30,277.77 L109.25,277.98 L112.20,278.29 L115.15,278.72 L118.10,279.34 L121.05,280.22 L124.00,281.45 L126.95,283.16 L129.90,285.50 L132.85,288.64 L135.80,292.72 L138.75,297.85 L141.70,304.00 L144.65,310.99 L147.60,318.45 L150.55,325.91 L153.50,332.90 L156.45,339.05 L159.40,344.18 L162.35,348.26 L165.30,351.40 L168.25,353.74 L171.20,355.45 L174.15,356.68 L177.10,357.56 L180.05,358.18 L183.00,358.61 L185.95,358.92 L188.90,359.13 L191.85,359.28 L194.80,359.38 L197.75,359.45 L200.70,359.50 L203.65,359.53 L206.60,359.56 L209.55,359.58 L212.50,359.59 L215.45,359.59 L218.40,359.60 L218.40,379.40 L215.45,379.39 L212.50,379.39 L209.55,379.38 L206.60,379.36 L203.65,379.34 L200.70,379.30 L197.75,379.25 L194.80,379.18 L191.85,379.08 L188.90,378.93 L185.95,378.72 L183.00,378.42 L180.05,377.98 L177.10,377.37 L174.15,376.49 L171.20,375.26 L168.25,373.56 L165.30,371.22 L162.35,368.09 L159.40,364.02 L156.45,358.90 L153.50,352.77 L150.55,345.79 L147.60,338.35 L144.65,330.91 L141.70,323.93 L138.75,317.80 L135.80,312.68 L132.85,308.61 L129.90,305.48 L126.95,303.14 L124.00,301.44 L121.05,300.21 L118.10,299.33 L115.15,298.72 L112.20,298.28 L109.25,297.98 L106.30,297.77 L103.35,297.62 L100.40,297.52 L97.45,297.45 L94.50,297.40 L91.55,297.36 L88.60,297.34 L85.65,297.32 L82.70,297.31 L79.75,297.31 L76.80,297.30Z" fill="#2f9ad8" clip-path="url(#cGG)"/><path d="M76.80,362.40 L79.75,362.40 L82.70,362.40 L85.65,362.41 L88.60,362.41 L91.55,362.41 L94.50,362.42 L97.45,362.43 L100.40,362.45 L103.35,362.47 L106.30,362.50 L109.25,362.54 L112.20,362.60 L115.15,362.69 L118.10,362.82 L121.05,363.00 L124.00,363.26 L126.95,363.61 L129.90,364.09 L132.85,364.74 L135.80,365.59 L138.75,366.64 L141.70,367.91 L144.65,369.36 L147.60,370.90 L150.55,372.44 L153.50,373.89 L156.45,375.16 L159.40,376.21 L162.35,377.06 L165.30,377.71 L168.25,378.19 L171.20,378.54 L174.15,378.80 L177.10,378.98 L180.05,379.11 L183.00,379.20 L185.95,379.26 L188.90,379.30 L191.85,379.33 L194.80,379.35 L197.75,379.37 L200.70,379.38 L203.65,379.39 L206.60,379.39 L209.55,379.39 L212.50,379.40 L215.45,379.40 L218.40,379.40 L218.40,444.00 L215.45,444.00 L212.50,444.00 L209.55,443.99 L206.60,443.99 L203.65,443.99 L200.70,443.98 L197.75,443.97 L194.80,443.95 L191.85,443.93 L188.90,443.90 L185.95,443.85 L183.00,443.78 L180.05,443.69 L177.10,443.55 L174.15,443.36 L171.20,443.09 L168.25,442.72 L165.30,442.21 L162.35,441.52 L159.40,440.63 L156.45,439.51 L153.50,438.16 L150.55,436.63 L147.60,435.00 L144.65,433.37 L141.70,431.84 L138.75,430.49 L135.80,429.37 L132.85,428.48 L129.90,427.79 L126.95,427.28 L124.00,426.91 L121.05,426.64 L118.10,426.45 L115.15,426.31 L112.20,426.22 L109.25,426.15 L106.30,426.10 L103.35,426.07 L100.40,426.05 L97.45,426.03 L94.50,426.02 L91.55,426.01 L88.60,426.01 L85.65,426.01 L82.70,426.00 L79.75,426.00 L76.80,426.00Z" fill="#f9c85a"/><path d="M76.80,426.00 L79.75,425.99 L82.70,425.98 L85.65,425.97 L88.60,425.95 L91.55,425.92 L94.50,425.88 L97.45,425.81 L100.40,425.73 L103.35,425.60 L106.30,425.42 L109.25,425.15 L112.20,424.77 L115.15,424.23 L118.10,423.46 L121.05,422.38 L124.00,420.84 L126.95,418.72 L129.90,415.81 L132.85,411.91 L135.80,406.83 L138.75,400.46 L141.70,392.81 L144.65,384.13 L147.60,374.85 L150.55,365.57 L153.50,356.89 L156.45,349.24 L159.40,342.87 L162.35,337.79 L165.30,333.89 L168.25,330.98 L171.20,328.86 L174.15,327.32 L177.10,326.24 L180.05,325.47 L183.00,324.93 L185.95,324.55 L188.90,324.28 L191.85,324.10 L194.80,323.97 L197.75,323.89 L200.70,323.82 L203.65,323.78 L206.60,323.75 L209.55,323.73 L212.50,323.72 L215.45,323.71 L218.40,323.70 L218.40,341.40 L215.45,341.41 L212.50,341.42 L209.55,341.43 L206.60,341.45 L203.65,341.48 L200.70,341.52 L197.75,341.58 L194.80,341.67 L191.85,341.80 L188.90,341.98 L185.95,342.25 L183.00,342.62 L180.05,343.16 L177.10,343.93 L174.15,345.01 L171.20,346.54 L168.25,348.66 L165.30,351.56 L162.35,355.45 L159.40,360.51 L156.45,366.87 L153.50,374.49 L150.55,383.15 L147.60,392.40 L144.65,401.65 L141.70,410.31 L138.75,417.93 L135.80,424.29 L132.85,429.35 L129.90,433.24 L126.95,436.14 L124.00,438.26 L121.05,439.79 L118.10,440.87 L115.15,441.64 L112.20,442.18 L109.25,442.55 L106.30,442.82 L103.35,443.00 L100.40,443.13 L97.45,443.22 L94.50,443.28 L91.55,443.32 L88.60,443.35 L85.65,443.37 L82.70,443.38 L79.75,443.39 L76.80,443.40Z" fill="#f9c85a" style="mix-blend-mode:multiply"/><path d="M76.80,426.00 L79.75,425.99 L82.70,425.98 L85.65,425.97 L88.60,425.95 L91.55,425.92 L94.50,425.88 L97.45,425.81 L100.40,425.73 L103.35,425.60 L106.30,425.42 L109.25,425.15 L112.20,424.77 L115.15,424.23 L118.10,423.46 L121.05,422.38 L124.00,420.84 L126.95,418.72 L129.90,415.81 L132.85,411.91 L135.80,406.83 L138.75,400.46 L141.70,392.81 L144.65,384.13 L147.60,374.85 L150.55,365.57 L153.50,356.89 L156.45,349.24 L159.40,342.87 L162.35,337.79 L165.30,333.89 L168.25,330.98 L171.20,328.86 L174.15,327.32 L177.10,326.24 L180.05,325.47 L183.00,324.93 L185.95,324.55 L188.90,324.28 L191.85,324.10 L194.80,323.97 L197.75,323.89 L200.70,323.82 L203.65,323.78 L206.60,323.75 L209.55,323.73 L212.50,323.72 L215.45,323.71 L218.40,323.70 L218.40,341.40 L215.45,341.41 L212.50,341.42 L209.55,341.43 L206.60,341.45 L203.65,341.48 L200.70,341.52 L197.75,341.58 L194.80,341.67 L191.85,341.80 L188.90,341.98 L185.95,342.25 L183.00,342.62 L180.05,343.16 L177.10,343.93 L174.15,345.01 L171.20,346.54 L168.25,348.66 L165.30,351.56 L162.35,355.45 L159.40,360.51 L156.45,366.87 L153.50,374.49 L150.55,383.15 L147.60,392.40 L144.65,401.65 L141.70,410.31 L138.75,417.93 L135.80,424.29 L132.85,429.35 L129.90,433.24 L126.95,436.14 L124.00,438.26 L121.05,439.79 L118.10,440.87 L115.15,441.64 L112.20,442.18 L109.25,442.55 L106.30,442.82 L103.35,443.00 L100.40,443.13 L97.45,443.22 L94.50,443.28 L91.55,443.32 L88.60,443.35 L85.65,443.37 L82.70,443.38 L79.75,443.39 L76.80,443.40Z" fill="#f5b400" clip-path="url(#cMM)"/></g><rect x="60.8" y="277.3" width="16" height="66.2" fill="#2a9fdc" stroke="#1f2a33" stroke-width="0.8"/><rect x="60.8" y="362.4" width="16" height="81" fill="#f5b800" stroke="#3a3020" stroke-width="0.8"/><rect x="218.6" y="277.5" width="16.6" height="63.9" fill="#2a9fdc" stroke="#1f2a33" stroke-width="0.8"/><rect x="218.6" y="359.6" width="16.6" height="84.4" fill="#f5b800" stroke="#3a3020" stroke-width="0.8"/><rect x="52" y="305" width="34" height="8.5" fill="#111"/><rect x="52.4" y="397.7" width="33.00000000000001" height="8.600000000000023" fill="#111"/><rect x="210" y="305.2" width="33.5" height="8.5" fill="#111"/><rect x="210" y="397.7" width="33" height="8.600000000000023" fill="#111"/><path fill="none" stroke="#222" stroke-width="1.2" d="M354.2 269V369.2H513"/><path stroke="#222" stroke-width="0.9" d="M351.1 273.30H354.2"/><path stroke="#222" stroke-width="0.9" d="M351.1 296.23H354.2"/><path stroke="#222" stroke-width="0.9" d="M351.1 319.15H354.2"/><path stroke="#222" stroke-width="0.9" d="M351.1 342.07H354.2"/><path stroke="#222" stroke-width="0.9" d="M351.1 365.00H354.2"/><path stroke="#222" stroke-width="0.9" d="M361.30 369.2V372"/><path stroke="#222" stroke-width="0.9" d="M413.20 369.2V372"/><path stroke="#222" stroke-width="0.9" d="M465.10 369.2V372"/><path fill="none" stroke="#f3b630" stroke-width="1.1" d="M362.30 273.30H364.07V275.63H365.83V277.97H367.60V280.30H368.70V286.10H370.30V289.30H371.90V292.50H374.00V296.25H376.10V300.00H378.25V302.10H380.40V304.20H382.55V305.55H384.70V306.90H386.47V307.07H388.23V307.23H390.00V307.40H391.93V308.30H393.87V309.20H395.80V310.10H397.77V311.00H399.73V311.90H401.70V312.80H403.67V313.87H405.63V314.93H407.60V316.00H410.30V317.90H412.44V318.18H414.58V318.46H416.72V318.74H418.86V319.02H421.00V319.30H422.92V319.62H424.84V319.94H426.76V320.26H428.68V320.58H430.60V320.90H432.73V321.17H434.85V321.45H436.98V321.73H439.10V322.00H441.80V324.60H443.80V324.75H445.80V324.90H447.80V325.05H449.80V325.20H451.75V326.60H453.70V328.00H455.60V329.00H457.50V330.00H483.80V330.00H484.20V337.10H505.00V337.10"/><path fill="none" stroke="#3a9fd8" stroke-width="1.1" d="M362.30 273.30H364.07V275.63H365.83V277.97H367.60V280.30H369.75V280.55H371.90V280.80H374.00V283.50H375.77V283.83H377.53V284.17H379.30V284.50H380.90V286.40H382.50V288.30H384.65V289.35H386.80V290.40H388.65V291.60H390.50V292.80H392.35V294.00H394.20V295.20H396.00V295.73H397.80V296.27H399.60V296.80H401.70V298.40H403.72V298.41H405.74V298.42H407.77V298.43H409.79V298.44H411.81V298.46H413.83V298.47H415.86V298.48H417.88V298.49H419.90V298.50H422.60V300.40H425.00V301.85H427.40V303.30H429.53V303.37H431.67V303.43H433.80V303.50H435.90V305.55H438.00V307.60H440.15V308.10H442.30V308.60H444.45V309.10H446.60V309.60H480.00V309.60H481.50V312.00H483.80V313.50H486.20V318.10H488.10V326.20H509.00V326.20"/><path stroke="#3a9fd8" stroke-width="0.7" d="M457.5 308.40000000000003V310.8"/><path stroke="#3a9fd8" stroke-width="0.7" d="M462 308.40000000000003V310.8"/><path stroke="#3a9fd8" stroke-width="0.7" d="M465 308.40000000000003V310.8"/><path stroke="#3a9fd8" stroke-width="0.7" d="M468 308.40000000000003V310.8"/><path stroke="#3a9fd8" stroke-width="0.7" d="M470 308.40000000000003V310.8"/><path stroke="#3a9fd8" stroke-width="0.7" d="M477.5 308.40000000000003V310.8"/><path stroke="#3a9fd8" stroke-width="0.7" d="M480.5 308.40000000000003V310.8"/><path stroke="#3a9fd8" stroke-width="0.7" d="M482.5 312.3V314.7"/><path stroke="#3a9fd8" stroke-width="0.7" d="M487.5 316.90000000000003V319.3"/><path stroke="#3a9fd8" stroke-width="0.7" d="M491 325.0V327.4"/><path stroke="#3a9fd8" stroke-width="0.7" d="M494 325.0V327.4"/><path stroke="#3a9fd8" stroke-width="0.7" d="M504 325.0V327.4"/><path stroke="#3a9fd8" stroke-width="0.7" d="M508 325.0V327.4"/><path stroke="#f3b630" stroke-width="0.7" d="M432 319.7V322.09999999999997"/><path stroke="#f3b630" stroke-width="0.7" d="M436 319.7V322.09999999999997"/><path stroke="#f3b630" stroke-width="0.7" d="M444 324.0V326.4"/><path stroke="#f3b630" stroke-width="0.7" d="M447 324.0V326.4"/><path stroke="#f3b630" stroke-width="0.7" d="M464 328.8V331.2"/><path stroke="#f3b630" stroke-width="0.7" d="M467 328.8V331.2"/><path stroke="#f3b630" stroke-width="0.7" d="M470 328.8V331.2"/><path stroke="#f3b630" stroke-width="0.7" d="M473 328.8V331.2"/><path stroke="#f3b630" stroke-width="0.7" d="M476 328.8V331.2"/><path stroke="#f3b630" stroke-width="0.7" d="M479 328.8V331.2"/><path stroke="#f3b630" stroke-width="0.7" d="M482 328.8V331.2"/><path stroke="#f3b630" stroke-width="0.7" d="M488 335.90000000000003V338.3"/><path stroke="#f3b630" stroke-width="0.7" d="M492 335.90000000000003V338.3"/><path stroke="#f3b630" stroke-width="0.7" d="M504 335.90000000000003V338.3"/><path stroke="#3a9fd8" stroke-width="1.2" d="M391.5 353.3H400.8M396.2 351.2V355.4"/><path stroke="#f3b630" stroke-width="1.2" d="M435.8 353.5H445M440.4 351.4V355.6"/><path fill="none" stroke="#222" stroke-width="1.2" d="M354.2 399V432.4H513"/><path stroke="#222" stroke-width="0.9" d="M351.1 408H354.2"/><path stroke="#222" stroke-width="0.9" d="M351.1 423.5H354.2"/><path stroke="#222" stroke-width="0.9" d="M361.30 432.4V435"/><path stroke="#222" stroke-width="0.9" d="M413.20 432.4V435"/><path stroke="#222" stroke-width="0.9" d="M465.10 432.4V435"/>
<text x="0" y="0" font-size="10.6" fill="#111" color="#111" text-anchor="start" font-weight="bold" font-style="normal" transform="translate(7 16.6) scale(1.17 1)">A</text><text x="24.8" y="28.4" font-size="6.6" fill="#333" color="#333" text-anchor="end" font-weight="normal" font-style="normal" >1</text><text x="24.8" y="41.4" font-size="6.6" fill="#333" color="#333" text-anchor="end" font-weight="normal" font-style="normal" >0.5</text><text x="24.8" y="54.2" font-size="6.6" fill="#333" color="#333" text-anchor="end" font-weight="normal" font-style="normal" >0</text><text x="229.8" y="41.4" font-size="6.8" fill="#333" color="#333" text-anchor="start" font-weight="normal" font-style="normal" >MEM-like.prob</text><text x="229.8" y="60.0" font-size="6.55" fill="#333" color="#333" text-anchor="start" font-weight="normal" font-style="normal" >FL20 prediction</text><text x="229.8" y="68.0" font-size="6.5" fill="#333" color="#333" text-anchor="start" font-weight="normal" font-style="normal" >CC17+CC21 cluster</text><text x="230" y="76.88" font-size="6.7" fill="#333" color="#333" text-anchor="start" font-weight="normal" font-style="italic" >KIAA1211</text><text x="230" y="85.03" font-size="6.7" fill="#333" color="#333" text-anchor="start" font-weight="normal" font-style="italic" >SCPEP1</text><text x="230" y="93.19" font-size="6.7" fill="#333" color="#333" text-anchor="start" font-weight="normal" font-style="italic" >RASL11A</text><text x="230" y="101.34" font-size="6.7" fill="#333" color="#333" text-anchor="start" font-weight="normal" font-style="italic" >LMO2</text><text x="230" y="109.5" font-size="6.7" fill="#333" color="#333" text-anchor="start" font-weight="normal" font-style="italic" >HS2ST1</text><text x="230" y="117.65" font-size="6.7" fill="#333" color="#333" text-anchor="start" font-weight="normal" font-style="italic" >ENPP3</text><text x="230" y="125.81" font-size="6.7" fill="#333" color="#333" text-anchor="start" font-weight="normal" font-style="italic" >SH3RF1</text><text x="230" y="133.96" font-size="6.7" fill="#333" color="#333" text-anchor="start" font-weight="normal" font-style="italic" >SCIMP</text><text x="230" y="142.12" font-size="6.7" fill="#333" color="#333" text-anchor="start" font-weight="normal" font-style="italic" >CCDC138</text><text x="230" y="150.27" font-size="6.7" fill="#333" color="#333" text-anchor="start" font-weight="normal" font-style="italic" >SHCBP1</text><text x="230" y="158.43" font-size="6.7" fill="#333" color="#333" text-anchor="start" font-weight="normal" font-style="italic" >TTC28</text><text x="230" y="166.58" font-size="6.7" fill="#333" color="#333" text-anchor="start" font-weight="normal" font-style="italic" >FOXP1</text><text x="230" y="174.74" font-size="6.7" fill="#333" color="#333" text-anchor="start" font-weight="normal" font-style="italic" >DOPEY2</text><text x="230" y="182.89" font-size="6.7" fill="#333" color="#333" text-anchor="start" font-weight="normal" font-style="italic" >IQSEC1</text><text x="230" y="191.05" font-size="6.7" fill="#333" color="#333" text-anchor="start" font-weight="normal" font-style="italic" >PTPRJ</text><text x="230" y="199.2" font-size="6.7" fill="#333" color="#333" text-anchor="start" font-weight="normal" font-style="italic" >SLA</text><text x="230" y="207.36" font-size="6.7" fill="#333" color="#333" text-anchor="start" font-weight="normal" font-style="italic" >CXXC5</text><text x="230" y="215.51" font-size="6.7" fill="#333" color="#333" text-anchor="start" font-weight="normal" font-style="italic" >PDE4B</text><text x="230" y="223.67" font-size="6.7" fill="#333" color="#333" text-anchor="start" font-weight="normal" font-style="italic" >TCF4</text><text x="230" y="231.82" font-size="6.7" fill="#333" color="#333" text-anchor="start" font-weight="normal" font-style="italic" >MPEG1</text><text x="269.9" y="115.5" font-size="6.6" fill="#333" color="#333" text-anchor="start" font-weight="normal" font-style="normal" letter-spacing="-0.22">z-score</text><text x="279.2" y="122.10000000000001" font-size="6.2" fill="#333" color="#333" text-anchor="start" font-weight="normal" font-style="normal" >2</text><text x="279.2" y="128.5" font-size="6.2" fill="#333" color="#333" text-anchor="start" font-weight="normal" font-style="normal" >1</text><text x="279.2" y="135.2" font-size="6.2" fill="#333" color="#333" text-anchor="start" font-weight="normal" font-style="normal" >0</text><text x="278.5" y="142.0" font-size="6.2" fill="#333" color="#333" text-anchor="start" font-weight="normal" font-style="normal" >−1</text><text x="278.5" y="148.2" font-size="6.2" fill="#333" color="#333" text-anchor="start" font-weight="normal" font-style="normal" >−2</text><text x="99" y="244.6" font-size="6.6" fill="#333" color="#333" text-anchor="start" font-weight="normal" font-style="normal" >GC-like</text><text x="140" y="244.6" font-size="6.7" fill="#333" color="#333" text-anchor="start" font-weight="normal" font-style="normal" >MEM-like</text><text x="307.6" y="33.2" font-size="10.2" fill="#111" color="#111" text-anchor="start" font-weight="bold" font-style="normal" >B</text><text x="368.6" y="33.6" font-size="8.45" fill="#333" color="#333" text-anchor="start" font-weight="normal" font-style="normal" class="n" letter-spacing="0.2">FL20 subtype per treatment arm</text><text x="348.3" y="45.1" font-size="6.3" fill="#333" color="#333" text-anchor="end" font-weight="normal" font-style="normal" >100%</text><text x="348.3" y="68.0" font-size="6.3" fill="#333" color="#333" text-anchor="end" font-weight="normal" font-style="normal" >75%</text><text x="348.3" y="90.9" font-size="6.3" fill="#333" color="#333" text-anchor="end" font-weight="normal" font-style="normal" >50%</text><text x="348.3" y="113.8" font-size="6.3" fill="#333" color="#333" text-anchor="end" font-weight="normal" font-style="normal" >25%</text><text x="348.3" y="136.7" font-size="6.3" fill="#333" color="#333" text-anchor="end" font-weight="normal" font-style="normal" >0%</text><text x="361.2" y="151.9" font-size="6.4" fill="#333" color="#333" text-anchor="middle" font-weight="normal" font-style="normal" >0</text><text x="381.28" y="151.9" font-size="6.4" fill="#333" color="#333" text-anchor="middle" font-weight="normal" font-style="normal" >2</text><text x="401.36" y="151.9" font-size="6.4" fill="#333" color="#333" text-anchor="middle" font-weight="normal" font-style="normal" >4</text><text x="421.44" y="151.9" font-size="6.4" fill="#333" color="#333" text-anchor="middle" font-weight="normal" font-style="normal" >6</text><text x="441.52" y="151.9" font-size="6.4" fill="#333" color="#333" text-anchor="middle" font-weight="normal" font-style="normal" >8</text><text x="0" y="0" font-size="8.8" fill="#2a2a2a" color="#2a2a2a" text-anchor="middle" font-weight="normal" font-style="normal" transform="translate(432 163.5) scale(0.74 1)">Time (years)</text><text x="0" y="0" font-size="8.8" fill="#2a2a2a" color="#2a2a2a" text-anchor="middle" font-weight="normal" font-style="normal" transform="translate(326.7 87.4) rotate(-90) scale(0.82 1)">PFS probability</text><text x="375" y="115.6" font-size="6.55" fill="#333" color="#333" text-anchor="start" font-weight="normal" font-style="normal" >GC-like R+CHEMO</text><text x="375" y="125.9" font-size="6.6" fill="#333" color="#333" text-anchor="start" font-weight="normal" font-style="normal" >MEM-like R+CHEMO</text><text x="459" y="115.8" font-size="6.4" fill="#333" color="#333" text-anchor="start" font-weight="normal" font-style="normal" >GC-like R+R</text><text x="459" y="125.9" font-size="6.5" fill="#333" color="#333" text-anchor="start" font-weight="normal" font-style="normal" >MEM-like R+R</text><text x="361.2" y="236.3" font-size="6.4" fill="#333" color="#333" text-anchor="middle" font-weight="normal" font-style="normal" >0</text><text x="381.28" y="236.3" font-size="6.4" fill="#333" color="#333" text-anchor="middle" font-weight="normal" font-style="normal" >2</text><text x="401.36" y="236.3" font-size="6.4" fill="#333" color="#333" text-anchor="middle" font-weight="normal" font-style="normal" >4</text><text x="421.44" y="236.3" font-size="6.4" fill="#333" color="#333" text-anchor="middle" font-weight="normal" font-style="normal" >6</text><text x="441.52" y="236.3" font-size="6.4" fill="#333" color="#333" text-anchor="middle" font-weight="normal" font-style="normal" >8</text><text x="348" y="174.7" font-size="6.6" fill="#3aa3db" color="#3aa3db" text-anchor="end" font-weight="normal" font-style="normal" >GC-like,</text><text x="348" y="182.7" font-size="6.6" fill="#3aa3db" color="#3aa3db" text-anchor="end" font-weight="normal" font-style="normal" >R+CHEMO</text><text x="348" y="192.7" font-size="6.6" fill="#3aa3db" color="#3aa3db" text-anchor="end" font-weight="normal" font-style="normal" >GC-like,R+R</text><text x="348" y="203.8" font-size="6.6" fill="#f5c64a" color="#f5c64a" text-anchor="end" font-weight="normal" font-style="normal" >MEM-like,</text><text x="348" y="211.3" font-size="6.6" fill="#f5c64a" color="#f5c64a" text-anchor="end" font-weight="normal" font-style="normal" >R+CHEMO</text><text x="348" y="221.7" font-size="6.6" fill="#f5c64a" color="#f5c64a" text-anchor="end" font-weight="normal" font-style="normal" >MEM-like,R+R</text><text x="361.2" y="178.5" font-size="6.3" fill="#333" color="#333" text-anchor="middle" font-weight="normal" font-style="normal" >86</text><text x="381.28" y="178.5" font-size="6.3" fill="#333" color="#333" text-anchor="middle" font-weight="normal" font-style="normal" >73</text><text x="401.36" y="178.5" font-size="6.3" fill="#333" color="#333" text-anchor="middle" font-weight="normal" font-style="normal" >66</text><text x="421.44" y="178.5" font-size="6.3" fill="#333" color="#333" text-anchor="middle" font-weight="normal" font-style="normal" >36</text><text x="441.52" y="178.5" font-size="6.3" fill="#333" color="#333" text-anchor="middle" font-weight="normal" font-style="normal" >2</text><text x="361.2" y="192.7" font-size="6.3" fill="#333" color="#333" text-anchor="middle" font-weight="normal" font-style="normal" >78</text><text x="381.28" y="192.7" font-size="6.3" fill="#333" color="#333" text-anchor="middle" font-weight="normal" font-style="normal" >67</text><text x="401.36" y="192.7" font-size="6.3" fill="#333" color="#333" text-anchor="middle" font-weight="normal" font-style="normal" >52</text><text x="421.44" y="192.7" font-size="6.3" fill="#333" color="#333" text-anchor="middle" font-weight="normal" font-style="normal" >29</text><text x="441.52" y="192.7" font-size="6.3" fill="#333" color="#333" text-anchor="middle" font-weight="normal" font-style="normal" >0</text><text x="361.2" y="207.5" font-size="6.3" fill="#333" color="#333" text-anchor="middle" font-weight="normal" font-style="normal" >74</text><text x="381.28" y="207.5" font-size="6.3" fill="#333" color="#333" text-anchor="middle" font-weight="normal" font-style="normal" >55</text><text x="401.36" y="207.5" font-size="6.3" fill="#333" color="#333" text-anchor="middle" font-weight="normal" font-style="normal" >40</text><text x="421.44" y="207.5" font-size="6.3" fill="#333" color="#333" text-anchor="middle" font-weight="normal" font-style="normal" >20</text><text x="441.52" y="207.5" font-size="6.3" fill="#333" color="#333" text-anchor="middle" font-weight="normal" font-style="normal" >0</text><text x="361.2" y="221.6" font-size="6.3" fill="#333" color="#333" text-anchor="middle" font-weight="normal" font-style="normal" >84</text><text x="381.28" y="221.6" font-size="6.3" fill="#333" color="#333" text-anchor="middle" font-weight="normal" font-style="normal" >74</text><text x="401.36" y="221.6" font-size="6.3" fill="#333" color="#333" text-anchor="middle" font-weight="normal" font-style="normal" >60</text><text x="421.44" y="221.6" font-size="6.3" fill="#333" color="#333" text-anchor="middle" font-weight="normal" font-style="normal" >39</text><text x="441.52" y="221.6" font-size="6.3" fill="#333" color="#333" text-anchor="middle" font-weight="normal" font-style="normal" >1</text><text x="7.4" y="271.2" font-size="10.6" fill="#111" color="#111" text-anchor="start" font-weight="bold" font-style="normal" >C</text><text x="69.0" y="311.55" font-size="6.4" fill="#fff" color="#fff" text-anchor="middle" font-weight="normal" font-style="normal" >GC-like</text><text x="68.9" y="404.3" font-size="6.4" fill="#fff" color="#fff" text-anchor="middle" font-weight="normal" font-style="normal" >MEM-like</text><text x="226.75" y="311.75" font-size="6.4" fill="#fff" color="#fff" text-anchor="middle" font-weight="normal" font-style="normal" >GC-like</text><text x="226.5" y="404.3" font-size="6.4" fill="#fff" color="#fff" text-anchor="middle" font-weight="normal" font-style="normal" >MEM-like</text><text x="68.6" y="452.5" font-size="6.2" fill="#333" color="#333" text-anchor="middle" font-weight="normal" font-style="normal" >FL20_class</text><text x="227" y="453.0" font-size="6.6" fill="#333" color="#333" text-anchor="middle" font-weight="normal" font-style="normal" >Mut_RandomForest</text><text x="227" y="460.8" font-size="6.6" fill="#333" color="#333" text-anchor="middle" font-weight="normal" font-style="normal" >prediction</text><text x="306.4" y="263.5" font-size="10.6" fill="#111" color="#111" text-anchor="start" font-weight="bold" font-style="normal" >D</text><text x="389.2" y="264.0" font-size="8.3" fill="#333" color="#333" text-anchor="start" font-weight="normal" font-style="normal" class="n" letter-spacing="0.06">BCCA patients (LPS17)</text><text x="348.3" y="275.5" font-size="6.3" fill="#333" color="#333" text-anchor="end" font-weight="normal" font-style="normal" >100%</text><text x="348.3" y="298.43" font-size="6.3" fill="#333" color="#333" text-anchor="end" font-weight="normal" font-style="normal" >75%</text><text x="348.3" y="321.35" font-size="6.3" fill="#333" color="#333" text-anchor="end" font-weight="normal" font-style="normal" >50%</text><text x="348.3" y="344.27" font-size="6.3" fill="#333" color="#333" text-anchor="end" font-weight="normal" font-style="normal" >25%</text><text x="348.3" y="367.2" font-size="6.3" fill="#333" color="#333" text-anchor="end" font-weight="normal" font-style="normal" >0%</text><text x="361.3" y="381.0" font-size="6.4" fill="#333" color="#333" text-anchor="middle" font-weight="normal" font-style="normal" >0</text><text x="413.2" y="381.0" font-size="6.4" fill="#333" color="#333" text-anchor="middle" font-weight="normal" font-style="normal" >5</text><text x="465.1" y="381.0" font-size="6.4" fill="#333" color="#333" text-anchor="middle" font-weight="normal" font-style="normal" >10</text><text x="0" y="0" font-size="8.8" fill="#2a2a2a" color="#2a2a2a" text-anchor="middle" font-weight="normal" font-style="normal" transform="translate(434.2 393.8) scale(0.74 1)">Time (years)</text><text x="0" y="0" font-size="8.4" fill="#2a2a2a" color="#2a2a2a" text-anchor="middle" font-weight="normal" font-style="normal" transform="translate(327.2 319.4) rotate(-90) scale(0.82 1)">FFS probability</text><text x="404" y="355.6" font-size="6.6" fill="#333" color="#333" text-anchor="start" font-weight="normal" font-style="normal" >GC-like</text><text x="448" y="355.8" font-size="6.7" fill="#333" color="#333" text-anchor="start" font-weight="normal" font-style="normal" >MEM-like</text><text x="361.3" y="444.2" font-size="6.4" fill="#333" color="#333" text-anchor="middle" font-weight="normal" font-style="normal" >0</text><text x="413.2" y="444.2" font-size="6.4" fill="#333" color="#333" text-anchor="middle" font-weight="normal" font-style="normal" >5</text><text x="465.1" y="444.2" font-size="6.4" fill="#333" color="#333" text-anchor="middle" font-weight="normal" font-style="normal" >10</text><text x="348" y="410.3" font-size="6.5" fill="#3aa3db" color="#3aa3db" text-anchor="end" font-weight="normal" font-style="normal" >GC-like</text><text x="348" y="425.8" font-size="6.5" fill="#f5c64a" color="#f5c64a" text-anchor="end" font-weight="normal" font-style="normal" >MEM-like</text><text x="361.3" y="409.8" font-size="6.3" fill="#333" color="#333" text-anchor="middle" font-weight="normal" font-style="normal" >66</text><text x="413.2" y="409.8" font-size="6.3" fill="#333" color="#333" text-anchor="middle" font-weight="normal" font-style="normal" >47</text><text x="465.1" y="409.8" font-size="6.3" fill="#333" color="#333" text-anchor="middle" font-weight="normal" font-style="normal" >24</text><text x="361.3" y="425.8" font-size="6.3" fill="#333" color="#333" text-anchor="middle" font-weight="normal" font-style="normal" >71</text><text x="413.2" y="425.8" font-size="6.3" fill="#333" color="#333" text-anchor="middle" font-weight="normal" font-style="normal" >35</text><text x="465.1" y="425.8" font-size="6.3" fill="#333" color="#333" text-anchor="middle" font-weight="normal" font-style="normal" >14</text>
</svg><div id="bd"></div></div></body></html>
